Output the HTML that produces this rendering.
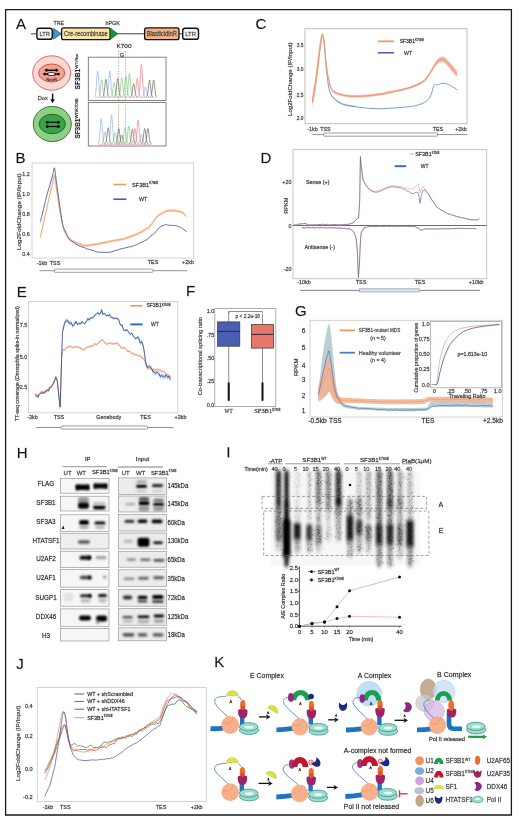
<!DOCTYPE html>
<html><head><meta charset="utf-8"><style>
html,body{margin:0;padding:0;background:#fff;}
svg{display:block;font-family:"Liberation Sans", sans-serif;will-change:transform;}
text{stroke:#2a2a2a;stroke-width:0.28px;stroke-opacity:0.55;}
</style></head><body>
<svg width="520" height="820" viewBox="0 0 520 820">
<defs>
<filter id="b1" filterUnits="userSpaceOnUse" x="0" y="0" width="520" height="820"><feGaussianBlur stdDeviation="0.6"/></filter>
<filter id="b2" x="-50%" y="-50%" width="200%" height="200%"><feGaussianBlur stdDeviation="1.2"/></filter>
<filter id="bg" filterUnits="userSpaceOnUse" x="0" y="0" width="520" height="820"><feGaussianBlur stdDeviation="1.5,2.2"/></filter>
<filter id="bh" filterUnits="userSpaceOnUse" x="0" y="0" width="520" height="820"><feGaussianBlur stdDeviation="0.9"/></filter>
<filter id="b3" x="-50%" y="-50%" width="200%" height="200%"><feGaussianBlur stdDeviation="2"/></filter>
<filter id="gn" x="0" y="0" width="100%" height="100%"><feTurbulence type="fractalNoise" baseFrequency="0.9" numOctaves="2" seed="3"/><feColorMatrix type="matrix" values="0 0 0 0 0  0 0 0 0 0  0 0 0 0 0  0 0 0 -1.2 1.0"/></filter>
</defs>
<rect x="0" y="0" width="520" height="820" fill="#fff"/>
<path d="M5.6,9.6 H511.4 V815 H5.6 Z" fill="none" stroke="#1a1a1a" stroke-width="1.3"/>
<text x="16" y="28.80" font-size="15" text-anchor="start" fill="#111" >A</text>
<text x="15.5" y="162.90" font-size="15" text-anchor="start" fill="#111" >B</text>
<text x="255.5" y="29.10" font-size="15" text-anchor="start" fill="#111" >C</text>
<text x="260.5" y="162.90" font-size="15" text-anchor="start" fill="#111" >D</text>
<text x="16.7" y="297.00" font-size="15" text-anchor="start" fill="#111" >E</text>
<text x="185.9" y="296.30" font-size="15" text-anchor="start" fill="#111" >F</text>
<text x="295" y="316.10" font-size="15" text-anchor="start" fill="#111" >G</text>
<text x="16.8" y="457.80" font-size="15" text-anchor="start" fill="#111" >H</text>
<text x="16.3" y="668.60" font-size="15" text-anchor="start" fill="#111" >J</text>
<text x="214.2" y="667.20" font-size="15" text-anchor="start" fill="#111" >K</text>
<rect x="227.6" y="447.2" width="1.6" height="10.2" rx="0" fill="#111" stroke="none" stroke-width="1" />
<line x1="31" y1="33.8" x2="183" y2="33.8" stroke="#444" stroke-width="1.0" />
<rect x="36.9" y="28.2" width="15.399999999999999" height="11.1" rx="2.4" fill="#f4f4f4" stroke="#111" stroke-width="1.4" />
<text x="44.599999999999994" y="36.20" font-size="6.1" text-anchor="middle" fill="#555" textLength="10.399999999999999" lengthAdjust="spacingAndGlyphs" >LTR</text>
<path d="M53.6,28.4 L61.3,33.8 L53.6,39.2 Z" fill="#3a9ad8" stroke="#1c3c6a" stroke-width="0.6"/>
<rect x="61.6" y="27.9" width="48.5" height="11.8" rx="2" fill="#fbe5a3" stroke="#111" stroke-width="1.3" />
<text x="85.9" y="36.32" font-size="7" text-anchor="middle" fill="#3a3a3a" textLength="43.6" lengthAdjust="spacingAndGlyphs" >Cre-recombinase</text>
<path d="M110.4,28.2 L117.8,33.8 L110.4,39.4 Z" fill="#17924a" stroke="#0c4a24" stroke-width="0.6"/>
<rect x="144.6" y="27.9" width="34.4" height="11.8" rx="2.2" fill="#f3b288" stroke="#111" stroke-width="1.3" />
<text x="161.8" y="36.18" font-size="6.6" text-anchor="middle" fill="#3a3a3a" textLength="30.3" lengthAdjust="spacingAndGlyphs" >BlasticidinR</text>
<rect x="182.7" y="28.2" width="15.800000000000011" height="11.1" rx="2.4" fill="#f4f4f4" stroke="#111" stroke-width="1.4" />
<text x="190.6" y="36.20" font-size="6.1" text-anchor="middle" fill="#555" textLength="10.800000000000011" lengthAdjust="spacingAndGlyphs" >LTR</text>
<text x="58.7" y="25.13" font-size="6.2" text-anchor="middle" fill="#333" textLength="10.4" lengthAdjust="spacingAndGlyphs" >TRE</text>
<text x="112.7" y="25.13" font-size="6.2" text-anchor="middle" fill="#333" textLength="14.6" lengthAdjust="spacingAndGlyphs" >hPGK</text>
<ellipse cx="51.7" cy="73" rx="19" ry="17.2" fill="#fbd9d2" stroke="#d85a5a" stroke-width="0.9"/>
<ellipse cx="51.7" cy="73" rx="13" ry="9" fill="#f3a294" stroke="#c9483f" stroke-width="0.9"/>
<ellipse cx="52.3" cy="124" rx="19" ry="17.6" fill="#8ecf86" stroke="#2a6a30" stroke-width="0.9"/>
<ellipse cx="52.3" cy="124" rx="13.1" ry="9.7" fill="#3ba449" stroke="#1f5b27" stroke-width="0.9"/>
<line x1="46.6" y1="70.3" x2="56.4" y2="70.3" stroke="#111" stroke-width="1.5" />
<circle cx="46.4" cy="70.3" r="1.45" fill="#111"/>
<circle cx="56.6" cy="70.3" r="1.45" fill="#111"/>
<path d="M44.6,74.1 Q51.5,70.2 58.4,74.1 Q51.5,78 44.6,74.1 Z" fill="#111"/>
<ellipse cx="51.5" cy="74.1" rx="3.3" ry="1.05" fill="#fff"/>
<circle cx="44.6" cy="74.1" r="1.45" fill="#111"/>
<circle cx="58.4" cy="74.1" r="1.45" fill="#111"/>
<text x="51.7" y="81.18" font-size="4.4" text-anchor="middle" fill="#7a1f1f" textLength="11" lengthAdjust="spacingAndGlyphs" >NeoR</text>
<line x1="47.4" y1="122.3" x2="58.3" y2="122.3" stroke="#111" stroke-width="1.3" />
<circle cx="47.3" cy="122.3" r="1.55" fill="#111"/>
<circle cx="58.4" cy="122.3" r="1.55" fill="#111"/>
<line x1="47.4" y1="126.5" x2="58.3" y2="126.5" stroke="#111" stroke-width="1.3" />
<circle cx="47.3" cy="126.5" r="1.55" fill="#111"/>
<circle cx="58.4" cy="126.5" r="1.55" fill="#111"/>
<text x="42.7" y="100.16" font-size="6" text-anchor="middle" fill="#333" textLength="10" lengthAdjust="spacingAndGlyphs" >Dox</text>
<line x1="52.6" y1="93.5" x2="52.6" y2="100" stroke="#111" stroke-width="1.4" />
<path d="M50.4,99.3 L52.6,103.2 L54.8,99.3 Z" fill="#111"/>
<text transform="translate(80.1,89.5) rotate(-90)" font-size="7.4" font-weight="bold" fill="#222"><tspan textLength="20.8" lengthAdjust="spacingAndGlyphs">SF3B1</tspan><tspan font-size="4.2" dy="-2.4" font-weight="normal" textLength="15" lengthAdjust="spacingAndGlyphs">WT/flox</tspan></text>
<text transform="translate(80.1,138.6) rotate(-90)" font-size="7.4" font-weight="bold" fill="#222"><tspan textLength="20" lengthAdjust="spacingAndGlyphs">SF3B1</tspan><tspan font-size="4.2" dy="-2.4" font-weight="normal" textLength="20.5" lengthAdjust="spacingAndGlyphs">WT/K700E</tspan></text>
<rect x="88.3" y="57.2" width="77.7" height="43.3" rx="0" fill="#fff" stroke="#666" stroke-width="0.8" />
<rect x="88.3" y="102.4" width="77.7" height="43.6" rx="0" fill="#fff" stroke="#666" stroke-width="0.8" />
<text x="124" y="47.79" font-size="5.8" text-anchor="middle" fill="#222" textLength="15" lengthAdjust="spacingAndGlyphs" >K700</text>
<text x="122.2" y="56.94" font-size="5.4" text-anchor="middle" fill="#222" >G</text>
<path d="M118.6,51 H126" fill="none" stroke="#999" stroke-width="0.5" stroke-dasharray="1,1"/>
<line x1="118.6" y1="51" x2="118.6" y2="145" stroke="#c07a80" stroke-width="0.65" stroke-dasharray="1.6,1.2"/>
<line x1="125.6" y1="51" x2="125.6" y2="145" stroke="#c07a80" stroke-width="0.65" stroke-dasharray="1.6,1.2"/>
<line x1="95" y1="97.30000000000001" x2="156" y2="97.30000000000001" stroke="#e88a90" stroke-width="0.5" />
<path d="M94.10,96.83 L94.40,96.71 L94.70,96.46 L95.00,95.95 L95.30,95.00 L95.60,93.39 L95.90,90.94 L96.20,87.56 L96.50,83.42 L96.80,78.96 L97.10,74.90 L97.40,72.04 L97.70,71.00 L98.00,72.04 L98.30,74.90 L98.60,78.96 L98.90,83.42 L99.20,87.56 L99.50,90.94 L99.80,93.39 L100.10,95.00 L100.40,95.95 L100.70,96.46 L101.00,96.71 L101.30,96.83" fill="none" stroke="#98b0e8" stroke-width="0.7"/>
<path d="M98.10,96.85 L98.40,96.78 L98.70,96.61 L99.00,96.28 L99.30,95.66 L99.60,94.61 L99.90,93.01 L100.20,90.81 L100.50,88.10 L100.80,85.20 L101.10,82.55 L101.40,80.68 L101.70,80.00 L102.00,80.68 L102.30,82.55 L102.60,85.20 L102.90,88.10 L103.20,90.81 L103.50,93.01 L103.80,94.61 L104.10,95.66 L104.40,96.28 L104.70,96.61 L105.00,96.78 L105.30,96.85" fill="none" stroke="#7ccc7c" stroke-width="0.7"/>
<path d="M102.30,96.85 L102.60,96.77 L102.90,96.60 L103.20,96.25 L103.50,95.60 L103.80,94.50 L104.10,92.83 L104.40,90.52 L104.70,87.69 L105.00,84.64 L105.30,81.87 L105.60,79.91 L105.90,79.20 L106.20,79.91 L106.50,81.87 L106.80,84.64 L107.10,87.69 L107.40,90.52 L107.70,92.83 L108.00,94.50 L108.30,95.60 L108.60,96.25 L108.90,96.60 L109.20,96.77 L109.50,96.85" fill="none" stroke="#666" stroke-width="0.7"/>
<path d="M106.20,96.83 L106.50,96.71 L106.80,96.46 L107.10,95.95 L107.40,95.00 L107.70,93.39 L108.00,90.94 L108.30,87.56 L108.60,83.42 L108.90,78.96 L109.20,74.90 L109.50,72.04 L109.80,71.00 L110.10,72.04 L110.40,74.90 L110.70,78.96 L111.00,83.42 L111.30,87.56 L111.60,90.94 L111.90,93.39 L112.20,95.00 L112.50,95.95 L112.80,96.46 L113.10,96.71 L113.40,96.83" fill="none" stroke="#98b0e8" stroke-width="0.7"/>
<path d="M110.50,96.86 L110.80,96.80 L111.10,96.66 L111.40,96.37 L111.70,95.84 L112.00,94.95 L112.30,93.59 L112.60,91.71 L112.90,89.41 L113.20,86.93 L113.50,84.67 L113.80,83.08 L114.10,82.50 L114.40,83.08 L114.70,84.67 L115.00,86.93 L115.30,89.41 L115.60,91.71 L115.90,93.59 L116.20,94.95 L116.50,95.84 L116.80,96.37 L117.10,96.66 L117.40,96.80 L117.70,96.86" fill="none" stroke="#7ccc7c" stroke-width="0.7"/>
<path d="M114.10,96.85 L114.40,96.77 L114.70,96.59 L115.00,96.22 L115.30,95.54 L115.60,94.40 L115.90,92.64 L116.20,90.23 L116.50,87.27 L116.80,84.09 L117.10,81.19 L117.40,79.14 L117.70,78.40 L118.00,79.14 L118.30,81.19 L118.60,84.09 L118.90,87.27 L119.20,90.23 L119.50,92.64 L119.80,94.40 L120.10,95.54 L120.40,96.22 L120.70,96.59 L121.00,96.77 L121.30,96.85" fill="none" stroke="#666" stroke-width="0.7"/>
<path d="M118.20,96.85 L118.50,96.76 L118.80,96.57 L119.10,96.19 L119.40,95.48 L119.70,94.29 L120.00,92.46 L120.30,89.94 L120.60,86.86 L120.90,83.53 L121.20,80.51 L121.50,78.37 L121.80,77.60 L122.10,78.37 L122.40,80.51 L122.70,83.53 L123.00,86.86 L123.30,89.94 L123.60,92.46 L123.90,94.29 L124.20,95.48 L124.50,96.19 L124.80,96.57 L125.10,96.76 L125.40,96.85" fill="none" stroke="#7ccc7c" stroke-width="0.7"/>
<path d="M122.30,96.84 L122.60,96.75 L122.90,96.55 L123.20,96.13 L123.50,95.37 L123.80,94.07 L124.10,92.09 L124.40,89.37 L124.70,86.02 L125.00,82.43 L125.30,79.15 L125.60,76.84 L125.90,76.00 L126.20,76.84 L126.50,79.15 L126.80,82.43 L127.10,86.02 L127.40,89.37 L127.70,92.09 L128.00,94.07 L128.30,95.37 L128.60,96.13 L128.90,96.55 L129.20,96.75 L129.50,96.84" fill="none" stroke="#7ccc7c" stroke-width="0.7"/>
<path d="M125.90,96.83 L126.20,96.73 L126.50,96.51 L126.80,96.04 L127.10,95.18 L127.40,93.73 L127.70,91.52 L128.00,88.47 L128.30,84.72 L128.60,80.69 L128.90,77.02 L129.20,74.44 L129.50,73.50 L129.80,74.44 L130.10,77.02 L130.40,80.69 L130.70,84.72 L131.00,88.47 L131.30,91.52 L131.60,93.73 L131.90,95.18 L132.20,96.04 L132.50,96.51 L132.80,96.73 L133.10,96.83" fill="none" stroke="#7ccc7c" stroke-width="0.7"/>
<path d="M130.10,96.86 L130.40,96.81 L130.70,96.68 L131.00,96.42 L131.30,95.94 L131.60,95.13 L131.90,93.89 L132.20,92.18 L132.50,90.08 L132.80,87.83 L133.10,85.77 L133.40,84.32 L133.70,83.80 L134.00,84.32 L134.30,85.77 L134.60,87.83 L134.90,90.08 L135.20,92.18 L135.50,93.89 L135.80,95.13 L136.10,95.94 L136.40,96.42 L136.70,96.68 L137.00,96.81 L137.30,96.86" fill="none" stroke="#666" stroke-width="0.7"/>
<path d="M133.70,96.85 L134.00,96.77 L134.30,96.59 L134.60,96.22 L134.90,95.54 L135.20,94.40 L135.50,92.64 L135.80,90.23 L136.10,87.27 L136.40,84.09 L136.70,81.19 L137.00,79.14 L137.30,78.40 L137.60,79.14 L137.90,81.19 L138.20,84.09 L138.50,87.27 L138.80,90.23 L139.10,92.64 L139.40,94.40 L139.70,95.54 L140.00,96.22 L140.30,96.59 L140.60,96.77 L140.90,96.85" fill="none" stroke="#ee7f86" stroke-width="0.7"/>
<path d="M137.80,96.81 L138.10,96.67 L138.40,96.35 L138.70,95.71 L139.00,94.52 L139.30,92.52 L139.60,89.45 L139.90,85.22 L140.20,80.04 L140.50,74.46 L140.80,69.38 L141.10,65.80 L141.40,64.50 L141.70,65.80 L142.00,69.38 L142.30,74.46 L142.60,80.04 L142.90,85.22 L143.20,89.45 L143.50,92.52 L143.80,94.52 L144.10,95.71 L144.40,96.35 L144.70,96.67 L145.00,96.81" fill="none" stroke="#ee7f86" stroke-width="0.7"/>
<path d="M141.90,96.87 L142.20,96.83 L142.50,96.73 L142.80,96.54 L143.10,96.17 L143.40,95.56 L143.70,94.62 L144.00,93.33 L144.30,91.75 L144.60,90.04 L144.90,88.49 L145.20,87.40 L145.50,87.00 L145.80,87.40 L146.10,88.49 L146.40,90.04 L146.70,91.75 L147.00,93.33 L147.30,94.62 L147.60,95.56 L147.90,96.17 L148.20,96.54 L148.50,96.73 L148.80,96.83 L149.10,96.87" fill="none" stroke="#98b0e8" stroke-width="0.7"/>
<path d="M146.00,96.85 L146.30,96.78 L146.60,96.61 L146.90,96.28 L147.20,95.66 L147.50,94.61 L147.80,93.01 L148.10,90.81 L148.40,88.10 L148.70,85.20 L149.00,82.55 L149.30,80.68 L149.60,80.00 L149.90,80.68 L150.20,82.55 L150.50,85.20 L150.80,88.10 L151.10,90.81 L151.40,93.01 L151.70,94.61 L152.00,95.66 L152.30,96.28 L152.60,96.61 L152.90,96.78 L153.20,96.85" fill="none" stroke="#666" stroke-width="0.7"/>
<path d="M150.00,96.85 L150.30,96.78 L150.60,96.61 L150.90,96.28 L151.20,95.66 L151.50,94.61 L151.80,93.01 L152.10,90.81 L152.40,88.10 L152.70,85.20 L153.00,82.55 L153.30,80.68 L153.60,80.00 L153.90,80.68 L154.20,82.55 L154.50,85.20 L154.80,88.10 L155.10,90.81 L155.40,93.01 L155.70,94.61 L156.00,95.66 L156.30,96.28 L156.60,96.61 L156.90,96.78 L157.20,96.85" fill="none" stroke="#666" stroke-width="0.7"/>
<line x1="99" y1="144.4" x2="151" y2="144.4" stroke="#e88a90" stroke-width="0.5" />
<path d="M97.70,143.93 L98.00,143.82 L98.30,143.57 L98.60,143.07 L98.90,142.14 L99.20,140.58 L99.50,138.18 L99.80,134.88 L100.10,130.83 L100.40,126.48 L100.70,122.51 L101.00,119.71 L101.30,118.70 L101.60,119.71 L101.90,122.51 L102.20,126.48 L102.50,130.83 L102.80,134.88 L103.10,138.18 L103.40,140.58 L103.70,142.14 L104.00,143.07 L104.30,143.57 L104.60,143.82 L104.90,143.93" fill="none" stroke="#98b0e8" stroke-width="0.7"/>
<path d="M101.40,143.97 L101.70,143.91 L102.00,143.79 L102.30,143.55 L102.60,143.10 L102.90,142.35 L103.20,141.19 L103.50,139.60 L103.80,137.65 L104.10,135.55 L104.40,133.64 L104.70,132.29 L105.00,131.80 L105.30,132.29 L105.60,133.64 L105.90,135.55 L106.20,137.65 L106.50,139.60 L106.80,141.19 L107.10,142.35 L107.40,143.10 L107.70,143.55 L108.00,143.79 L108.30,143.91 L108.60,143.97" fill="none" stroke="#7ccc7c" stroke-width="0.7"/>
<path d="M104.60,143.95 L104.90,143.88 L105.20,143.72 L105.50,143.40 L105.80,142.80 L106.10,141.79 L106.40,140.25 L106.70,138.12 L107.00,135.52 L107.30,132.71 L107.60,130.16 L107.90,128.35 L108.20,127.70 L108.50,128.35 L108.80,130.16 L109.10,132.71 L109.40,135.52 L109.70,138.12 L110.00,140.25 L110.30,141.79 L110.60,142.80 L110.90,143.40 L111.20,143.72 L111.50,143.88 L111.80,143.95" fill="none" stroke="#666" stroke-width="0.7"/>
<path d="M108.00,143.92 L108.30,143.79 L108.60,143.50 L108.90,142.92 L109.20,141.84 L109.50,140.02 L109.80,137.24 L110.10,133.40 L110.40,128.70 L110.70,123.64 L111.00,119.03 L111.30,115.78 L111.60,114.60 L111.90,115.78 L112.20,119.03 L112.50,123.64 L112.80,128.70 L113.10,133.40 L113.40,137.24 L113.70,140.02 L114.00,141.84 L114.30,142.92 L114.60,143.50 L114.90,143.79 L115.20,143.92" fill="none" stroke="#98b0e8" stroke-width="0.7"/>
<path d="M111.60,143.97 L111.90,143.92 L112.20,143.81 L112.50,143.58 L112.80,143.16 L113.10,142.46 L113.40,141.38 L113.70,139.89 L114.00,138.07 L114.30,136.10 L114.60,134.32 L114.90,133.06 L115.20,132.60 L115.50,133.06 L115.80,134.32 L116.10,136.10 L116.40,138.07 L116.70,139.89 L117.00,141.38 L117.30,142.46 L117.60,143.16 L117.90,143.58 L118.20,143.81 L118.50,143.92 L118.80,143.97" fill="none" stroke="#7ccc7c" stroke-width="0.7"/>
<path d="M115.20,143.96 L115.50,143.89 L115.80,143.74 L116.10,143.43 L116.40,142.86 L116.70,141.90 L117.00,140.43 L117.30,138.41 L117.60,135.93 L117.90,133.27 L118.20,130.83 L118.50,129.12 L118.80,128.50 L119.10,129.12 L119.40,130.83 L119.70,133.27 L120.00,135.93 L120.30,138.41 L120.60,140.43 L120.90,141.90 L121.20,142.86 L121.50,143.43 L121.80,143.74 L122.10,143.89 L122.40,143.96" fill="none" stroke="#666" stroke-width="0.7"/>
<path d="M118.20,143.97 L118.50,143.94 L118.80,143.85 L119.10,143.67 L119.40,143.34 L119.70,142.78 L120.00,141.93 L120.30,140.76 L120.60,139.32 L120.90,137.77 L121.20,136.36 L121.50,135.36 L121.80,135.00 L122.10,135.36 L122.40,136.36 L122.70,137.77 L123.00,139.32 L123.30,140.76 L123.60,141.93 L123.90,142.78 L124.20,143.34 L124.50,143.67 L124.80,143.85 L125.10,143.94 L125.40,143.97" fill="none" stroke="#666" stroke-width="0.7"/>
<path d="M121.40,143.95 L121.70,143.88 L122.00,143.72 L122.30,143.40 L122.60,142.80 L122.90,141.79 L123.20,140.25 L123.50,138.12 L123.80,135.52 L124.10,132.71 L124.40,130.16 L124.70,128.35 L125.00,127.70 L125.30,128.35 L125.60,130.16 L125.90,132.71 L126.20,135.52 L126.50,138.12 L126.80,140.25 L127.10,141.79 L127.40,142.80 L127.70,143.40 L128.00,143.72 L128.30,143.88 L128.60,143.95" fill="none" stroke="#7ccc7c" stroke-width="0.7"/>
<path d="M125.20,143.95 L125.50,143.87 L125.80,143.70 L126.10,143.34 L126.40,142.68 L126.70,141.56 L127.00,139.86 L127.30,137.51 L127.60,134.63 L127.90,131.53 L128.20,128.71 L128.50,126.72 L128.80,126.00 L129.10,126.72 L129.40,128.71 L129.70,131.53 L130.00,134.63 L130.30,137.51 L130.60,139.86 L130.90,141.56 L131.20,142.68 L131.50,143.34 L131.80,143.70 L132.10,143.87 L132.40,143.95" fill="none" stroke="#7ccc7c" stroke-width="0.7"/>
<path d="M128.80,143.96 L129.10,143.89 L129.40,143.75 L129.70,143.46 L130.00,142.92 L130.30,142.01 L130.60,140.62 L130.90,138.70 L131.20,136.35 L131.50,133.82 L131.80,131.51 L132.10,129.89 L132.40,129.30 L132.70,129.89 L133.00,131.51 L133.30,133.82 L133.60,136.35 L133.90,138.70 L134.20,140.62 L134.50,142.01 L134.80,142.92 L135.10,143.46 L135.40,143.75 L135.70,143.89 L136.00,143.96" fill="none" stroke="#666" stroke-width="0.7"/>
<path d="M131.30,143.96 L131.60,143.89 L131.90,143.74 L132.20,143.43 L132.50,142.86 L132.80,141.90 L133.10,140.43 L133.40,138.41 L133.70,135.93 L134.00,133.27 L134.30,130.83 L134.60,129.12 L134.90,128.50 L135.20,129.12 L135.50,130.83 L135.80,133.27 L136.10,135.93 L136.40,138.41 L136.70,140.43 L137.00,141.90 L137.30,142.86 L137.60,143.43 L137.90,143.74 L138.20,143.89 L138.50,143.96" fill="none" stroke="#ee7f86" stroke-width="0.7"/>
<path d="M134.50,143.93 L134.80,143.83 L135.10,143.60 L135.40,143.13 L135.70,142.26 L136.00,140.79 L136.30,138.55 L136.60,135.46 L136.90,131.67 L137.20,127.59 L137.50,123.87 L137.80,121.25 L138.10,120.30 L138.40,121.25 L138.70,123.87 L139.00,127.59 L139.30,131.67 L139.60,135.46 L139.90,138.55 L140.20,140.79 L140.50,142.26 L140.80,143.13 L141.10,143.60 L141.40,143.83 L141.70,143.93" fill="none" stroke="#ee7f86" stroke-width="0.7"/>
<path d="M137.80,143.97 L138.10,143.93 L138.40,143.83 L138.70,143.64 L139.00,143.28 L139.30,142.67 L139.60,141.75 L139.90,140.47 L140.20,138.90 L140.50,137.21 L140.80,135.68 L141.10,134.59 L141.40,134.20 L141.70,134.59 L142.00,135.68 L142.30,137.21 L142.60,138.90 L142.90,140.47 L143.20,141.75 L143.50,142.67 L143.80,143.28 L144.10,143.64 L144.40,143.83 L144.70,143.93 L145.00,143.97" fill="none" stroke="#98b0e8" stroke-width="0.7"/>
<path d="M141.10,143.96 L141.40,143.89 L141.70,143.74 L142.00,143.43 L142.30,142.86 L142.60,141.90 L142.90,140.43 L143.20,138.41 L143.50,135.93 L143.80,133.27 L144.10,130.83 L144.40,129.12 L144.70,128.50 L145.00,129.12 L145.30,130.83 L145.60,133.27 L145.90,135.93 L146.20,138.41 L146.50,140.43 L146.80,141.90 L147.10,142.86 L147.40,143.43 L147.70,143.74 L148.00,143.89 L148.30,143.96" fill="none" stroke="#666" stroke-width="0.7"/>
<path d="M144.30,143.96 L144.60,143.89 L144.90,143.74 L145.20,143.43 L145.50,142.86 L145.80,141.90 L146.10,140.43 L146.40,138.41 L146.70,135.93 L147.00,133.27 L147.30,130.83 L147.60,129.12 L147.90,128.50 L148.20,129.12 L148.50,130.83 L148.80,133.27 L149.10,135.93 L149.40,138.41 L149.70,140.43 L150.00,141.90 L150.30,142.86 L150.60,143.43 L150.90,143.74 L151.20,143.89 L151.50,143.96" fill="none" stroke="#666" stroke-width="0.7"/>
<rect x="32" y="163" width="161.7" height="95" rx="0" fill="none" stroke="#c8c8c8" stroke-width="0.8" />
<text x="29.8" y="176.44" font-size="5.4" text-anchor="end" fill="#333" >1.2</text>
<text x="29.8" y="196.44" font-size="5.4" text-anchor="end" fill="#333" >1.0</text>
<text x="29.8" y="216.44" font-size="5.4" text-anchor="end" fill="#333" >0.8</text>
<text x="29.8" y="236.44" font-size="5.4" text-anchor="end" fill="#333" >0.6</text>
<text x="29.8" y="256.44" font-size="5.4" text-anchor="end" fill="#333" >0.4</text>
<text transform="translate(18.9,211.7) rotate(-90)" x="0" y="2.09" font-size="5.8" text-anchor="middle" fill="#333" textLength="76.6" lengthAdjust="spacingAndGlyphs" >Log2FoldChange (IP/Input)</text>
<text x="41.9" y="264.94" font-size="5.4" text-anchor="middle" fill="#333" >-1kb</text>
<text x="55" y="264.94" font-size="5.4" text-anchor="middle" fill="#333" >TSS</text>
<text x="153" y="264.44" font-size="5.4" text-anchor="middle" fill="#333" >TES</text>
<text x="188" y="264.44" font-size="5.4" text-anchor="middle" fill="#333" >+2kb</text>
<line x1="39.5" y1="270.7" x2="187" y2="270.7" stroke="#777" stroke-width="0.8" />
<rect x="54.5" y="269.09999999999997" width="98.5" height="3.2" rx="0.6" fill="#fff" stroke="#777" stroke-width="0.7" />
<path d="M40.50,235.50 C41.58,230.53 44.67,215.88 47.00,205.70 C49.33,195.52 52.43,174.07 54.50,174.40 C56.57,174.73 57.77,198.43 59.40,207.70 C61.03,216.97 62.38,224.82 64.30,230.00 C66.22,235.18 67.63,236.42 70.90,238.80 C74.17,241.18 79.82,243.60 83.90,244.30 C87.98,245.00 91.30,243.65 95.40,243.00 C99.50,242.35 103.60,241.37 108.50,240.40 C113.40,239.43 119.90,238.55 124.80,237.20 C129.70,235.85 133.82,234.22 137.90,232.30 C141.98,230.38 146.03,228.60 149.30,225.70 C152.57,222.80 154.50,217.62 157.50,214.90 C160.50,212.18 164.30,210.32 167.30,209.40 C170.30,208.48 173.05,209.13 175.50,209.40 C177.95,209.67 180.20,210.08 182.00,211.00 C183.80,211.92 185.58,214.25 186.30,214.90 L186.30,217.50 C185.58,216.85 183.80,214.52 182.00,213.60 C180.20,212.68 177.95,212.27 175.50,212.00 C173.05,211.73 170.30,211.08 167.30,212.00 C164.30,212.92 160.50,214.78 157.50,217.50 C154.50,220.22 152.57,225.40 149.30,228.30 C146.03,231.20 141.98,232.98 137.90,234.90 C133.82,236.82 129.70,238.45 124.80,239.80 C119.90,241.15 113.40,242.03 108.50,243.00 C103.60,243.97 99.50,244.95 95.40,245.60 C91.30,246.25 87.98,247.60 83.90,246.90 C79.82,246.20 74.17,243.78 70.90,241.40 C67.63,239.02 66.22,237.78 64.30,232.60 C62.38,227.42 61.03,219.57 59.40,210.30 C57.77,201.03 56.57,177.33 54.50,177.00 C52.43,176.67 49.33,198.12 47.00,208.30 C44.67,218.48 41.58,233.13 40.50,238.10 Z" fill="#f8c9a6" fill-opacity="0.8" stroke="none"/>
<path d="M40.50,236.67 C40.77,235.45 41.58,231.84 42.12,229.37 C42.67,226.90 43.21,224.31 43.75,221.83 C44.29,219.36 44.83,216.96 45.38,214.50 C45.92,212.04 46.48,209.39 47.00,207.06 C47.52,204.73 48.00,202.66 48.50,200.52 C49.00,198.39 49.50,196.26 50.00,194.24 C50.50,192.21 51.00,190.45 51.50,188.39 C52.00,186.32 52.50,183.98 53.00,181.84 C53.50,179.70 53.98,174.70 54.50,175.57 C55.02,176.44 55.59,183.33 56.13,187.05 C56.68,190.77 57.22,194.20 57.77,197.89 C58.31,201.57 58.86,206.08 59.40,209.17 C59.94,212.26 60.49,213.96 61.03,216.42 C61.58,218.88 62.12,221.49 62.67,223.94 C63.21,226.39 63.75,229.52 64.30,231.13 C64.85,232.73 65.40,232.77 65.95,233.57 C66.50,234.36 67.05,235.16 67.60,235.88 C68.15,236.61 68.70,237.19 69.25,237.91 C69.80,238.63 70.35,239.73 70.90,240.22 C71.45,240.71 71.98,240.70 72.53,240.87 C73.07,241.05 73.61,241.02 74.15,241.26 C74.69,241.49 75.23,242.02 75.78,242.29 C76.32,242.56 76.86,242.70 77.40,242.90 C77.94,243.09 78.48,243.26 79.03,243.44 C79.57,243.62 80.11,243.71 80.65,243.99 C81.19,244.27 81.73,244.83 82.28,245.10 C82.82,245.36 83.36,245.51 83.90,245.59 C84.44,245.66 85.00,245.55 85.54,245.52 C86.09,245.50 86.64,245.48 87.19,245.42 C87.73,245.36 88.28,245.21 88.83,245.15 C89.38,245.09 89.92,245.16 90.47,245.07 C91.02,244.98 91.57,244.69 92.11,244.62 C92.66,244.55 93.21,244.69 93.76,244.64 C94.30,244.58 94.85,244.35 95.40,244.27 C95.95,244.20 96.49,244.26 97.04,244.19 C97.58,244.12 98.13,244.02 98.68,243.84 C99.22,243.66 99.77,243.29 100.31,243.12 C100.86,242.95 101.40,242.92 101.95,242.82 C102.50,242.72 103.04,242.57 103.59,242.53 C104.13,242.49 104.68,242.67 105.22,242.58 C105.77,242.49 106.32,242.13 106.86,241.99 C107.41,241.86 107.96,241.88 108.50,241.76 C109.04,241.64 109.59,241.40 110.13,241.28 C110.67,241.16 111.22,241.16 111.76,241.06 C112.30,240.96 112.85,240.80 113.39,240.68 C113.93,240.56 114.48,240.44 115.02,240.35 C115.56,240.26 116.11,240.23 116.65,240.14 C117.19,240.06 117.74,239.90 118.28,239.82 C118.82,239.74 119.37,239.76 119.91,239.66 C120.45,239.56 121.00,239.34 121.54,239.23 C122.08,239.13 122.63,239.13 123.17,239.03 C123.71,238.94 124.26,238.83 124.80,238.68 C125.34,238.53 125.89,238.35 126.44,238.13 C126.98,237.91 127.53,237.63 128.07,237.36 C128.62,237.09 129.17,236.68 129.71,236.49 C130.26,236.31 130.80,236.37 131.35,236.23 C131.90,236.09 132.44,235.87 132.99,235.67 C133.53,235.47 134.08,235.26 134.62,235.03 C135.17,234.79 135.72,234.47 136.26,234.25 C136.81,234.03 137.36,234.00 137.90,233.71 C138.44,233.42 138.99,232.82 139.53,232.51 C140.07,232.21 140.61,232.16 141.16,231.88 C141.70,231.60 142.24,231.17 142.79,230.81 C143.33,230.45 143.87,230.08 144.41,229.72 C144.96,229.36 145.50,228.93 146.04,228.67 C146.59,228.40 147.13,228.36 147.67,228.12 C148.21,227.88 148.76,227.83 149.30,227.24 C149.84,226.66 150.39,225.37 150.94,224.63 C151.49,223.90 152.03,223.52 152.58,222.83 C153.13,222.14 153.67,221.25 154.22,220.48 C154.77,219.70 155.31,218.92 155.86,218.19 C156.41,217.46 156.95,216.56 157.50,216.10 C158.05,215.64 158.59,215.68 159.13,215.42 C159.68,215.16 160.22,214.92 160.77,214.55 C161.31,214.19 161.86,213.55 162.40,213.22 C162.94,212.90 163.49,212.90 164.03,212.59 C164.58,212.29 165.12,211.69 165.67,211.39 C166.21,211.09 166.75,210.94 167.30,210.81 C167.85,210.68 168.39,210.60 168.94,210.62 C169.49,210.63 170.03,210.84 170.58,210.89 C171.13,210.94 171.67,210.97 172.22,210.94 C172.77,210.91 173.31,210.70 173.86,210.70 C174.41,210.70 174.96,210.90 175.50,210.95 C176.04,211.00 176.58,210.95 177.12,211.00 C177.67,211.06 178.21,211.13 178.75,211.29 C179.29,211.45 179.83,211.82 180.38,211.95 C180.92,212.08 181.37,211.71 182.00,212.07 C182.63,212.42 183.43,213.42 184.15,214.10 C184.87,214.78 185.94,215.81 186.30,216.15" fill="none" stroke="#f29a5c" stroke-width="0.9" stroke-linejoin="round" stroke-linecap="round" />
<path d="M40.50,221.37 C40.77,220.25 41.58,216.87 42.12,214.68 C42.67,212.48 43.21,210.40 43.75,208.20 C44.29,205.99 44.83,203.69 45.38,201.45 C45.92,199.22 46.48,196.76 47.00,194.78 C47.52,192.81 48.00,191.31 48.50,189.59 C49.00,187.88 49.50,186.24 50.00,184.49 C50.50,182.74 51.00,180.87 51.50,179.07 C52.00,177.27 52.50,175.53 53.00,173.69 C53.50,171.86 53.89,166.39 54.50,168.06 C55.11,169.73 55.93,178.55 56.65,183.72 C57.37,188.89 58.12,194.35 58.80,199.09 C59.48,203.82 60.10,207.78 60.75,212.14 C61.40,216.49 62.05,222.29 62.70,225.20 C63.35,228.12 64.01,228.10 64.67,229.62 C65.32,231.15 65.98,232.84 66.63,234.35 C67.29,235.85 67.97,237.71 68.60,238.66 C69.23,239.62 69.80,239.62 70.40,240.10 C71.00,240.58 71.60,241.12 72.20,241.55 C72.80,241.98 73.40,242.25 74.00,242.70 C74.60,243.14 75.23,243.82 75.80,244.20 C76.37,244.59 76.89,244.77 77.43,245.02 C77.97,245.27 78.51,245.49 79.06,245.73 C79.60,245.97 80.14,246.22 80.69,246.45 C81.23,246.68 81.77,246.96 82.31,247.12 C82.86,247.27 83.40,247.18 83.94,247.38 C84.49,247.58 85.03,248.03 85.57,248.30 C86.11,248.56 86.66,248.81 87.20,248.99 C87.74,249.17 88.29,249.26 88.83,249.37 C89.37,249.49 89.91,249.53 90.46,249.68 C91.00,249.84 91.54,250.15 92.09,250.30 C92.63,250.45 93.17,250.38 93.71,250.58 C94.26,250.78 94.80,251.25 95.34,251.47 C95.89,251.70 96.43,251.79 96.97,251.91 C97.51,252.04 98.06,252.19 98.60,252.22 C99.14,252.26 99.69,252.07 100.23,252.10 C100.77,252.13 101.31,252.38 101.86,252.40 C102.40,252.43 102.94,252.24 103.49,252.24 C104.03,252.23 104.57,252.37 105.11,252.39 C105.66,252.41 106.20,252.41 106.74,252.37 C107.29,252.34 107.83,252.24 108.37,252.20 C108.91,252.17 109.45,252.23 110.00,252.16 C110.55,252.09 111.10,251.93 111.64,251.78 C112.19,251.62 112.74,251.42 113.29,251.22 C113.83,251.03 114.38,250.78 114.93,250.62 C115.48,250.45 116.02,250.32 116.57,250.22 C117.12,250.11 117.67,250.18 118.21,250.00 C118.76,249.82 119.31,249.36 119.86,249.14 C120.40,248.92 120.95,248.77 121.50,248.67 C122.05,248.57 122.59,248.67 123.14,248.55 C123.68,248.43 124.23,248.11 124.78,247.97 C125.32,247.82 125.87,247.80 126.41,247.68 C126.96,247.56 127.50,247.39 128.05,247.24 C128.60,247.08 129.14,246.85 129.69,246.76 C130.23,246.67 130.78,246.82 131.32,246.67 C131.87,246.52 132.42,246.05 132.96,245.86 C133.51,245.67 134.06,245.76 134.60,245.56 C135.14,245.36 135.69,244.91 136.23,244.67 C136.77,244.42 137.31,244.35 137.86,244.09 C138.40,243.84 138.94,243.42 139.49,243.13 C140.03,242.85 140.57,242.61 141.11,242.39 C141.66,242.16 142.20,242.06 142.74,241.79 C143.29,241.53 143.83,241.07 144.37,240.80 C144.91,240.52 145.46,240.43 146.00,240.13 C146.54,239.83 147.09,239.47 147.64,239.00 C148.19,238.53 148.73,237.80 149.28,237.30 C149.83,236.80 150.37,236.40 150.92,235.98 C151.47,235.56 152.01,235.14 152.56,234.76 C153.11,234.39 153.60,234.28 154.20,233.73 C154.80,233.18 155.51,232.24 156.17,231.46 C156.82,230.68 157.48,229.83 158.13,229.07 C158.79,228.31 159.46,227.41 160.10,226.92 C160.74,226.42 161.34,226.32 161.97,226.07 C162.59,225.83 163.21,225.71 163.83,225.45 C164.46,225.18 165.12,224.56 165.70,224.47 C166.28,224.39 166.78,224.82 167.32,224.94 C167.86,225.06 168.40,225.11 168.94,225.18 C169.48,225.25 170.02,225.31 170.56,225.35 C171.10,225.38 171.64,225.33 172.18,225.38 C172.72,225.42 173.25,225.60 173.80,225.63 C174.35,225.66 174.90,225.48 175.45,225.56 C176.00,225.64 176.55,225.88 177.10,226.09 C177.65,226.31 178.20,226.66 178.75,226.83 C179.30,227.01 179.80,226.88 180.40,227.14 C181.00,227.40 181.71,227.90 182.37,228.39 C183.02,228.88 183.68,229.59 184.33,230.09 C184.99,230.58 185.97,231.15 186.30,231.36" fill="none" stroke="#4b5ca8" stroke-width="0.9" stroke-linejoin="round" stroke-linecap="round" />
<line x1="113.4" y1="184.5" x2="126.4" y2="184.5" stroke="#f29a5c" stroke-width="1.6" />
<line x1="113.4" y1="199.2" x2="126.4" y2="199.2" stroke="#4b5ca8" stroke-width="1.6" />
<text x="132" y="186.52" font-size="5.6" text-anchor="start" fill="#222">SF3B1<tspan font-size="3.1" dy="-2.13">K700E</tspan></text>
<text x="138.9" y="200.94" font-size="5.4" text-anchor="start" fill="#333" >WT</text>
<rect x="305" y="28.75" width="162" height="95.0" rx="0" fill="none" stroke="#b0b0b0" stroke-width="0.8" />
<text x="303.5" y="47.48" font-size="4.8" text-anchor="end" fill="#333" >3.5</text>
<text x="303.5" y="71.23" font-size="4.8" text-anchor="end" fill="#333" >3.0</text>
<text x="303.5" y="96.73" font-size="4.8" text-anchor="end" fill="#333" >2.5</text>
<text x="303.5" y="119.73" font-size="4.8" text-anchor="end" fill="#333" >2.0</text>
<text transform="translate(290,79.25) rotate(-90)" x="0" y="2.20" font-size="6.1" text-anchor="middle" fill="#333" textLength="73.5" lengthAdjust="spacingAndGlyphs" >Log2FoldChange (IP/Input)</text>
<text x="312.5" y="130.66" font-size="5.3" text-anchor="middle" fill="#333" >-1kb</text>
<text x="325.4" y="130.66" font-size="5.3" text-anchor="middle" fill="#333" >TSS</text>
<text x="438" y="130.91" font-size="5.3" text-anchor="middle" fill="#333" >TES</text>
<text x="461" y="130.91" font-size="5.3" text-anchor="middle" fill="#333" >+2kb</text>
<line x1="312.5" y1="134.6" x2="467.5" y2="134.6" stroke="#777" stroke-width="0.8" />
<rect x="323.75" y="133.0" width="113.75" height="3.2" rx="0.6" fill="#fff" stroke="#777" stroke-width="0.7" />
<path d="M324.30,44.00 C324.67,48.17 325.65,61.43 326.50,69.00 C327.35,76.57 328.10,84.63 329.40,89.40 C330.70,94.17 332.12,95.32 334.30,97.60 C336.48,99.88 338.95,101.75 342.50,103.10 C346.05,104.45 353.42,105.27 355.60,105.70 L355.60,107.70 C353.42,107.27 346.05,106.45 342.50,105.10 C338.95,103.75 336.48,101.88 334.30,99.60 C332.12,97.32 330.70,96.17 329.40,91.40 C328.10,86.63 327.35,78.57 326.50,71.00 C325.65,63.43 324.67,50.17 324.30,46.00 Z" fill="#b8d0ec" fill-opacity="0.8" stroke="none"/>
<path d="M312.40,101.80 C313.00,98.17 314.82,88.30 316.00,80.00 C317.18,71.70 318.47,59.50 319.50,52.00 C320.53,44.50 321.40,36.17 322.20,35.00 C323.00,33.83 323.58,39.17 324.30,45.00 C325.02,50.83 325.65,62.43 326.50,70.00 C327.35,77.57 328.10,85.63 329.40,90.40 C330.70,95.17 332.12,96.32 334.30,98.60 C336.48,100.88 338.95,102.75 342.50,104.10 C346.05,105.45 350.15,105.93 355.60,106.70 C361.05,107.47 368.12,108.53 375.20,108.70 C382.28,108.87 391.02,108.30 398.10,107.70 C405.18,107.10 412.53,106.62 417.70,105.10 C422.87,103.58 426.38,101.87 429.10,98.60 C431.82,95.33 432.63,87.80 434.00,85.50 C435.37,83.20 435.67,85.18 437.30,84.80 C438.93,84.42 441.62,83.08 443.80,83.20 C445.98,83.32 448.22,84.42 450.40,85.50 C452.58,86.58 455.82,89.00 456.90,89.70" fill="none" stroke="#5a84c0" stroke-width="0.8" stroke-linejoin="round" stroke-linecap="round" />
<path d="M312.40,95.80 C313.00,91.83 314.82,80.63 316.00,72.00 C317.18,63.37 318.47,50.50 319.50,44.00 C320.53,37.50 321.40,33.83 322.20,33.00 C323.00,32.17 323.63,34.63 324.30,39.00 C324.97,43.37 325.23,51.78 326.20,59.20 C327.17,66.62 328.47,78.08 330.10,83.50 C331.73,88.92 332.30,89.77 336.00,91.70 C339.70,93.63 346.32,94.70 352.30,95.10 C358.28,95.50 365.37,94.82 371.90,94.10 C378.43,93.38 384.97,92.17 391.50,90.80 C398.03,89.43 405.65,87.82 411.10,85.90 C416.55,83.98 420.65,82.42 424.20,79.30 C427.75,76.18 430.22,70.53 432.40,67.20 C434.58,63.87 435.55,61.08 437.30,59.30 C439.05,57.53 441.00,56.23 442.90,56.55 C444.80,56.87 446.92,59.48 448.70,61.20 C450.48,62.92 452.23,65.26 453.60,66.85 C454.97,68.44 456.35,70.10 456.90,70.75 L456.90,77.25 C456.35,76.60 454.97,75.02 453.60,73.35 C452.23,71.67 450.48,69.08 448.70,67.20 C446.92,65.32 444.80,62.60 442.90,62.05 C441.00,61.50 439.05,62.41 437.30,63.90 C435.55,65.39 434.58,68.00 432.40,71.00 C430.22,74.00 427.75,79.02 424.20,81.90 C420.65,84.78 416.55,86.42 411.10,88.30 C405.65,90.18 398.03,91.83 391.50,93.20 C384.97,94.57 378.43,95.78 371.90,96.50 C365.37,97.22 358.28,97.87 352.30,97.50 C346.32,97.13 339.70,95.97 336.00,94.30 C332.30,92.63 331.73,91.68 330.10,87.50 C328.47,83.32 327.17,76.28 326.20,69.20 C325.23,62.12 324.97,50.20 324.30,45.00 C323.63,39.80 323.00,35.50 322.20,38.00 C321.40,40.50 320.53,51.67 319.50,60.00 C318.47,68.33 317.18,80.03 316.00,88.00 C314.82,95.97 313.00,104.50 312.40,107.80 Z" fill="#f5b49a" fill-opacity="0.95" stroke="none"/>
<path d="M312.40,101.80 C313.00,98.17 314.82,88.30 316.00,80.00 C317.18,71.70 318.47,59.42 319.50,52.00 C320.53,44.58 321.40,37.17 322.20,35.50 C323.00,33.83 323.63,37.22 324.30,42.00 C324.97,46.78 325.23,56.95 326.20,64.20 C327.17,71.45 328.47,80.70 330.10,85.50 C331.73,90.30 332.30,91.20 336.00,93.00 C339.70,94.80 346.32,95.92 352.30,96.30 C358.28,96.68 365.37,96.02 371.90,95.30 C378.43,94.58 384.97,93.37 391.50,92.00 C398.03,90.63 405.65,89.00 411.10,87.10 C416.55,85.20 420.65,83.60 424.20,80.60 C427.75,77.60 430.22,72.27 432.40,69.10 C434.58,65.93 435.55,63.23 437.30,61.60 C439.05,59.97 441.00,58.87 442.90,59.30 C444.80,59.73 446.92,62.40 448.70,64.20 C450.48,66.00 452.23,68.47 453.60,70.10 C454.97,71.73 456.35,73.35 456.90,74.00" fill="none" stroke="#ee8a64" stroke-width="0.7" stroke-linejoin="round" stroke-linecap="round" />
<line x1="377.8" y1="41.3" x2="394.1" y2="41.3" stroke="#f09a70" stroke-width="1.8" />
<line x1="377.8" y1="52.8" x2="394.1" y2="52.8" stroke="#3b4f9a" stroke-width="1.4" />
<text x="399.7" y="43.00" font-size="5.0" text-anchor="start" fill="#222">SF3B1<tspan font-size="3.0" dy="-1.90">K700E</tspan></text>
<text x="404" y="54.57" font-size="5.2" text-anchor="start" fill="#333" >WT</text>
<rect x="293" y="149.5" width="193.75" height="129.25" rx="0" fill="none" stroke="#b8b8b8" stroke-width="0.8" />
<line x1="293" y1="225.5" x2="486.75" y2="225.5" stroke="#444" stroke-width="0.8" />
<text x="291.5" y="183.94" font-size="5.4" text-anchor="end" fill="#333" >+20</text>
<text x="291.5" y="227.69" font-size="5.4" text-anchor="end" fill="#333" >0</text>
<text x="291.5" y="271.44" font-size="5.4" text-anchor="end" fill="#333" >-20</text>
<text transform="translate(286.2,205.6) rotate(-90)" x="0" y="2.02" font-size="5.6" text-anchor="middle" fill="#333" textLength="16.2" lengthAdjust="spacingAndGlyphs" >RPKM</text>
<text x="306" y="183.94" font-size="5.4" text-anchor="start" fill="#222" textLength="23.5" lengthAdjust="spacingAndGlyphs" >Sense (+)</text>
<text x="304.5" y="248.69" font-size="5.4" text-anchor="start" fill="#222" textLength="30.5" lengthAdjust="spacingAndGlyphs" >Antisense (-)</text>
<text x="304" y="284.44" font-size="5.4" text-anchor="middle" fill="#333" >-10kb</text>
<text x="361" y="284.44" font-size="5.4" text-anchor="middle" fill="#333" >TSS</text>
<text x="420" y="284.44" font-size="5.4" text-anchor="middle" fill="#333" >TES</text>
<text x="476.2" y="284.44" font-size="5.4" text-anchor="middle" fill="#333" >+10kb</text>
<line x1="300" y1="290.4" x2="480" y2="290.4" stroke="#666" stroke-width="0.8" />
<rect x="359.5" y="288.8" width="60" height="3.2" rx="0" fill="#d6e2ec" stroke="#8899aa" stroke-width="0.6" />
<path d="M294.00,224.97 L295.20,224.88 L296.40,224.98 L297.60,224.50 L298.80,224.37 L300.00,224.26 L301.25,223.75 L302.50,223.76 L303.75,223.62 L305.00,223.51 L306.50,223.87 L308.00,224.86 L309.20,224.67 L310.40,225.14 L311.60,225.02 L312.80,224.52 L314.00,225.14 L315.20,225.09 L316.40,224.83 L317.60,224.76 L318.80,224.40 L320.00,224.26 L321.25,224.63 L322.50,224.32 L323.75,224.42 L325.00,224.47 L326.25,224.33 L327.50,224.65 L328.75,224.65 L330.00,224.94 L331.25,224.73 L332.50,224.82 L333.75,224.74 L335.00,224.86 L336.25,224.73 L337.50,224.62 L338.75,225.14 L340.00,225.15 L341.25,224.96 L342.50,224.80 L343.75,224.45 L345.00,224.31 L346.25,224.28 L347.50,224.05 L348.75,224.46 L350.00,224.13 L351.50,223.59 L353.00,222.42 L354.50,221.32 L356.00,219.74 L357.30,218.30 L358.60,217.60 L359.70,200.29 L360.40,156.48 L361.40,168.34 L363.00,179.93 L365.00,183.20 L366.50,185.59 L368.00,187.69 L369.50,188.84 L371.00,190.21 L372.25,190.63 L373.50,191.32 L374.75,191.43 L376.00,191.23 L377.25,190.95 L378.50,190.47 L379.75,190.07 L381.00,190.21 L382.25,189.15 L383.50,188.79 L384.75,188.09 L386.00,187.28 L387.25,187.29 L388.50,186.49 L389.75,186.48 L391.00,185.73 L392.25,185.94 L393.50,185.80 L394.75,185.84 L396.00,186.33 L397.33,186.38 L398.67,186.20 L400.00,186.77 L401.25,186.67 L402.50,187.18 L403.75,187.87 L405.00,188.10 L406.25,187.97 L407.50,188.84 L408.75,188.55 L410.00,188.83 L411.50,189.19 L413.00,188.88 L414.50,187.61 L416.00,186.20 L417.25,184.71 L418.50,183.56 L420.00,192.82 L421.50,189.07 L423.00,186.91 L425.00,188.97 L426.75,191.82 L428.50,193.99 L430.25,197.05 L432.00,200.26 L433.40,201.94 L434.80,204.09 L436.20,206.79 L437.40,207.60 L438.60,208.07 L439.80,208.91 L441.00,210.17 L442.34,211.01 L443.68,211.19 L445.02,212.42 L446.36,213.07 L447.70,213.57 L448.92,213.86 L450.13,214.06 L451.35,214.43 L452.57,215.49 L453.78,215.40 L455.00,216.14 L456.33,216.16 L457.67,216.89 L459.00,217.07 L460.33,217.19 L461.67,217.44 L463.00,218.15 L464.40,218.00 L465.80,218.41 L467.20,218.94 L468.60,219.45 L470.00,219.58 L471.30,219.45 L472.60,219.99 L473.90,219.59 L475.20,219.56 L476.50,219.84 L477.75,219.46 L479.00,218.69" fill="none" stroke="#ec9a8c" stroke-width="0.65" stroke-linejoin="round" stroke-linecap="round" />
<path d="M294.00,224.98 L295.20,224.95 L296.40,224.80 L297.60,224.27 L298.80,224.02 L300.00,224.11 L301.25,223.82 L302.50,223.97 L303.75,223.66 L305.00,223.37 L306.50,224.19 L308.00,225.11 L309.20,224.71 L310.40,224.88 L311.60,224.64 L312.80,225.12 L314.00,224.49 L315.20,224.98 L316.40,224.42 L317.60,224.81 L318.80,224.53 L320.00,224.53 L321.25,224.85 L322.50,224.29 L323.75,224.33 L325.00,224.94 L326.25,224.67 L327.50,224.39 L328.75,225.03 L330.00,225.01 L331.25,224.44 L332.50,224.67 L333.75,224.48 L335.00,224.62 L336.25,224.85 L337.50,224.54 L338.75,224.93 L340.00,224.49 L341.25,224.49 L342.50,224.87 L343.75,224.51 L345.00,224.44 L346.25,224.49 L347.50,224.33 L348.75,224.19 L350.00,223.87 L351.50,223.51 L353.00,222.83 L354.50,221.33 L356.00,219.61 L357.30,218.55 L358.60,217.70 L359.70,200.13 L360.40,156.62 L361.40,167.73 L363.00,179.81 L365.00,183.90 L366.50,186.01 L368.00,188.22 L369.50,189.50 L371.00,190.67 L372.25,191.60 L373.50,191.70 L374.75,192.14 L376.00,192.31 L377.25,192.07 L378.50,191.67 L379.75,191.57 L381.00,190.72 L382.25,190.41 L383.50,189.52 L384.75,189.26 L386.00,188.18 L387.25,187.97 L388.50,187.64 L389.75,187.47 L391.00,186.69 L392.25,186.97 L393.50,186.80 L394.75,186.85 L396.00,186.98 L397.33,187.49 L398.67,187.32 L400.00,187.82 L401.25,187.77 L402.50,188.80 L403.75,188.90 L405.00,189.28 L406.25,190.42 L407.50,191.29 L408.75,191.40 L410.00,192.34 L411.50,193.44 L413.00,193.89 L414.50,193.07 L416.00,192.16 L417.25,192.43 L418.50,193.08 L420.00,203.34 L421.20,196.35 L422.70,190.50 L425.00,190.17 L426.75,192.13 L428.50,194.20 L430.25,197.23 L432.00,200.10 L433.40,201.98 L434.80,204.35 L436.20,206.48 L437.40,207.46 L438.60,208.08 L439.80,209.44 L441.00,210.28 L442.34,210.46 L443.68,211.25 L445.02,212.36 L446.36,212.64 L447.70,213.81 L448.92,213.93 L450.13,214.47 L451.35,214.89 L452.57,214.97 L453.78,215.43 L455.00,215.83 L456.33,216.46 L457.67,216.80 L459.00,216.74 L460.33,217.60 L461.67,217.61 L463.00,217.82 L464.40,218.25 L465.80,218.94 L467.20,218.94 L468.60,219.29 L470.00,219.79 L471.30,219.92 L472.60,219.88 L473.90,219.74 L475.20,219.96 L476.50,220.28 L477.75,219.70 L479.00,219.06" fill="none" stroke="#5c6298" stroke-width="0.65" stroke-linejoin="round" stroke-linecap="round" />
<path d="M302.00,227.53 L303.20,227.84 L304.40,227.84 L305.60,227.96 L306.80,227.51 L308.00,227.54 L309.20,227.49 L310.40,227.55 L311.60,227.92 L312.80,227.50 L314.00,227.79 L315.20,227.57 L316.40,227.64 L317.60,227.74 L318.80,228.03 L320.00,227.88 L321.25,227.47 L322.50,227.67 L323.75,227.59 L325.00,228.11 L326.25,228.08 L327.50,228.09 L328.75,228.12 L330.00,228.07 L331.25,228.23 L332.50,228.13 L333.75,227.77 L335.00,228.19 L336.25,227.95 L337.50,228.15 L338.75,228.03 L340.00,227.95 L341.25,228.03 L342.50,228.20 L343.75,228.24 L345.00,228.23 L346.25,228.85 L347.50,228.96 L348.75,229.21 L350.00,229.13 L351.75,230.29 L353.50,231.67 L354.75,234.49 L356.00,238.12 L357.30,249.96 L358.40,277.27 L359.40,263.79 L360.50,240.02 L361.20,232.53 L362.60,230.32 L364.00,228.07 L365.20,227.63 L366.40,227.14 L367.60,227.09 L368.80,226.61 L370.00,226.31 L371.20,226.28 L372.40,226.39 L373.60,226.18 L374.80,226.57 L376.00,226.78 L377.20,226.37 L378.40,226.60 L379.60,226.74 L380.80,226.11 L382.00,226.17 L383.20,226.63 L384.40,226.64 L385.60,226.49 L386.80,226.15 L388.00,226.32 L389.20,226.63 L390.40,226.63 L391.60,226.57 L392.80,226.14 L394.00,226.59 L395.20,226.24 L396.40,226.48 L397.60,226.06 L398.80,226.64 L400.00,226.37 L401.25,226.47 L402.50,226.13 L403.75,226.43 L405.00,226.42 L406.25,226.45 L407.50,226.30 L408.75,226.58 L410.00,226.32 L411.25,226.31 L412.50,226.23 L413.75,226.61 L415.00,226.23 L416.45,227.28 L417.90,228.15 L419.35,229.53 L420.80,230.44 L422.20,229.96 L423.60,229.14 L425.00,228.96 L426.25,228.87 L427.50,228.68 L428.75,228.60 L430.00,229.28 L431.25,228.65 L432.50,228.76 L433.75,228.72 L435.00,228.93 L436.25,228.55 L437.50,228.81 L438.75,228.72 L440.00,229.03 L441.25,228.44 L442.50,228.65 L443.75,228.74 L445.00,229.05 L446.25,228.72 L447.50,228.67 L448.75,228.79 L450.00,228.51 L451.25,228.30 L452.50,228.61 L453.75,228.88 L455.00,228.74 L456.25,228.39 L457.50,228.67 L458.75,228.76 L460.00,228.33 L461.23,228.58 L462.46,228.45 L463.69,228.39 L464.92,228.44 L466.15,228.41 L467.38,228.53 L468.62,228.34 L469.85,228.61 L471.08,228.42 L472.31,228.91 L473.54,228.82 L474.77,228.43 L476.00,228.99" fill="none" stroke="#ec9a8c" stroke-width="0.65" stroke-linejoin="round" stroke-linecap="round" />
<path d="M302.00,227.42 L303.20,227.85 L304.40,227.82 L305.60,228.03 L306.80,227.57 L308.00,227.56 L309.20,227.90 L310.40,227.86 L311.60,227.62 L312.80,227.89 L314.00,227.69 L315.20,227.97 L316.40,227.51 L317.60,227.59 L318.80,228.07 L320.00,227.70 L321.25,227.64 L322.50,228.04 L323.75,227.93 L325.00,227.60 L326.25,227.90 L327.50,227.99 L328.75,227.65 L330.00,228.01 L331.25,227.65 L332.50,227.81 L333.75,227.65 L335.00,227.74 L336.25,228.30 L337.50,227.91 L338.75,228.33 L340.00,227.96 L341.25,228.20 L342.50,228.51 L343.75,228.51 L345.00,228.23 L346.25,228.69 L347.50,228.84 L348.75,228.65 L350.00,228.72 L351.75,230.51 L353.50,231.51 L354.75,234.54 L356.00,237.97 L357.30,249.80 L358.40,277.71 L359.40,264.00 L360.50,239.72 L361.20,232.92 L362.60,230.06 L364.00,227.85 L365.20,227.37 L366.40,227.57 L367.60,226.83 L368.80,226.82 L370.00,226.22 L371.20,226.48 L372.40,226.61 L373.60,226.50 L374.80,226.44 L376.00,226.45 L377.20,226.41 L378.40,226.51 L379.60,226.15 L380.80,226.41 L382.00,226.24 L383.20,226.67 L384.40,226.71 L385.60,226.09 L386.80,226.14 L388.00,226.52 L389.20,226.42 L390.40,226.03 L391.60,226.50 L392.80,226.66 L394.00,226.29 L395.20,226.23 L396.40,226.37 L397.60,226.62 L398.80,226.14 L400.00,226.16 L401.25,226.10 L402.50,226.42 L403.75,226.33 L405.00,226.20 L406.25,226.30 L407.50,226.07 L408.75,226.29 L410.00,226.77 L411.25,226.51 L412.50,226.31 L413.75,226.79 L415.00,226.40 L416.45,227.30 L417.90,228.12 L419.35,229.18 L420.80,230.19 L422.20,229.74 L423.60,229.73 L425.00,228.84 L426.25,228.81 L427.50,229.04 L428.75,229.24 L430.00,228.79 L431.25,229.10 L432.50,228.81 L433.75,228.93 L435.00,228.93 L436.25,229.16 L437.50,229.01 L438.75,228.82 L440.00,229.04 L441.25,228.69 L442.50,228.68 L443.75,229.07 L445.00,228.76 L446.25,228.90 L447.50,228.56 L448.75,228.96 L450.00,228.73 L451.25,228.45 L452.50,228.92 L453.75,228.57 L455.00,228.46 L456.25,228.39 L457.50,228.26 L458.75,228.31 L460.00,228.63 L461.23,228.27 L462.46,228.38 L463.69,228.53 L464.92,228.62 L466.15,228.53 L467.38,228.84 L468.62,228.49 L469.85,228.59 L471.08,228.66 L472.31,228.47 L473.54,228.56 L474.77,228.53 L476.00,228.96" fill="none" stroke="#5c6298" stroke-width="0.65" stroke-linejoin="round" stroke-linecap="round" />
<line x1="409.6" y1="154" x2="414" y2="154" stroke="#e98b7c" stroke-width="0.9" />
<text x="415.2" y="155.94" font-size="5.4" text-anchor="start" fill="#222">SF3B1<tspan font-size="2.6" dy="-2.05">K700E</tspan></text>
<line x1="394.6" y1="166.2" x2="406.2" y2="166.2" stroke="#3d6fb0" stroke-width="2.0" />
<text x="420.8" y="168.00" font-size="5.0" text-anchor="start" fill="#333" >WT</text>
<rect x="28.5" y="301.5" width="149.3" height="111.30000000000001" rx="0" fill="none" stroke="#c8c8c8" stroke-width="0.8" />
<text x="27.3" y="327.34" font-size="5.4" text-anchor="end" fill="#333" >7.5</text>
<text x="27.3" y="358.94" font-size="5.4" text-anchor="end" fill="#333" >5.0</text>
<text x="27.3" y="389.34" font-size="5.4" text-anchor="end" fill="#333" >2.5</text>
<text transform="translate(16.7,363.8) rotate(-90)" x="0" y="1.87" font-size="5.2" text-anchor="middle" fill="#333" textLength="115" lengthAdjust="spacingAndGlyphs" >TT-seq coverage (<tspan font-style="italic">Drosophila</tspan> spike-in normalized)</text>
<text x="32.5" y="418.94" font-size="5.4" text-anchor="middle" fill="#333" >-3kb</text>
<text x="58.9" y="418.94" font-size="5.4" text-anchor="middle" fill="#333" >TSS</text>
<text x="108.8" y="418.94" font-size="5.4" text-anchor="middle" fill="#333" >Genebody</text>
<text x="145.5" y="418.94" font-size="5.4" text-anchor="middle" fill="#333" >TES</text>
<text x="180.5" y="418.94" font-size="5.4" text-anchor="middle" fill="#333" >+3kb</text>
<line x1="36" y1="427.5" x2="173.6" y2="427.5" stroke="#777" stroke-width="0.8" />
<rect x="61" y="425.9" width="86.5" height="3.2" rx="0.6" fill="#fff" stroke="#777" stroke-width="0.7" />
<path d="M35.30,393.68 C35.45,393.86 35.90,394.54 36.20,394.76 C36.50,394.97 36.80,394.76 37.10,394.99 C37.40,395.21 37.72,396.32 38.00,396.10 C38.28,395.88 38.53,394.18 38.80,393.68 C39.07,393.18 39.33,393.33 39.60,393.13 C39.87,392.92 40.13,392.75 40.40,392.47 C40.67,392.18 40.91,391.52 41.20,391.42 C41.49,391.32 41.82,391.82 42.13,391.89 C42.44,391.96 42.76,391.83 43.07,391.84 C43.38,391.85 43.68,392.22 44.00,391.96 C44.32,391.70 44.67,390.64 45.00,390.28 C45.33,389.91 45.67,389.97 46.00,389.75 C46.33,389.53 46.69,389.09 47.00,388.96 C47.31,388.82 47.59,388.84 47.88,388.96 C48.17,389.08 48.47,390.09 48.76,389.70 C49.05,389.32 49.35,387.23 49.64,386.64 C49.93,386.05 50.23,386.37 50.52,386.19 C50.81,386.00 51.11,385.97 51.40,385.54 C51.69,385.11 51.99,384.13 52.28,383.63 C52.57,383.12 52.87,383.10 53.16,382.52 C53.45,381.94 53.75,380.82 54.04,380.15 C54.33,379.49 54.63,379.30 54.92,378.55 C55.21,377.80 55.42,375.55 55.80,375.66 C56.18,375.76 56.80,377.08 57.20,379.19 C57.60,381.29 57.87,385.07 58.20,388.31 C58.53,391.55 58.87,395.73 59.20,398.63 C59.53,401.53 59.80,412.66 60.20,405.73 C60.60,398.79 61.22,369.67 61.60,357.01 C61.98,344.36 62.18,335.01 62.50,329.80 C62.82,324.59 63.17,327.20 63.50,325.76 C63.83,324.33 64.17,322.33 64.50,321.20 C64.83,320.07 65.17,319.41 65.50,319.00 C65.83,318.59 66.17,318.87 66.50,318.74 C66.83,318.62 67.19,318.03 67.50,318.25 C67.81,318.48 68.07,319.77 68.36,320.10 C68.65,320.44 68.93,320.05 69.22,320.26 C69.51,320.47 69.79,321.34 70.08,321.37 C70.37,321.40 70.65,320.34 70.94,320.43 C71.23,320.51 71.52,321.35 71.80,321.86 C72.08,322.38 72.36,323.31 72.64,323.52 C72.92,323.74 73.20,323.36 73.49,323.16 C73.77,322.96 74.05,322.51 74.33,322.32 C74.61,322.13 74.89,322.36 75.17,322.01 C75.45,321.66 75.73,320.13 76.01,320.23 C76.30,320.33 76.58,322.08 76.86,322.60 C77.14,323.13 77.42,323.44 77.70,323.37 C77.98,323.29 78.25,322.33 78.53,322.16 C78.80,321.99 79.08,322.34 79.36,322.35 C79.63,322.37 79.91,322.25 80.19,322.25 C80.46,322.25 80.74,322.62 81.01,322.35 C81.29,322.08 81.57,320.84 81.84,320.63 C82.12,320.42 82.40,320.90 82.67,321.08 C82.95,321.26 83.22,321.50 83.50,321.72 C83.78,321.93 84.06,322.35 84.34,322.40 C84.62,322.45 84.90,322.29 85.19,322.01 C85.47,321.72 85.75,321.10 86.03,320.70 C86.31,320.29 86.59,320.12 86.87,319.57 C87.15,319.01 87.43,317.71 87.71,317.38 C88.00,317.05 88.28,317.32 88.56,317.59 C88.84,317.86 89.12,319.08 89.40,319.00 C89.68,318.92 89.95,317.54 90.23,317.12 C90.50,316.69 90.78,316.46 91.06,316.43 C91.33,316.41 91.61,316.95 91.89,316.96 C92.16,316.97 92.44,316.66 92.71,316.48 C92.99,316.30 93.27,316.12 93.54,315.87 C93.82,315.62 94.10,315.37 94.37,314.98 C94.65,314.60 94.90,313.87 95.20,313.56 C95.50,313.25 95.83,313.35 96.15,313.11 C96.47,312.88 96.78,312.41 97.10,312.13 C97.42,311.85 97.73,311.28 98.05,311.44 C98.37,311.60 98.70,312.93 99.00,313.10 C99.30,313.27 99.57,312.69 99.85,312.48 C100.13,312.26 100.39,312.49 100.70,311.84 C101.01,311.19 101.35,308.36 101.70,308.57 C102.05,308.79 102.47,312.46 102.80,313.11 C103.13,313.75 103.40,312.54 103.70,312.45 C104.00,312.35 104.30,312.35 104.60,312.54 C104.90,312.73 105.21,313.25 105.50,313.56 C105.79,313.87 106.04,314.32 106.31,314.42 C106.58,314.52 106.85,314.16 107.12,314.16 C107.39,314.16 107.66,314.38 107.93,314.41 C108.20,314.43 108.47,314.50 108.74,314.31 C109.01,314.12 109.29,313.11 109.56,313.27 C109.83,313.43 110.10,314.78 110.37,315.28 C110.64,315.79 110.91,316.19 111.18,316.30 C111.45,316.40 111.72,315.77 111.99,315.91 C112.26,316.05 112.53,316.97 112.80,317.15 C113.07,317.33 113.35,316.96 113.63,317.00 C113.90,317.04 114.18,317.41 114.46,317.40 C114.73,317.39 115.01,317.00 115.29,316.95 C115.56,316.90 115.84,317.03 116.11,317.10 C116.39,317.17 116.67,317.24 116.94,317.37 C117.22,317.49 117.50,317.73 117.77,317.85 C118.05,317.96 118.32,317.52 118.60,318.05 C118.88,318.57 119.19,320.06 119.48,321.01 C119.77,321.96 120.07,323.18 120.36,323.74 C120.65,324.31 120.95,324.42 121.24,324.38 C121.53,324.35 121.83,323.06 122.12,323.53 C122.41,324.01 122.72,326.34 123.00,327.25 C123.28,328.17 123.55,328.71 123.83,329.04 C124.10,329.37 124.38,329.21 124.66,329.22 C124.93,329.22 125.21,329.10 125.49,329.08 C125.76,329.07 126.04,329.17 126.31,329.12 C126.59,329.07 126.87,328.71 127.14,328.79 C127.42,328.87 127.70,329.15 127.97,329.60 C128.25,330.05 128.52,331.02 128.80,331.50 C129.08,331.97 129.36,332.16 129.64,332.45 C129.92,332.73 130.20,333.27 130.49,333.19 C130.77,333.11 131.05,332.10 131.33,331.97 C131.61,331.83 131.89,331.97 132.17,332.37 C132.45,332.77 132.73,333.83 133.01,334.36 C133.30,334.88 133.58,335.17 133.86,335.52 C134.14,335.87 134.42,336.09 134.70,336.47 C134.98,336.85 135.25,337.75 135.53,337.81 C135.80,337.87 136.08,337.06 136.36,336.84 C136.63,336.63 136.91,336.85 137.19,336.53 C137.46,336.21 137.74,335.00 138.01,334.95 C138.29,334.90 138.57,335.48 138.84,336.23 C139.12,336.97 139.40,338.66 139.67,339.43 C139.95,340.20 140.20,340.85 140.50,340.84 C140.80,340.83 141.17,339.23 141.50,339.38 C141.83,339.52 142.17,340.84 142.50,341.70 C142.83,342.56 143.17,342.90 143.50,344.54 C143.83,346.18 144.17,349.08 144.50,351.54 C144.83,353.99 145.18,357.45 145.50,359.26 C145.82,361.06 146.10,361.30 146.40,362.38 C146.70,363.45 146.98,365.32 147.30,365.72 C147.62,366.13 147.97,365.09 148.30,364.81 C148.63,364.52 148.98,363.94 149.30,364.03 C149.62,364.11 149.90,365.07 150.20,365.32 C150.50,365.58 150.80,365.32 151.10,365.56 C151.40,365.81 151.70,366.15 152.00,366.81 C152.30,367.46 152.61,369.06 152.92,369.50 C153.23,369.93 153.53,369.24 153.84,369.40 C154.15,369.56 154.45,370.20 154.76,370.48 C155.07,370.75 155.37,371.06 155.68,371.04 C155.99,371.01 156.31,370.47 156.60,370.32 C156.89,370.17 157.16,370.05 157.44,370.13 C157.72,370.22 158.00,370.60 158.29,370.84 C158.57,371.09 158.85,371.08 159.13,371.63 C159.41,372.17 159.69,373.72 159.97,374.13 C160.25,374.55 160.53,374.28 160.81,374.11 C161.10,373.94 161.38,373.08 161.66,373.12 C161.94,373.16 162.21,374.22 162.50,374.35 C162.79,374.49 163.08,373.87 163.38,373.93 C163.67,374.00 163.96,374.63 164.25,374.73 C164.54,374.83 164.83,374.87 165.12,374.52 C165.42,374.18 165.70,372.74 166.00,372.66 C166.30,372.58 166.61,373.58 166.92,374.03 C167.23,374.47 167.53,375.37 167.84,375.35 C168.15,375.32 168.45,373.81 168.76,373.86 C169.07,373.92 169.37,375.15 169.68,375.68 C169.99,376.21 170.45,376.82 170.60,377.05 L170.60,381.45 C170.45,381.22 169.99,380.61 169.68,380.08 C169.37,379.55 169.07,378.32 168.76,378.26 C168.45,378.21 168.15,379.72 167.84,379.75 C167.53,379.77 167.23,378.87 166.92,378.43 C166.61,377.98 166.30,376.98 166.00,377.06 C165.70,377.14 165.42,378.58 165.12,378.92 C164.83,379.27 164.54,379.23 164.25,379.13 C163.96,379.03 163.67,378.40 163.38,378.33 C163.08,378.27 162.79,378.89 162.50,378.75 C162.21,378.62 161.94,377.56 161.66,377.52 C161.38,377.48 161.10,378.34 160.81,378.51 C160.53,378.68 160.25,378.95 159.97,378.53 C159.69,378.12 159.41,376.57 159.13,376.03 C158.85,375.48 158.57,375.49 158.29,375.24 C158.00,375.00 157.72,374.62 157.44,374.53 C157.16,374.45 156.89,374.57 156.60,374.72 C156.31,374.87 155.99,375.41 155.68,375.44 C155.37,375.46 155.07,375.15 154.76,374.88 C154.45,374.60 154.15,373.96 153.84,373.80 C153.53,373.64 153.23,374.33 152.92,373.90 C152.61,373.46 152.30,371.86 152.00,371.21 C151.70,370.55 151.40,370.21 151.10,369.96 C150.80,369.72 150.50,369.98 150.20,369.72 C149.90,369.47 149.62,368.51 149.30,368.43 C148.98,368.34 148.63,368.92 148.30,369.21 C147.97,369.49 147.62,370.53 147.30,370.12 C146.98,369.72 146.70,367.85 146.40,366.78 C146.10,365.70 145.82,365.46 145.50,363.66 C145.18,361.85 144.83,358.39 144.50,355.94 C144.17,353.48 143.83,350.58 143.50,348.94 C143.17,347.30 142.83,346.96 142.50,346.10 C142.17,345.24 141.83,343.92 141.50,343.78 C141.17,343.63 140.80,345.23 140.50,345.24 C140.20,345.25 139.95,344.60 139.67,343.83 C139.40,343.06 139.12,341.37 138.84,340.63 C138.57,339.88 138.29,339.63 138.01,339.35 C137.74,339.07 137.46,338.95 137.19,338.93 C136.91,338.91 136.63,339.03 136.36,339.24 C136.08,339.46 135.80,340.27 135.53,340.21 C135.25,340.15 134.98,339.25 134.70,338.87 C134.42,338.49 134.14,338.27 133.86,337.92 C133.58,337.57 133.30,337.28 133.01,336.76 C132.73,336.23 132.45,335.17 132.17,334.77 C131.89,334.37 131.61,334.23 131.33,334.37 C131.05,334.50 130.77,335.51 130.49,335.59 C130.20,335.67 129.92,335.13 129.64,334.85 C129.36,334.56 129.08,334.37 128.80,333.90 C128.52,333.42 128.25,332.45 127.97,332.00 C127.70,331.55 127.42,331.27 127.14,331.19 C126.87,331.11 126.59,331.47 126.31,331.52 C126.04,331.57 125.76,331.47 125.49,331.48 C125.21,331.50 124.93,331.62 124.66,331.62 C124.38,331.61 124.10,331.77 123.83,331.44 C123.55,331.11 123.28,330.57 123.00,329.65 C122.72,328.74 122.41,326.41 122.12,325.93 C121.83,325.46 121.53,326.75 121.24,326.78 C120.95,326.82 120.65,326.71 120.36,326.14 C120.07,325.58 119.77,324.36 119.48,323.41 C119.19,322.46 118.88,320.97 118.60,320.45 C118.32,319.92 118.05,320.36 117.77,320.25 C117.50,320.13 117.22,319.89 116.94,319.77 C116.67,319.64 116.39,319.57 116.11,319.50 C115.84,319.43 115.56,319.30 115.29,319.35 C115.01,319.40 114.73,319.79 114.46,319.80 C114.18,319.81 113.90,319.44 113.63,319.40 C113.35,319.36 113.07,319.73 112.80,319.55 C112.53,319.37 112.26,318.45 111.99,318.31 C111.72,318.17 111.45,318.80 111.18,318.70 C110.91,318.59 110.64,318.19 110.37,317.68 C110.10,317.18 109.83,315.83 109.56,315.67 C109.29,315.51 109.01,316.52 108.74,316.71 C108.47,316.90 108.20,316.83 107.93,316.81 C107.66,316.78 107.39,316.56 107.12,316.56 C106.85,316.56 106.58,316.92 106.31,316.82 C106.04,316.72 105.79,316.27 105.50,315.96 C105.21,315.65 104.90,315.13 104.60,314.94 C104.30,314.75 104.00,314.75 103.70,314.85 C103.40,314.94 103.13,316.15 102.80,315.51 C102.47,314.86 102.05,311.19 101.70,310.97 C101.35,310.76 101.01,313.59 100.70,314.24 C100.39,314.89 100.13,314.66 99.85,314.88 C99.57,315.09 99.30,315.67 99.00,315.50 C98.70,315.33 98.37,314.00 98.05,313.84 C97.73,313.68 97.42,314.25 97.10,314.53 C96.78,314.81 96.47,315.28 96.15,315.51 C95.83,315.75 95.50,315.65 95.20,315.96 C94.90,316.27 94.65,317.00 94.37,317.38 C94.10,317.77 93.82,318.02 93.54,318.27 C93.27,318.52 92.99,318.70 92.71,318.88 C92.44,319.06 92.16,319.37 91.89,319.36 C91.61,319.35 91.33,318.81 91.06,318.83 C90.78,318.86 90.50,319.09 90.23,319.52 C89.95,319.94 89.68,321.32 89.40,321.40 C89.12,321.48 88.84,320.26 88.56,319.99 C88.28,319.72 88.00,319.45 87.71,319.78 C87.43,320.11 87.15,321.41 86.87,321.97 C86.59,322.52 86.31,322.69 86.03,323.10 C85.75,323.50 85.47,324.12 85.19,324.41 C84.90,324.69 84.62,324.85 84.34,324.80 C84.06,324.75 83.78,324.33 83.50,324.12 C83.22,323.90 82.95,323.66 82.67,323.48 C82.40,323.30 82.12,322.82 81.84,323.03 C81.57,323.24 81.29,324.48 81.01,324.75 C80.74,325.02 80.46,324.65 80.19,324.65 C79.91,324.65 79.63,324.77 79.36,324.75 C79.08,324.74 78.80,324.39 78.53,324.56 C78.25,324.73 77.98,325.69 77.70,325.77 C77.42,325.84 77.14,325.53 76.86,325.00 C76.58,324.48 76.30,322.73 76.01,322.63 C75.73,322.53 75.45,323.73 75.17,324.41 C74.89,325.09 74.61,326.20 74.33,326.72 C74.05,327.25 73.77,327.36 73.49,327.56 C73.20,327.76 72.92,328.14 72.64,327.92 C72.36,327.71 72.08,326.78 71.80,326.26 C71.52,325.75 71.23,324.91 70.94,324.83 C70.65,324.74 70.37,325.80 70.08,325.77 C69.79,325.74 69.51,324.87 69.22,324.66 C68.93,324.45 68.65,324.84 68.36,324.50 C68.07,324.17 67.81,322.88 67.50,322.65 C67.19,322.43 66.83,323.02 66.50,323.14 C66.17,323.27 65.83,322.99 65.50,323.40 C65.17,323.81 64.83,324.47 64.50,325.60 C64.17,326.73 63.83,328.73 63.50,330.16 C63.17,331.60 62.82,329.33 62.50,334.20 C62.18,339.08 61.98,347.09 61.60,359.41 C61.22,371.73 60.60,401.19 60.20,408.13 C59.80,415.06 59.53,403.93 59.20,401.03 C58.87,398.13 58.53,393.95 58.20,390.71 C57.87,387.47 57.60,383.69 57.20,381.59 C56.80,379.48 56.18,378.16 55.80,378.06 C55.42,377.95 55.21,380.20 54.92,380.95 C54.63,381.70 54.33,381.89 54.04,382.55 C53.75,383.22 53.45,384.34 53.16,384.92 C52.87,385.50 52.57,385.52 52.28,386.03 C51.99,386.53 51.69,387.51 51.40,387.94 C51.11,388.37 50.81,388.40 50.52,388.59 C50.23,388.77 49.93,388.45 49.64,389.04 C49.35,389.63 49.05,391.72 48.76,392.10 C48.47,392.49 48.17,391.48 47.88,391.36 C47.59,391.24 47.31,391.22 47.00,391.36 C46.69,391.49 46.33,391.93 46.00,392.15 C45.67,392.37 45.33,392.31 45.00,392.68 C44.67,393.04 44.32,394.10 44.00,394.36 C43.68,394.62 43.38,394.25 43.07,394.24 C42.76,394.23 42.44,394.36 42.13,394.29 C41.82,394.22 41.49,393.72 41.20,393.82 C40.91,393.92 40.67,394.58 40.40,394.87 C40.13,395.15 39.87,395.32 39.60,395.53 C39.33,395.73 39.07,395.58 38.80,396.08 C38.53,396.58 38.28,398.28 38.00,398.50 C37.72,398.72 37.40,397.61 37.10,397.39 C36.80,397.16 36.50,397.37 36.20,397.16 C35.90,396.94 35.45,396.26 35.30,396.08 Z" fill="#b3d0ec" fill-opacity="0.9" stroke="none"/>
<path d="M35.30,392.94 C35.45,393.05 35.90,393.47 36.20,393.61 C36.50,393.75 36.80,393.70 37.10,393.78 C37.40,393.86 37.72,394.04 38.00,394.11 C38.28,394.17 38.53,394.38 38.80,394.16 C39.07,393.93 39.33,393.23 39.60,392.76 C39.87,392.28 40.13,391.67 40.40,391.30 C40.67,390.93 40.91,390.61 41.20,390.54 C41.49,390.47 41.82,390.87 42.13,390.90 C42.44,390.94 42.76,390.76 43.07,390.76 C43.38,390.76 43.68,390.91 44.00,390.90 C44.32,390.90 44.67,390.66 45.00,390.72 C45.33,390.79 45.67,391.48 46.00,391.30 C46.33,391.11 46.69,390.14 47.00,389.63 C47.31,389.12 47.59,388.65 47.88,388.22 C48.17,387.78 48.47,387.37 48.76,387.02 C49.05,386.66 49.35,386.19 49.64,386.08 C49.93,385.98 50.23,386.39 50.52,386.39 C50.81,386.39 51.11,386.35 51.40,386.07 C51.69,385.79 51.99,385.20 52.28,384.71 C52.57,384.23 52.87,383.67 53.16,383.17 C53.45,382.67 53.75,382.47 54.04,381.71 C54.33,380.95 54.63,379.36 54.92,378.60 C55.21,377.84 55.42,376.99 55.80,377.15 C56.18,377.31 56.80,377.75 57.20,379.55 C57.60,381.36 57.87,385.18 58.20,388.01 C58.53,390.84 58.87,393.50 59.20,396.51 C59.53,399.53 59.80,412.68 60.20,406.10 C60.60,399.53 61.22,366.47 61.60,357.09 C61.98,347.71 62.21,351.26 62.50,349.85 C62.79,348.44 63.06,348.75 63.33,348.62 C63.61,348.48 63.89,349.02 64.17,349.03 C64.44,349.04 64.72,348.97 65.00,348.67 C65.28,348.37 65.56,347.52 65.83,347.24 C66.11,346.96 66.39,347.24 66.67,346.99 C66.94,346.74 67.23,346.00 67.50,345.74 C67.77,345.48 68.04,345.38 68.31,345.42 C68.58,345.47 68.85,346.04 69.12,346.01 C69.39,345.98 69.66,345.38 69.93,345.23 C70.20,345.08 70.47,345.08 70.74,345.13 C71.01,345.18 71.29,345.43 71.56,345.56 C71.83,345.68 72.10,345.69 72.37,345.89 C72.64,346.10 72.91,346.73 73.18,346.77 C73.45,346.82 73.72,346.35 73.99,346.19 C74.26,346.02 74.52,345.84 74.80,345.80 C75.08,345.76 75.38,346.05 75.67,345.97 C75.96,345.88 76.25,345.28 76.54,345.27 C76.83,345.26 77.12,345.67 77.41,345.90 C77.70,346.12 77.99,346.64 78.28,346.63 C78.57,346.63 78.86,345.81 79.15,345.86 C79.44,345.91 79.73,346.78 80.02,346.96 C80.31,347.14 80.60,346.86 80.89,346.95 C81.18,347.04 81.47,347.30 81.76,347.50 C82.05,347.69 82.34,347.80 82.63,348.11 C82.92,348.42 83.22,349.30 83.50,349.34 C83.78,349.39 84.04,348.64 84.31,348.41 C84.58,348.17 84.85,348.13 85.12,347.93 C85.39,347.73 85.66,347.43 85.93,347.20 C86.20,346.96 86.47,346.73 86.74,346.54 C87.01,346.35 87.29,346.27 87.56,346.08 C87.83,345.88 88.10,345.39 88.37,345.36 C88.64,345.33 88.91,345.80 89.18,345.88 C89.45,345.96 89.72,346.04 89.99,345.86 C90.26,345.67 90.53,344.97 90.80,344.78 C91.07,344.59 91.35,344.65 91.62,344.72 C91.90,344.79 92.17,345.29 92.44,345.20 C92.72,345.10 92.99,344.51 93.27,344.16 C93.54,343.81 93.81,343.24 94.09,343.10 C94.36,342.96 94.64,343.31 94.91,343.32 C95.19,343.33 95.46,343.13 95.73,343.17 C96.01,343.22 96.28,343.65 96.56,343.60 C96.83,343.54 97.10,343.01 97.38,342.84 C97.65,342.66 97.92,342.84 98.20,342.57 C98.48,342.30 98.78,341.53 99.08,341.20 C99.37,340.87 99.66,340.83 99.95,340.59 C100.24,340.34 100.53,340.04 100.83,339.73 C101.12,339.41 101.40,338.82 101.70,338.69 C102.00,338.57 102.33,338.79 102.65,338.97 C102.97,339.15 103.28,339.32 103.60,339.76 C103.92,340.19 104.23,341.25 104.55,341.58 C104.87,341.92 105.20,341.56 105.50,341.78 C105.80,342.01 106.07,342.70 106.35,342.93 C106.63,343.16 106.92,343.20 107.20,343.16 C107.48,343.11 107.77,342.86 108.05,342.66 C108.33,342.46 108.62,342.06 108.90,341.95 C109.18,341.85 109.47,341.89 109.75,342.04 C110.03,342.20 110.32,342.86 110.60,342.90 C110.88,342.94 111.17,342.33 111.45,342.30 C111.73,342.26 112.02,342.58 112.30,342.68 C112.58,342.78 112.87,342.87 113.15,342.90 C113.43,342.93 113.72,343.00 114.00,342.85 C114.28,342.70 114.57,342.06 114.85,341.99 C115.13,341.93 115.42,342.30 115.70,342.48 C115.98,342.67 116.25,343.20 116.53,343.09 C116.80,342.99 117.08,341.86 117.36,341.84 C117.63,341.83 117.91,342.55 118.19,342.98 C118.46,343.40 118.74,344.16 119.01,344.39 C119.29,344.63 119.57,344.04 119.84,344.40 C120.12,344.75 120.40,346.14 120.67,346.55 C120.95,346.95 121.22,346.78 121.50,346.83 C121.78,346.87 122.06,346.77 122.34,346.80 C122.62,346.83 122.90,347.04 123.19,346.99 C123.47,346.95 123.75,346.49 124.03,346.56 C124.31,346.62 124.59,347.22 124.87,347.39 C125.15,347.57 125.43,347.43 125.71,347.59 C126.00,347.76 126.28,347.92 126.56,348.40 C126.84,348.89 127.11,350.17 127.40,350.50 C127.69,350.82 127.99,350.41 128.28,350.35 C128.57,350.29 128.87,350.17 129.16,350.14 C129.45,350.11 129.75,349.84 130.04,350.17 C130.33,350.49 130.63,351.74 130.92,352.11 C131.21,352.47 131.51,352.33 131.80,352.38 C132.09,352.43 132.39,352.35 132.68,352.40 C132.97,352.45 133.27,352.57 133.56,352.69 C133.85,352.81 134.15,352.95 134.44,353.12 C134.73,353.30 135.03,353.60 135.32,353.74 C135.61,353.88 135.92,353.93 136.20,353.94 C136.48,353.95 136.74,353.74 137.01,353.82 C137.28,353.89 137.55,354.18 137.82,354.38 C138.09,354.58 138.36,355.01 138.63,355.03 C138.90,355.06 139.17,354.50 139.44,354.52 C139.71,354.54 139.99,355.00 140.26,355.16 C140.53,355.33 140.80,355.20 141.07,355.50 C141.34,355.80 141.61,356.69 141.88,356.98 C142.15,357.26 142.42,357.13 142.69,357.22 C142.96,357.32 143.20,357.16 143.50,357.54 C143.80,357.92 144.14,358.76 144.47,359.52 C144.79,360.28 145.11,361.13 145.43,362.10 C145.76,363.07 146.09,364.81 146.40,365.36 C146.71,365.91 146.99,365.12 147.28,365.39 C147.57,365.66 147.87,366.66 148.16,367.00 C148.45,367.34 148.75,367.44 149.04,367.44 C149.33,367.43 149.63,366.90 149.92,366.98 C150.21,367.06 150.52,367.63 150.80,367.93 C151.08,368.23 151.34,368.59 151.61,368.76 C151.88,368.93 152.15,369.04 152.42,368.94 C152.69,368.84 152.96,368.27 153.23,368.16 C153.50,368.05 153.77,368.07 154.04,368.28 C154.31,368.49 154.59,369.29 154.86,369.40 C155.13,369.50 155.40,369.04 155.67,368.91 C155.94,368.78 156.21,368.83 156.48,368.64 C156.75,368.45 157.02,367.84 157.29,367.78 C157.56,367.72 157.82,368.04 158.10,368.30 C158.38,368.56 158.66,369.30 158.94,369.34 C159.22,369.39 159.50,368.55 159.79,368.58 C160.07,368.61 160.35,369.24 160.63,369.53 C160.91,369.81 161.19,370.12 161.47,370.29 C161.75,370.47 162.03,370.59 162.31,370.58 C162.60,370.57 162.88,370.19 163.16,370.24 C163.44,370.29 163.72,370.77 164.00,370.90 C164.28,371.03 164.55,370.63 164.82,371.02 C165.10,371.41 165.38,372.93 165.65,373.25 C165.93,373.57 166.20,372.96 166.47,372.95 C166.75,372.93 167.03,372.97 167.30,373.15 C167.58,373.33 167.85,373.86 168.12,374.04 C168.40,374.22 168.67,374.06 168.95,374.23 C169.22,374.41 169.50,374.92 169.78,375.10 C170.05,375.28 170.46,375.28 170.60,375.32 L170.60,377.32 C170.46,377.28 170.05,377.28 169.78,377.10 C169.50,376.92 169.22,376.41 168.95,376.23 C168.67,376.06 168.40,376.22 168.12,376.04 C167.85,375.86 167.58,375.33 167.30,375.15 C167.03,374.97 166.75,374.93 166.47,374.95 C166.20,374.96 165.93,375.57 165.65,375.25 C165.38,374.93 165.10,373.41 164.82,373.02 C164.55,372.63 164.28,373.03 164.00,372.90 C163.72,372.77 163.44,372.29 163.16,372.24 C162.88,372.19 162.60,372.57 162.31,372.58 C162.03,372.59 161.75,372.47 161.47,372.29 C161.19,372.12 160.91,371.81 160.63,371.53 C160.35,371.24 160.07,370.61 159.79,370.58 C159.50,370.55 159.22,371.39 158.94,371.34 C158.66,371.30 158.38,370.56 158.10,370.30 C157.82,370.04 157.56,369.72 157.29,369.78 C157.02,369.84 156.75,370.45 156.48,370.64 C156.21,370.83 155.94,370.78 155.67,370.91 C155.40,371.04 155.13,371.50 154.86,371.40 C154.59,371.29 154.31,370.49 154.04,370.28 C153.77,370.07 153.50,370.05 153.23,370.16 C152.96,370.27 152.69,370.84 152.42,370.94 C152.15,371.04 151.88,370.93 151.61,370.76 C151.34,370.59 151.08,370.23 150.80,369.93 C150.52,369.63 150.21,369.06 149.92,368.98 C149.63,368.90 149.33,369.43 149.04,369.44 C148.75,369.44 148.45,369.34 148.16,369.00 C147.87,368.66 147.57,367.66 147.28,367.39 C146.99,367.12 146.71,367.91 146.40,367.36 C146.09,366.81 145.76,365.07 145.43,364.10 C145.11,363.13 144.79,362.28 144.47,361.52 C144.14,360.76 143.80,359.92 143.50,359.54 C143.20,359.16 142.96,359.32 142.69,359.22 C142.42,359.13 142.15,359.26 141.88,358.98 C141.61,358.69 141.34,357.80 141.07,357.50 C140.80,357.20 140.53,357.33 140.26,357.16 C139.99,357.00 139.71,356.54 139.44,356.52 C139.17,356.50 138.90,357.06 138.63,357.03 C138.36,357.01 138.09,356.58 137.82,356.38 C137.55,356.18 137.28,355.89 137.01,355.82 C136.74,355.74 136.48,355.95 136.20,355.94 C135.92,355.93 135.61,355.88 135.32,355.74 C135.03,355.60 134.73,355.30 134.44,355.12 C134.15,354.95 133.85,354.81 133.56,354.69 C133.27,354.57 132.97,354.45 132.68,354.40 C132.39,354.35 132.09,354.43 131.80,354.38 C131.51,354.33 131.21,354.47 130.92,354.11 C130.63,353.74 130.33,352.49 130.04,352.17 C129.75,351.84 129.45,352.11 129.16,352.14 C128.87,352.17 128.57,352.29 128.28,352.35 C127.99,352.41 127.69,352.82 127.40,352.50 C127.11,352.17 126.84,350.89 126.56,350.40 C126.28,349.92 126.00,349.76 125.71,349.59 C125.43,349.43 125.15,349.57 124.87,349.39 C124.59,349.22 124.31,348.62 124.03,348.56 C123.75,348.49 123.47,348.95 123.19,348.99 C122.90,349.04 122.62,348.83 122.34,348.80 C122.06,348.77 121.78,348.87 121.50,348.83 C121.22,348.78 120.95,348.95 120.67,348.55 C120.40,348.14 120.12,346.75 119.84,346.40 C119.57,346.04 119.29,346.63 119.01,346.39 C118.74,346.16 118.46,345.40 118.19,344.98 C117.91,344.55 117.63,343.83 117.36,343.84 C117.08,343.86 116.80,344.99 116.53,345.09 C116.25,345.20 115.98,344.67 115.70,344.48 C115.42,344.30 115.13,343.93 114.85,343.99 C114.57,344.06 114.28,344.70 114.00,344.85 C113.72,345.00 113.43,344.93 113.15,344.90 C112.87,344.87 112.58,344.78 112.30,344.68 C112.02,344.58 111.73,344.26 111.45,344.30 C111.17,344.33 110.88,344.94 110.60,344.90 C110.32,344.86 110.03,344.20 109.75,344.04 C109.47,343.89 109.18,343.85 108.90,343.95 C108.62,344.06 108.33,344.46 108.05,344.66 C107.77,344.86 107.48,345.11 107.20,345.16 C106.92,345.20 106.63,345.16 106.35,344.93 C106.07,344.70 105.80,344.01 105.50,343.78 C105.20,343.56 104.87,343.92 104.55,343.58 C104.23,343.25 103.92,342.19 103.60,341.76 C103.28,341.32 102.97,341.15 102.65,340.97 C102.33,340.79 102.00,340.57 101.70,340.69 C101.40,340.82 101.12,341.41 100.83,341.73 C100.53,342.04 100.24,342.34 99.95,342.59 C99.66,342.83 99.37,342.87 99.08,343.20 C98.78,343.53 98.48,344.30 98.20,344.57 C97.92,344.84 97.65,344.66 97.38,344.84 C97.10,345.01 96.83,345.54 96.56,345.60 C96.28,345.65 96.01,345.22 95.73,345.17 C95.46,345.13 95.19,345.33 94.91,345.32 C94.64,345.31 94.36,344.96 94.09,345.10 C93.81,345.24 93.54,345.81 93.27,346.16 C92.99,346.51 92.72,347.10 92.44,347.20 C92.17,347.29 91.90,346.79 91.62,346.72 C91.35,346.65 91.07,346.59 90.80,346.78 C90.53,346.97 90.26,347.67 89.99,347.86 C89.72,348.04 89.45,347.96 89.18,347.88 C88.91,347.80 88.64,347.33 88.37,347.36 C88.10,347.39 87.83,347.88 87.56,348.08 C87.29,348.27 87.01,348.35 86.74,348.54 C86.47,348.73 86.20,348.96 85.93,349.20 C85.66,349.43 85.39,349.73 85.12,349.93 C84.85,350.13 84.58,350.17 84.31,350.41 C84.04,350.64 83.78,351.39 83.50,351.34 C83.22,351.30 82.92,350.42 82.63,350.11 C82.34,349.80 82.05,349.69 81.76,349.50 C81.47,349.30 81.18,349.04 80.89,348.95 C80.60,348.86 80.31,349.14 80.02,348.96 C79.73,348.78 79.44,347.91 79.15,347.86 C78.86,347.81 78.57,348.63 78.28,348.63 C77.99,348.64 77.70,348.12 77.41,347.90 C77.12,347.67 76.83,347.26 76.54,347.27 C76.25,347.28 75.96,347.88 75.67,347.97 C75.38,348.05 75.08,347.76 74.80,347.80 C74.52,347.84 74.26,348.02 73.99,348.19 C73.72,348.35 73.45,348.82 73.18,348.77 C72.91,348.73 72.64,348.10 72.37,347.89 C72.10,347.69 71.83,347.68 71.56,347.56 C71.29,347.43 71.01,347.18 70.74,347.13 C70.47,347.08 70.20,347.08 69.93,347.23 C69.66,347.38 69.39,347.98 69.12,348.01 C68.85,348.04 68.58,347.47 68.31,347.42 C68.04,347.38 67.77,347.48 67.50,347.74 C67.23,348.00 66.94,348.74 66.67,348.99 C66.39,349.24 66.11,348.96 65.83,349.24 C65.56,349.52 65.28,350.37 65.00,350.67 C64.72,350.97 64.44,351.04 64.17,351.03 C63.89,351.02 63.61,350.48 63.33,350.62 C63.06,350.75 62.79,350.37 62.50,351.85 C62.21,353.33 61.98,350.05 61.60,359.49 C61.22,368.93 60.60,401.93 60.20,408.50 C59.80,415.08 59.53,401.93 59.20,398.91 C58.87,395.90 58.53,393.24 58.20,390.41 C57.87,387.58 57.60,383.76 57.20,381.95 C56.80,380.15 56.18,379.71 55.80,379.55 C55.42,379.39 55.21,380.24 54.92,381.00 C54.63,381.76 54.33,383.35 54.04,384.11 C53.75,384.87 53.45,385.07 53.16,385.57 C52.87,386.07 52.57,386.63 52.28,387.11 C51.99,387.60 51.69,388.19 51.40,388.47 C51.11,388.75 50.81,388.79 50.52,388.79 C50.23,388.79 49.93,388.38 49.64,388.48 C49.35,388.59 49.05,389.06 48.76,389.42 C48.47,389.77 48.17,390.18 47.88,390.62 C47.59,391.05 47.31,391.52 47.00,392.03 C46.69,392.54 46.33,393.51 46.00,393.70 C45.67,393.88 45.33,393.19 45.00,393.12 C44.67,393.06 44.32,393.30 44.00,393.30 C43.68,393.31 43.38,393.16 43.07,393.16 C42.76,393.16 42.44,393.34 42.13,393.30 C41.82,393.27 41.49,392.87 41.20,392.94 C40.91,393.01 40.67,393.33 40.40,393.70 C40.13,394.07 39.87,394.68 39.60,395.16 C39.33,395.63 39.07,396.33 38.80,396.56 C38.53,396.78 38.28,396.57 38.00,396.51 C37.72,396.44 37.40,396.26 37.10,396.18 C36.80,396.10 36.50,396.15 36.20,396.01 C35.90,395.87 35.45,395.45 35.30,395.34 Z" fill="#f9cbb4" fill-opacity="0.9" stroke="none"/>
<path d="M35.30,394.14 L36.20,394.81 L37.10,394.98 L38.00,395.31 L38.80,395.36 L39.60,393.96 L40.40,392.50 L41.20,391.74 L42.13,392.10 L43.07,391.96 L44.00,392.10 L45.00,391.92 L46.00,392.50 L47.00,390.83 L47.88,389.42 L48.76,388.22 L49.64,387.28 L50.52,387.59 L51.40,387.27 L52.28,385.91 L53.16,384.37 L54.04,382.91 L54.92,379.80 L55.80,378.35 L57.20,380.75 L58.20,389.21 L59.20,397.71 L60.20,407.30 L61.60,358.29 L62.50,350.85 L63.33,349.62 L64.17,350.03 L65.00,349.67 L65.83,348.24 L66.67,347.99 L67.50,346.74 L68.31,346.42 L69.12,347.01 L69.93,346.23 L70.74,346.13 L71.56,346.56 L72.37,346.89 L73.18,347.77 L73.99,347.19 L74.80,346.80 L75.67,346.97 L76.54,346.27 L77.41,346.90 L78.28,347.63 L79.15,346.86 L80.02,347.96 L80.89,347.95 L81.76,348.50 L82.63,349.11 L83.50,350.34 L84.31,349.41 L85.12,348.93 L85.93,348.20 L86.74,347.54 L87.56,347.08 L88.37,346.36 L89.18,346.88 L89.99,346.86 L90.80,345.78 L91.62,345.72 L92.44,346.20 L93.27,345.16 L94.09,344.10 L94.91,344.32 L95.73,344.17 L96.56,344.60 L97.38,343.84 L98.20,343.57 L99.08,342.20 L99.95,341.59 L100.83,340.73 L101.70,339.69 L102.65,339.97 L103.60,340.76 L104.55,342.58 L105.50,342.78 L106.35,343.93 L107.20,344.16 L108.05,343.66 L108.90,342.95 L109.75,343.04 L110.60,343.90 L111.45,343.30 L112.30,343.68 L113.15,343.90 L114.00,343.85 L114.85,342.99 L115.70,343.48 L116.53,344.09 L117.36,342.84 L118.19,343.98 L119.01,345.39 L119.84,345.40 L120.67,347.55 L121.50,347.83 L122.34,347.80 L123.19,347.99 L124.03,347.56 L124.87,348.39 L125.71,348.59 L126.56,349.40 L127.40,351.50 L128.28,351.35 L129.16,351.14 L130.04,351.17 L130.92,353.11 L131.80,353.38 L132.68,353.40 L133.56,353.69 L134.44,354.12 L135.32,354.74 L136.20,354.94 L137.01,354.82 L137.82,355.38 L138.63,356.03 L139.44,355.52 L140.26,356.16 L141.07,356.50 L141.88,357.98 L142.69,358.22 L143.50,358.54 L144.47,360.52 L145.43,363.10 L146.40,366.36 L147.28,366.39 L148.16,368.00 L149.04,368.44 L149.92,367.98 L150.80,368.93 L151.61,369.76 L152.42,369.94 L153.23,369.16 L154.04,369.28 L154.86,370.40 L155.67,369.91 L156.48,369.64 L157.29,368.78 L158.10,369.30 L158.94,370.34 L159.79,369.58 L160.63,370.53 L161.47,371.29 L162.31,371.58 L163.16,371.24 L164.00,371.90 L164.82,372.02 L165.65,374.25 L166.47,373.95 L167.30,374.15 L168.12,375.04 L168.95,375.23 L169.78,376.10 L170.60,376.32" fill="none" stroke="#ec9068" stroke-width="0.8" stroke-linejoin="round" stroke-linecap="round" />
<path d="M35.30,394.88 L36.20,395.96 L37.10,396.19 L38.00,397.30 L38.80,394.88 L39.60,394.33 L40.40,393.67 L41.20,392.62 L42.13,393.09 L43.07,393.04 L44.00,393.16 L45.00,391.48 L46.00,390.95 L47.00,390.16 L47.88,390.16 L48.76,390.90 L49.64,387.84 L50.52,387.39 L51.40,386.74 L52.28,384.83 L53.16,383.72 L54.04,381.35 L54.92,379.75 L55.80,376.86 L57.20,380.39 L58.20,389.51 L59.20,399.83 L60.20,406.93 L61.60,358.21 L62.50,332.00 L63.50,327.96 L64.50,323.40 L65.50,321.20 L66.50,320.94 L67.50,320.45 L68.36,322.30 L69.22,322.46 L70.08,323.57 L70.94,322.63 L71.80,324.06 L72.64,325.72 L73.49,325.36 L74.33,324.52 L75.17,323.21 L76.01,321.43 L76.86,323.80 L77.70,324.57 L78.53,323.36 L79.36,323.55 L80.19,323.45 L81.01,323.55 L81.84,321.83 L82.67,322.28 L83.50,322.92 L84.34,323.60 L85.19,323.21 L86.03,321.90 L86.87,320.77 L87.71,318.58 L88.56,318.79 L89.40,320.20 L90.23,318.32 L91.06,317.63 L91.89,318.16 L92.71,317.68 L93.54,317.07 L94.37,316.18 L95.20,314.76 L96.15,314.31 L97.10,313.33 L98.05,312.64 L99.00,314.30 L99.85,313.68 L100.70,313.04 L101.70,309.77 L102.80,314.31 L103.70,313.65 L104.60,313.74 L105.50,314.76 L106.31,315.62 L107.12,315.36 L107.93,315.61 L108.74,315.51 L109.56,314.47 L110.37,316.48 L111.18,317.50 L111.99,317.11 L112.80,318.35 L113.63,318.20 L114.46,318.60 L115.29,318.15 L116.11,318.30 L116.94,318.57 L117.77,319.05 L118.60,319.25 L119.48,322.21 L120.36,324.94 L121.24,325.58 L122.12,324.73 L123.00,328.45 L123.83,330.24 L124.66,330.42 L125.49,330.28 L126.31,330.32 L127.14,329.99 L127.97,330.80 L128.80,332.70 L129.64,333.65 L130.49,334.39 L131.33,333.17 L132.17,333.57 L133.01,335.56 L133.86,336.72 L134.70,337.67 L135.53,339.01 L136.36,338.04 L137.19,337.73 L138.01,337.15 L138.84,338.43 L139.67,341.63 L140.50,343.04 L141.50,341.58 L142.50,343.90 L143.50,346.74 L144.50,353.74 L145.50,361.46 L146.40,364.58 L147.30,367.92 L148.30,367.01 L149.30,366.23 L150.20,367.52 L151.10,367.76 L152.00,369.01 L152.92,371.70 L153.84,371.60 L154.76,372.68 L155.68,373.24 L156.60,372.52 L157.44,372.33 L158.29,373.04 L159.13,373.83 L159.97,376.33 L160.81,376.31 L161.66,375.32 L162.50,376.55 L163.38,376.13 L164.25,376.93 L165.12,376.72 L166.00,374.86 L166.92,376.23 L167.84,377.55 L168.76,376.06 L169.68,377.88 L170.60,379.25" fill="none" stroke="#30498a" stroke-width="0.85" stroke-linejoin="round" stroke-linecap="round" />
<line x1="130.3" y1="305.8" x2="142.6" y2="305.8" stroke="#e8845a" stroke-width="1.4" />
<text x="146.4" y="307.40" font-size="5.0" text-anchor="start" fill="#222">SF3B1<tspan font-size="3.0" dy="-1.90">K700E</tspan></text>
<line x1="130.3" y1="324.4" x2="142.6" y2="324.4" stroke="#3470c0" stroke-width="2.0" />
<text x="151" y="326.10" font-size="5.0" text-anchor="start" fill="#333" >WT</text>
<rect x="214.8" y="308.6" width="61.0" height="97.89999999999998" rx="0" fill="none" stroke="#999" stroke-width="0.8" />
<text x="214.2" y="313.24" font-size="5.4" text-anchor="end" fill="#333" >1.0</text>
<text x="214.2" y="336.54" font-size="5.4" text-anchor="end" fill="#333" >.75</text>
<text x="214.2" y="360.24" font-size="5.4" text-anchor="end" fill="#333" >.50</text>
<text x="214.2" y="383.44" font-size="5.4" text-anchor="end" fill="#333" >.25</text>
<text x="214.2" y="406.74" font-size="5.4" text-anchor="end" fill="#333" >0.0</text>
<text transform="translate(200,356.2) rotate(-90)" x="0" y="2.23" font-size="6.2" text-anchor="middle" fill="#333" textLength="78.3" lengthAdjust="spacingAndGlyphs" >Co-transcriptional splicing ratio</text>
<line x1="228.7" y1="311.7" x2="228.7" y2="321.9" stroke="#444" stroke-width="0.6" />
<line x1="228.7" y1="346.2" x2="228.7" y2="400.8" stroke="#444" stroke-width="0.6" />
<rect x="227.7" y="382.5" width="2" height="18.3" rx="0" fill="#111" stroke="none" stroke-width="1" />
<rect x="217.6" y="321.9" width="22.2" height="24.30000000000001" rx="0" fill="#4b5fb2" stroke="#333" stroke-width="0.7" />
<line x1="217.6" y1="331.4" x2="239.79999999999998" y2="331.4" stroke="#2a2a3a" stroke-width="1.0" />
<line x1="262.5" y1="314.2" x2="262.5" y2="324.4" stroke="#444" stroke-width="0.6" />
<line x1="262.5" y1="348.1" x2="262.5" y2="400.8" stroke="#444" stroke-width="0.6" />
<rect x="261.5" y="382.5" width="2" height="18.3" rx="0" fill="#111" stroke="none" stroke-width="1" />
<rect x="251.4" y="324.4" width="22.2" height="23.700000000000045" rx="0" fill="#e8776b" stroke="#333" stroke-width="0.7" />
<line x1="251.4" y1="334.4" x2="273.6" y2="334.4" stroke="#2a2a3a" stroke-width="1.0" />
<line x1="228.8" y1="311.5" x2="262.4" y2="311.5" stroke="#444" stroke-width="0.6" />
<line x1="228.8" y1="311.5" x2="228.8" y2="313.5" stroke="#444" stroke-width="0.6" />
<line x1="262.4" y1="311.5" x2="262.4" y2="313.5" stroke="#444" stroke-width="0.6" />
<text x="247.8" y="317.73" font-size="4.8" text-anchor="middle" fill="#333" textLength="24.4" lengthAdjust="spacingAndGlyphs" >p &lt; 2.2e-16</text>
<text x="228.6" y="413.2" font-size="6" text-anchor="middle" fill="#333" font-family="Liberation Serif, serif" textLength="8" lengthAdjust="spacingAndGlyphs">WT</text>
<text x="254.2" y="413.2" font-size="6" fill="#333" font-family="Liberation Serif, serif"><tspan textLength="18" lengthAdjust="spacingAndGlyphs">SF3B1</tspan><tspan font-size="3" dy="-2.3">K700E</tspan></text>
<rect x="310" y="320.3" width="192.60000000000002" height="96.69999999999999" rx="0" fill="none" stroke="#c8c8c8" stroke-width="0.8" />
<text x="305.5" y="332.88" font-size="6.6" text-anchor="end" fill="#333" >6</text>
<text x="305.5" y="350.38" font-size="6.6" text-anchor="end" fill="#333" >5</text>
<text x="305.5" y="368.18" font-size="6.6" text-anchor="end" fill="#333" >4</text>
<text x="305.5" y="381.98" font-size="6.6" text-anchor="end" fill="#333" >3</text>
<text x="305.5" y="398.18" font-size="6.6" text-anchor="end" fill="#333" >2</text>
<text x="305.5" y="413.18" font-size="6.6" text-anchor="end" fill="#333" >1</text>
<text transform="translate(295.7,367.3) rotate(-90)" x="0" y="2.16" font-size="6" text-anchor="middle" fill="#333" textLength="17.4" lengthAdjust="spacingAndGlyphs" >RPKM</text>
<text x="317.5" y="423.38" font-size="6.6" text-anchor="middle" fill="#222" >-0.5kb</text>
<text x="335.3" y="423.38" font-size="6.6" text-anchor="middle" fill="#222" >TSS</text>
<text x="428" y="423.38" font-size="6.6" text-anchor="middle" fill="#222" >TES</text>
<text x="493" y="423.38" font-size="6.6" text-anchor="middle" fill="#222" >+2.5kb</text>
<path d="M318.30,392.00 C318.92,386.67 320.72,369.50 322.00,360.00 C323.28,350.50 324.83,341.00 326.00,335.00 C327.17,329.00 328.08,323.50 329.00,324.00 C329.92,324.50 330.67,331.17 331.50,338.00 C332.33,344.83 333.08,356.33 334.00,365.00 C334.92,373.67 335.83,384.17 337.00,390.00 C338.17,395.83 339.50,397.58 341.00,400.00 C342.50,402.42 342.83,403.37 346.00,404.50 C349.17,405.63 352.67,406.22 360.00,406.80 C367.33,407.38 379.33,407.83 390.00,408.00 C400.67,408.17 417.67,408.22 424.00,407.80 C430.33,407.38 426.67,406.55 428.00,405.50 C429.33,404.45 429.17,402.25 432.00,401.50 C434.83,400.75 434.88,401.00 445.00,401.00 C455.12,401.00 484.75,401.42 492.70,401.50 L492.70,407.50 C484.75,407.42 455.12,407.08 445.00,407.00 C434.88,406.92 434.83,406.50 432.00,407.00 C429.17,407.50 429.33,409.33 428.00,410.00 C426.67,410.67 430.33,410.83 424.00,411.00 C417.67,411.17 400.67,411.23 390.00,411.00 C379.33,410.77 367.33,410.10 360.00,409.60 C352.67,409.10 349.17,408.77 346.00,408.00 C342.83,407.23 342.50,406.17 341.00,405.00 C339.50,403.83 338.17,402.00 337.00,401.00 C335.83,400.00 334.92,400.00 334.00,399.00 C333.08,398.00 332.33,396.17 331.50,395.00 C330.67,393.83 329.92,391.83 329.00,392.00 C328.08,392.17 327.17,395.00 326.00,396.00 C324.83,397.00 323.28,397.67 322.00,398.00 C320.72,398.33 318.92,398.00 318.30,398.00 Z" fill="#b2c9d0" fill-opacity="0.9"/>
<path d="M318.30,386.00 C319.08,383.50 321.55,375.33 323.00,371.00 C324.45,366.67 325.97,362.33 327.00,360.00 C328.03,357.67 328.37,355.83 329.20,357.00 C330.03,358.17 330.87,361.83 332.00,367.00 C333.13,372.17 334.67,383.08 336.00,388.00 C337.33,392.92 337.50,394.83 340.00,396.50 C342.50,398.17 344.00,397.53 351.00,398.00 C358.00,398.47 371.67,399.08 382.00,399.30 C392.33,399.52 406.00,399.38 413.00,399.30 C420.00,399.22 421.50,399.18 424.00,398.80 C426.50,398.42 425.33,397.33 428.00,397.00 C430.67,396.67 434.67,396.80 440.00,396.80 C445.33,396.80 451.22,396.88 460.00,397.00 C468.78,397.12 487.25,397.42 492.70,397.50 L492.70,402.50 C487.25,402.45 468.78,402.28 460.00,402.20 C451.22,402.12 445.33,402.03 440.00,402.00 C434.67,401.97 430.67,401.70 428.00,402.00 C425.33,402.30 426.50,403.43 424.00,403.80 C421.50,404.17 420.00,404.13 413.00,404.20 C406.00,404.27 392.33,404.40 382.00,404.20 C371.67,404.00 358.00,403.03 351.00,403.00 C344.00,402.97 342.50,404.00 340.00,404.00 C337.50,404.00 337.33,404.00 336.00,403.00 C334.67,402.00 333.13,400.00 332.00,398.00 C330.87,396.00 330.03,391.67 329.20,391.00 C328.37,390.33 328.03,392.67 327.00,394.00 C325.97,395.33 324.45,397.67 323.00,399.00 C321.55,400.33 319.08,401.50 318.30,402.00 Z" fill="#f5b08f" fill-opacity="0.85"/>
<path d="M318.50,392.71 C318.75,392.22 319.50,390.73 320.00,389.77 C320.50,388.81 321.00,387.88 321.50,386.94 C322.00,385.99 322.42,385.47 323.00,384.11 C323.58,382.75 324.33,380.51 325.00,378.78 C325.67,377.06 326.30,375.59 327.00,373.77 C327.70,371.94 328.37,366.61 329.20,367.84 C330.03,369.07 331.20,377.75 332.00,381.15 C332.80,384.56 333.33,385.79 334.00,388.29 C334.67,390.79 335.33,394.51 336.00,396.14 C336.67,397.78 337.33,397.49 338.00,398.10 C338.67,398.70 339.40,399.45 340.00,399.78 C340.60,400.12 341.05,400.05 341.57,400.11 C342.10,400.17 342.62,400.12 343.14,400.14 C343.67,400.16 344.19,400.12 344.71,400.20 C345.24,400.29 345.76,400.64 346.29,400.64 C346.81,400.64 347.33,400.25 347.86,400.18 C348.38,400.12 348.90,400.11 349.43,400.23 C349.95,400.34 350.48,400.80 351.00,400.86 C351.52,400.93 352.03,400.66 352.55,400.60 C353.07,400.55 353.58,400.53 354.10,400.54 C354.62,400.55 355.13,400.64 355.65,400.68 C356.17,400.71 356.68,400.68 357.20,400.76 C357.72,400.84 358.23,401.17 358.75,401.17 C359.27,401.18 359.78,400.84 360.30,400.79 C360.82,400.73 361.33,400.79 361.85,400.85 C362.37,400.91 362.88,401.08 363.40,401.13 C363.92,401.18 364.43,401.11 364.95,401.17 C365.47,401.23 365.98,401.42 366.50,401.47 C367.02,401.52 367.53,401.50 368.05,401.46 C368.57,401.42 369.08,401.28 369.60,401.23 C370.12,401.19 370.63,401.13 371.15,401.20 C371.67,401.27 372.18,401.54 372.70,401.64 C373.22,401.74 373.73,401.85 374.25,401.79 C374.77,401.73 375.28,401.28 375.80,401.28 C376.32,401.27 376.83,401.66 377.35,401.76 C377.87,401.86 378.38,401.89 378.90,401.90 C379.42,401.91 379.93,401.88 380.45,401.83 C380.97,401.79 381.48,401.61 382.00,401.63 C382.52,401.66 383.03,401.93 383.55,401.98 C384.07,402.03 384.58,402.00 385.10,401.94 C385.62,401.88 386.13,401.63 386.65,401.62 C387.17,401.61 387.68,401.88 388.20,401.88 C388.72,401.89 389.23,401.69 389.75,401.63 C390.27,401.57 390.78,401.51 391.30,401.52 C391.82,401.54 392.33,401.67 392.85,401.70 C393.37,401.73 393.88,401.69 394.40,401.70 C394.92,401.71 395.43,401.71 395.95,401.74 C396.47,401.77 396.98,401.84 397.50,401.89 C398.02,401.93 398.53,401.97 399.05,402.00 C399.57,402.03 400.08,402.06 400.60,402.08 C401.12,402.09 401.63,402.08 402.15,402.09 C402.67,402.09 403.18,402.11 403.70,402.10 C404.22,402.08 404.73,402.04 405.25,401.97 C405.77,401.91 406.28,401.75 406.80,401.68 C407.32,401.62 407.83,401.57 408.35,401.61 C408.87,401.64 409.38,401.84 409.90,401.87 C410.42,401.91 410.93,401.82 411.45,401.83 C411.97,401.83 412.48,401.96 413.00,401.90 C413.52,401.85 414.05,401.56 414.57,401.48 C415.10,401.41 415.62,401.41 416.14,401.47 C416.67,401.53 417.19,401.82 417.71,401.84 C418.24,401.86 418.76,401.62 419.29,401.58 C419.81,401.53 420.33,401.63 420.86,401.56 C421.38,401.49 421.90,401.18 422.43,401.13 C422.95,401.08 423.40,401.32 424.00,401.24 C424.60,401.16 425.33,400.92 426.00,400.65 C426.67,400.37 427.42,399.73 428.00,399.59 C428.58,399.45 429.00,399.83 429.50,399.78 C430.00,399.73 430.50,399.35 431.00,399.29 C431.50,399.24 432.00,399.38 432.50,399.44 C433.00,399.49 433.50,399.64 434.00,399.63 C434.50,399.63 435.00,399.41 435.50,399.40 C436.00,399.40 436.50,399.59 437.00,399.60 C437.50,399.61 438.00,399.52 438.50,399.45 C439.00,399.38 439.49,399.22 440.00,399.17 C440.51,399.13 441.03,399.08 441.54,399.17 C442.05,399.27 442.56,399.71 443.08,399.72 C443.59,399.73 444.10,399.29 444.62,399.22 C445.13,399.14 445.64,399.25 446.15,399.28 C446.67,399.30 447.18,399.32 447.69,399.38 C448.21,399.44 448.72,399.56 449.23,399.62 C449.74,399.68 450.26,399.74 450.77,399.72 C451.28,399.70 451.79,399.54 452.31,399.51 C452.82,399.48 453.33,399.50 453.85,399.54 C454.36,399.57 454.87,399.74 455.38,399.73 C455.90,399.71 456.41,399.47 456.92,399.44 C457.44,399.40 457.95,399.47 458.46,399.51 C458.97,399.55 459.48,399.64 460.00,399.67 C460.52,399.70 461.04,399.75 461.56,399.70 C462.08,399.65 462.60,399.41 463.11,399.36 C463.63,399.31 464.15,399.41 464.67,399.42 C465.19,399.44 465.71,399.39 466.23,399.46 C466.75,399.53 467.27,399.77 467.79,399.83 C468.30,399.89 468.82,399.80 469.34,399.83 C469.86,399.86 470.38,400.00 470.90,400.02 C471.42,400.03 471.94,399.98 472.46,399.91 C472.98,399.85 473.50,399.62 474.01,399.62 C474.53,399.63 475.05,399.87 475.57,399.95 C476.09,400.03 476.61,400.14 477.13,400.10 C477.65,400.07 478.17,399.83 478.69,399.74 C479.20,399.65 479.72,399.55 480.24,399.55 C480.76,399.56 481.28,399.76 481.80,399.79 C482.32,399.83 482.84,399.77 483.36,399.76 C483.88,399.74 484.40,399.73 484.91,399.71 C485.43,399.69 485.95,399.65 486.47,399.65 C486.99,399.65 487.51,399.63 488.03,399.72 C488.55,399.81 489.07,400.18 489.59,400.18 C490.10,400.18 490.62,399.73 491.14,399.71 C491.66,399.69 492.44,400.01 492.70,400.07" fill="none" stroke="#ee9572" stroke-width="0.7" stroke-linejoin="round" stroke-linecap="round" />
<path d="M318.50,394.08 C318.79,392.78 319.67,389.01 320.25,386.27 C320.83,383.53 321.49,380.02 322.00,377.62 C322.51,375.22 322.89,373.76 323.33,371.86 C323.78,369.95 324.22,368.18 324.67,366.19 C325.11,364.20 325.53,361.72 326.00,359.93 C326.47,358.14 327.00,356.98 327.50,355.46 C328.00,353.94 328.54,350.33 329.00,350.82 C329.46,351.32 329.83,356.00 330.25,358.42 C330.67,360.83 331.08,362.52 331.50,365.31 C331.92,368.10 332.33,371.86 332.75,375.14 C333.17,378.42 333.54,382.35 334.00,385.00 C334.46,387.66 335.00,389.08 335.50,391.07 C336.00,393.07 336.53,395.61 337.00,396.95 C337.47,398.28 337.89,398.40 338.33,399.07 C338.78,399.74 339.22,400.37 339.67,400.99 C340.11,401.60 340.57,402.20 341.00,402.77 C341.43,403.33 341.83,403.99 342.25,404.36 C342.67,404.73 343.08,404.79 343.50,404.99 C343.92,405.18 344.33,405.34 344.75,405.55 C345.17,405.76 345.58,406.08 346.00,406.22 C346.42,406.36 346.85,406.40 347.28,406.40 C347.71,406.40 348.13,406.13 348.56,406.22 C348.99,406.31 349.41,406.85 349.84,406.96 C350.27,407.06 350.69,406.81 351.12,406.88 C351.55,406.95 351.97,407.24 352.40,407.37 C352.83,407.51 353.25,407.64 353.68,407.70 C354.11,407.77 354.53,407.74 354.96,407.78 C355.39,407.82 355.81,407.86 356.24,407.95 C356.67,408.04 357.09,408.12 357.52,408.33 C357.95,408.54 358.38,409.07 358.80,409.20 C359.22,409.33 359.61,409.25 360.02,409.12 C360.42,409.00 360.83,408.55 361.23,408.47 C361.64,408.38 362.04,408.63 362.45,408.62 C362.85,408.61 363.26,408.39 363.66,408.38 C364.07,408.38 364.47,408.52 364.88,408.61 C365.28,408.69 365.69,408.87 366.09,408.90 C366.50,408.94 366.91,408.84 367.31,408.81 C367.72,408.77 368.12,408.74 368.53,408.70 C368.93,408.66 369.34,408.55 369.74,408.57 C370.15,408.59 370.55,408.70 370.96,408.83 C371.36,408.95 371.77,409.30 372.17,409.32 C372.58,409.34 372.98,409.03 373.39,408.94 C373.79,408.85 374.20,408.67 374.61,408.80 C375.01,408.92 375.42,409.56 375.82,409.67 C376.23,409.79 376.63,409.51 377.04,409.51 C377.44,409.50 377.85,409.59 378.25,409.64 C378.66,409.68 379.06,409.77 379.47,409.79 C379.87,409.80 380.28,409.79 380.68,409.73 C381.09,409.68 381.49,409.46 381.90,409.43 C382.31,409.39 382.72,409.50 383.13,409.51 C383.54,409.52 383.95,409.41 384.36,409.47 C384.77,409.53 385.19,409.83 385.60,409.87 C386.01,409.90 386.42,409.60 386.83,409.69 C387.24,409.78 387.65,410.30 388.06,410.39 C388.47,410.49 388.88,410.32 389.29,410.26 C389.70,410.20 390.11,410.10 390.52,410.03 C390.93,409.96 391.35,409.75 391.76,409.82 C392.17,409.89 392.58,410.39 392.99,410.44 C393.40,410.49 393.81,410.28 394.22,410.12 C394.63,409.96 395.04,409.49 395.45,409.48 C395.86,409.46 396.27,409.96 396.68,410.02 C397.09,410.08 397.51,409.82 397.92,409.84 C398.33,409.85 398.74,410.01 399.15,410.12 C399.56,410.23 399.97,410.48 400.38,410.48 C400.79,410.49 401.20,410.21 401.61,410.14 C402.02,410.07 402.43,410.06 402.84,410.05 C403.25,410.03 403.67,410.12 404.08,410.07 C404.49,410.03 404.90,409.78 405.31,409.78 C405.72,409.78 406.13,410.02 406.54,410.07 C406.95,410.12 407.36,410.06 407.77,410.06 C408.18,410.07 408.59,410.12 409.00,410.11 C409.41,410.11 409.83,410.06 410.24,410.03 C410.65,410.01 411.06,409.98 411.47,409.96 C411.88,409.94 412.29,409.92 412.70,409.93 C413.11,409.94 413.54,410.00 413.96,410.01 C414.37,410.02 414.79,409.98 415.21,409.99 C415.63,410.00 416.05,410.11 416.47,410.06 C416.89,410.02 417.30,409.74 417.72,409.70 C418.14,409.67 418.56,409.82 418.98,409.83 C419.40,409.84 419.81,409.78 420.23,409.76 C420.65,409.75 421.07,409.75 421.49,409.76 C421.91,409.76 422.33,409.77 422.74,409.80 C423.16,409.83 423.57,410.02 424.00,409.92 C424.43,409.82 424.89,409.31 425.33,409.20 C425.78,409.09 426.22,409.28 426.67,409.24 C427.11,409.19 427.56,409.11 428.00,408.94 C428.44,408.76 428.87,408.44 429.30,408.18 C429.73,407.93 430.17,407.69 430.60,407.41 C431.03,407.12 431.46,406.68 431.90,406.47 C432.34,406.26 432.80,406.10 433.25,406.13 C433.70,406.16 434.15,406.65 434.60,406.64 C435.05,406.64 435.50,406.27 435.95,406.13 C436.40,405.98 436.85,405.86 437.30,405.78 C437.75,405.70 438.20,405.69 438.65,405.64 C439.10,405.60 439.57,405.54 440.00,405.52 C440.43,405.51 440.82,405.62 441.23,405.56 C441.63,405.49 442.04,405.12 442.45,405.12 C442.86,405.12 443.27,405.50 443.68,405.56 C444.09,405.63 444.49,405.53 444.90,405.54 C445.31,405.55 445.72,405.63 446.13,405.63 C446.54,405.63 446.94,405.60 447.35,405.55 C447.76,405.50 448.17,405.31 448.58,405.33 C448.99,405.36 449.40,405.66 449.80,405.72 C450.21,405.78 450.62,405.71 451.03,405.69 C451.44,405.67 451.85,405.63 452.26,405.58 C452.66,405.53 453.07,405.45 453.48,405.39 C453.89,405.34 454.30,405.30 454.71,405.27 C455.12,405.23 455.52,405.20 455.93,405.16 C456.34,405.12 456.75,405.03 457.16,405.02 C457.57,405.00 457.98,405.02 458.38,405.08 C458.79,405.14 459.20,405.29 459.61,405.39 C460.02,405.48 460.43,405.62 460.83,405.65 C461.24,405.67 461.65,405.56 462.06,405.53 C462.47,405.50 462.88,405.55 463.29,405.47 C463.69,405.38 464.10,405.06 464.51,405.01 C464.92,404.97 465.33,405.15 465.74,405.21 C466.15,405.27 466.55,405.27 466.96,405.37 C467.37,405.46 467.78,405.70 468.19,405.78 C468.60,405.86 469.01,405.80 469.41,405.85 C469.82,405.90 470.23,406.10 470.64,406.09 C471.05,406.08 471.46,405.81 471.87,405.80 C472.27,405.79 472.68,406.00 473.09,406.03 C473.50,406.06 473.91,405.98 474.32,405.96 C474.72,405.95 475.13,405.93 475.54,405.94 C475.95,405.95 476.36,406.00 476.77,406.03 C477.18,406.07 477.58,406.15 477.99,406.15 C478.40,406.14 478.81,406.12 479.22,405.99 C479.63,405.86 480.04,405.43 480.44,405.36 C480.85,405.29 481.26,405.54 481.67,405.57 C482.08,405.59 482.49,405.50 482.90,405.52 C483.30,405.53 483.71,405.62 484.12,405.65 C484.53,405.69 484.94,405.72 485.35,405.74 C485.76,405.76 486.16,405.75 486.57,405.75 C486.98,405.74 487.39,405.74 487.80,405.70 C488.21,405.66 488.61,405.49 489.02,405.53 C489.43,405.57 489.84,405.89 490.25,405.96 C490.66,406.03 491.07,405.93 491.47,405.94 C491.88,405.95 492.50,406.02 492.70,406.03" fill="none" stroke="#4f7cbf" stroke-width="0.8" stroke-linejoin="round" stroke-linecap="round" />
<line x1="339.6" y1="330.4" x2="355" y2="330.4" stroke="#e8956a" stroke-width="1.8" />
<line x1="339.6" y1="352.7" x2="355" y2="352.7" stroke="#4a7fc8" stroke-width="1.8" />
<text x="358.8" y="332.43" font-size="6.2" text-anchor="start" fill="#333" textLength="41.5" lengthAdjust="spacingAndGlyphs" >SF3B1-mutant MDS</text>
<text x="378" y="339.76" font-size="6.0" text-anchor="middle" fill="#333" textLength="15.4" lengthAdjust="spacingAndGlyphs" >(n = 5)</text>
<text x="358.8" y="354.83" font-size="6.2" text-anchor="start" fill="#333" textLength="42" lengthAdjust="spacingAndGlyphs" >Healthy volunteer</text>
<text x="378" y="362.36" font-size="6.0" text-anchor="middle" fill="#333" textLength="15.4" lengthAdjust="spacingAndGlyphs" >(n = 4)</text>
<rect x="430.7" y="321.6" width="70.8" height="66.2" rx="0" fill="#fff" stroke="#999" stroke-width="0.7" />
<text x="429.6" y="326.42" font-size="5.6" text-anchor="end" fill="#333" >1.0</text>
<text x="429.6" y="341.22" font-size="5.6" text-anchor="end" fill="#333" >0.75</text>
<text x="429.6" y="356.42" font-size="5.6" text-anchor="end" fill="#333" >0.50</text>
<text x="429.6" y="371.22" font-size="5.6" text-anchor="end" fill="#333" >0.25</text>
<text x="429.6" y="386.52" font-size="5.6" text-anchor="end" fill="#333" >0.0</text>
<text x="434.3" y="393.42" font-size="5.6" text-anchor="middle" fill="#333" >0</text>
<text x="450.8" y="393.42" font-size="5.6" text-anchor="middle" fill="#333" >.25</text>
<text x="467.3" y="393.42" font-size="5.6" text-anchor="middle" fill="#333" >.50</text>
<text x="483.6" y="393.42" font-size="5.6" text-anchor="middle" fill="#333" >.75</text>
<text x="497.7" y="393.42" font-size="5.6" text-anchor="middle" fill="#333" >1.0</text>
<text x="467.3" y="398.38" font-size="5.5" text-anchor="middle" fill="#333" textLength="36.7" lengthAdjust="spacingAndGlyphs" >Traveling Ratio</text>
<text transform="translate(415.9,357.6) rotate(-90)" x="0" y="1.80" font-size="5.0" text-anchor="middle" fill="#333" textLength="69.8" lengthAdjust="spacingAndGlyphs" >Cumulative proportion of genes</text>
<text x="457.5" y="356.31" font-size="5.3" text-anchor="start" fill="#222" textLength="29.7" lengthAdjust="spacingAndGlyphs" >p=1.813e-10</text>
<line x1="431.5" y1="384.5" x2="435" y2="384.5" stroke="#8fb8e8" stroke-width="1.0" />
<path d="M434.50,384.50 C434.83,384.33 435.87,385.92 436.50,383.50 C437.13,381.08 437.55,374.75 438.30,370.00 C439.05,365.25 439.88,359.50 441.00,355.00 C442.12,350.50 443.50,346.33 445.00,343.00 C446.50,339.67 448.17,337.08 450.00,335.00 C451.83,332.92 453.50,331.75 456.00,330.50 C458.50,329.25 461.00,328.33 465.00,327.50 C469.00,326.67 474.33,326.02 480.00,325.50 C485.67,324.98 495.83,324.58 499.00,324.40" fill="none" stroke="#f0a0a0" stroke-width="0.8" stroke-linejoin="round" stroke-linecap="round" />
<path d="M435.00,384.50 C435.42,384.33 436.67,385.58 437.50,383.50 C438.33,381.42 438.92,376.25 440.00,372.00 C441.08,367.75 442.50,362.25 444.00,358.00 C445.50,353.75 447.17,349.75 449.00,346.50 C450.83,343.25 452.83,340.83 455.00,338.50 C457.17,336.17 459.50,334.08 462.00,332.50 C464.50,330.92 466.67,330.00 470.00,329.00 C473.33,328.00 477.17,327.23 482.00,326.50 C486.83,325.77 496.17,324.92 499.00,324.60" fill="none" stroke="#3c5a9c" stroke-width="0.8" stroke-linejoin="round" stroke-linecap="round" />
<text x="87.7" y="460.89" font-size="5.8" text-anchor="middle" fill="#222" >IP</text>
<text x="142.5" y="460.89" font-size="5.8" text-anchor="middle" fill="#222" textLength="13.3" lengthAdjust="spacingAndGlyphs" >Input</text>
<line x1="62.5" y1="466.6" x2="106.9" y2="466.6" stroke="#aaa" stroke-width="1.4" />
<line x1="118" y1="467" x2="163" y2="467" stroke="#aaa" stroke-width="1.4" />
<text x="67.6" y="474.66" font-size="6" text-anchor="middle" fill="#333" >UT</text>
<text x="81.3" y="474.66" font-size="6" text-anchor="middle" fill="#333" >WT</text>
<text x="92" y="474.49" font-size="5.8" text-anchor="start" fill="#222">SF3B1<tspan font-size="2.7" dy="-2.20">K700E</tspan></text>
<text x="125.7" y="474.86" font-size="6" text-anchor="middle" fill="#333" >UT</text>
<text x="140.7" y="474.86" font-size="6" text-anchor="middle" fill="#333" >WT</text>
<text x="151" y="474.69" font-size="5.8" text-anchor="start" fill="#222">SF3B1<tspan font-size="2.6" dy="-2.20">K700E</tspan></text>
<text x="46" y="485.77" font-size="6.3" text-anchor="middle" fill="#222" >FLAG</text>
<clipPath id="c1"><rect x="60.3" y="478.4" width="48.7" height="14.800000000000011"/></clipPath>
<rect x="60.3" y="478.4" width="48.7" height="14.800000000000011" rx="0" fill="#f6f6f6" stroke="none" stroke-width="1" />
<g clip-path="url(#c1)">
<rect x="76.0" y="484.6" width="12.9" height="5.5" rx="2.2" fill="rgb(0,0,0)" filter="url(#bh)"/>
<rect x="94.0" y="483.6" width="12.9" height="5.0" rx="2.2" fill="rgb(0,0,0)" filter="url(#bh)"/>
<rect x="75.8" y="484.2" width="2.4" height="6.3" rx="2.2" fill="rgb(0,0,0)" filter="url(#bh)"/>
<rect x="86.8" y="484.2" width="2.4" height="6.3" rx="2.2" fill="rgb(0,0,0)" filter="url(#bh)"/>
<rect x="93.8" y="483.2" width="2.4" height="5.8" rx="2.2" fill="rgb(0,0,0)" filter="url(#bh)"/>
<rect x="104.8" y="483.2" width="2.4" height="5.8" rx="2.2" fill="rgb(0,0,0)" filter="url(#bh)"/>
</g>
<rect x="60.3" y="478.4" width="48.7" height="14.800000000000011" rx="0" fill="none" stroke="#8a8a8a" stroke-width="0.6" />
<clipPath id="c2"><rect x="118.5" y="477.9" width="48.099999999999994" height="16.400000000000034"/></clipPath>
<rect x="118.5" y="477.9" width="48.099999999999994" height="16.400000000000034" rx="0" fill="#ececec" stroke="none" stroke-width="1" />
<g clip-path="url(#c2)">
<rect x="136.1" y="484.6" width="10.9" height="3.5" rx="1.8" fill="rgb(0,0,0)" filter="url(#bh)"/>
<rect x="152.1" y="484.3" width="10.8" height="2.7" rx="1.3" fill="rgb(10,10,10)" filter="url(#bh)"/>
<rect x="136.3" y="480.1" width="10.4" height="3.8" rx="1.9" fill="rgb(177,177,177)" filter="url(#bh)"/>
<rect x="136.3" y="489.6" width="10.4" height="2.8" rx="1.4" fill="rgb(202,202,202)" filter="url(#bh)"/>
<rect x="152.3" y="489.6" width="10.4" height="2.8" rx="1.4" fill="rgb(210,210,210)" filter="url(#bh)"/>
</g>
<rect x="118.5" y="477.9" width="48.099999999999994" height="16.400000000000034" rx="0" fill="none" stroke="#8a8a8a" stroke-width="0.6" />
<text x="167.6" y="488.40" font-size="6.4" text-anchor="start" fill="#222" textLength="20.700000000000003" lengthAdjust="spacingAndGlyphs" >145kDa</text>
<text x="46" y="504.77" font-size="6.3" text-anchor="middle" fill="#222" >SF3B1</text>
<clipPath id="c3"><rect x="60.3" y="496.2" width="48.7" height="14.800000000000011"/></clipPath>
<rect x="60.3" y="496.2" width="48.7" height="14.800000000000011" rx="0" fill="#f6f6f6" stroke="none" stroke-width="1" />
<g clip-path="url(#c3)">
<rect x="78.0" y="496.9" width="10.9" height="6.3" rx="2.2" fill="rgb(152,152,152)" filter="url(#bh)"/>
<rect x="78.0" y="502.5" width="10.9" height="6.3" rx="2.2" fill="rgb(0,0,0)" filter="url(#bh)"/>
<rect x="93.1" y="505.3" width="12.4" height="4.1" rx="2.0" fill="rgb(0,0,0)" filter="url(#bh)"/>
<rect x="93.1" y="501.9" width="12.4" height="3.3" rx="1.6" fill="rgb(190,190,190)" filter="url(#bh)"/>
</g>
<rect x="60.3" y="496.2" width="48.7" height="14.800000000000011" rx="0" fill="none" stroke="#8a8a8a" stroke-width="0.6" />
<clipPath id="c4"><rect x="118.5" y="496" width="48.099999999999994" height="16"/></clipPath>
<rect x="118.5" y="496" width="48.099999999999994" height="16" rx="0" fill="#ececec" stroke="none" stroke-width="1" />
<g clip-path="url(#c4)">
<rect x="125.6" y="502.9" width="9.8" height="2.3" rx="1.1" fill="rgb(165,165,165)" filter="url(#bh)"/>
<rect x="138.8" y="500.8" width="10.5" height="5.0" rx="2.2" fill="rgb(0,0,0)" filter="url(#bh)"/>
<rect x="138.8" y="496.9" width="10.4" height="4.3" rx="2.1" fill="rgb(90,90,90)" filter="url(#bh)"/>
<rect x="138.8" y="505.6" width="10.4" height="5.8" rx="2.2" fill="rgb(152,152,152)" filter="url(#bh)"/>
<rect x="153.2" y="502.4" width="10.8" height="3.9" rx="1.9" fill="rgb(2,2,2)" filter="url(#bh)"/>
<rect x="153.4" y="498.4" width="10.4" height="4.3" rx="2.1" fill="rgb(127,127,127)" filter="url(#bh)"/>
<rect x="153.4" y="505.9" width="10.4" height="5.3" rx="2.2" fill="rgb(152,152,152)" filter="url(#bh)"/>
</g>
<rect x="118.5" y="496" width="48.099999999999994" height="16" rx="0" fill="none" stroke="#8a8a8a" stroke-width="0.6" />
<text x="167.6" y="506.30" font-size="6.4" text-anchor="start" fill="#222" textLength="20.700000000000003" lengthAdjust="spacingAndGlyphs" >145kDa</text>
<text x="46" y="524.47" font-size="6.3" text-anchor="middle" fill="#222" >SF3A3</text>
<clipPath id="c5"><rect x="60.3" y="514.8" width="48.7" height="16.5"/></clipPath>
<rect x="60.3" y="514.8" width="48.7" height="16.5" rx="0" fill="#f6f6f6" stroke="none" stroke-width="1" />
<g clip-path="url(#c5)">
<rect x="79.1" y="520.0" width="9.8" height="5.0" rx="2.2" fill="rgb(0,0,0)" filter="url(#bh)"/>
<rect x="94.5" y="521.5" width="10.9" height="3.1" rx="1.5" fill="rgb(2,2,2)" filter="url(#bh)"/>
<rect x="79.3" y="525.4" width="9.4" height="3.3" rx="1.6" fill="rgb(165,165,165)" filter="url(#bh)"/>
<rect x="95.3" y="525.4" width="9.4" height="3.3" rx="1.6" fill="rgb(177,177,177)" filter="url(#bh)"/>
</g>
<rect x="60.3" y="514.8" width="48.7" height="16.5" rx="0" fill="none" stroke="#8a8a8a" stroke-width="0.6" />
<clipPath id="c6"><rect x="118.5" y="514.5" width="48.099999999999994" height="16.5"/></clipPath>
<rect x="118.5" y="514.5" width="48.099999999999994" height="16.5" rx="0" fill="#ececec" stroke="none" stroke-width="1" />
<g clip-path="url(#c6)">
<rect x="124.6" y="519.9" width="9.8" height="2.9" rx="1.4" fill="rgb(27,27,27)" filter="url(#bh)"/>
<rect x="137.6" y="519.5" width="9.8" height="3.4" rx="1.7" fill="rgb(0,0,0)" filter="url(#bh)"/>
<rect x="151.6" y="519.4" width="10.8" height="3.9" rx="1.9" fill="rgb(0,0,0)" filter="url(#bh)"/>
</g>
<rect x="118.5" y="514.5" width="48.099999999999994" height="16.5" rx="0" fill="none" stroke="#8a8a8a" stroke-width="0.6" />
<text x="167.6" y="525.05" font-size="6.4" text-anchor="start" fill="#222" textLength="17.25" lengthAdjust="spacingAndGlyphs" >60kDa</text>
<text x="46" y="542.87" font-size="6.3" text-anchor="middle" fill="#222" >HTATSF1</text>
<clipPath id="c7"><rect x="60.3" y="533.2" width="48.7" height="15.799999999999955"/></clipPath>
<rect x="60.3" y="533.2" width="48.7" height="15.799999999999955" rx="0" fill="#eeeeee" stroke="none" stroke-width="1" />
<g clip-path="url(#c7)">
<rect x="78.0" y="540.3" width="11.9" height="3.4" rx="1.7" fill="rgb(85,85,85)" filter="url(#bh)"/>
</g>
<rect x="60.3" y="533.2" width="48.7" height="15.799999999999955" rx="0" fill="none" stroke="#8a8a8a" stroke-width="0.6" />
<clipPath id="c8"><rect x="118.5" y="533" width="48.099999999999994" height="16"/></clipPath>
<rect x="118.5" y="533" width="48.099999999999994" height="16" rx="0" fill="#ececec" stroke="none" stroke-width="1" />
<g clip-path="url(#c8)">
<rect x="123.6" y="539.9" width="9.2" height="2.8" rx="1.4" fill="rgb(177,177,177)" filter="url(#bh)"/>
<rect x="137.6" y="537.7" width="11.8" height="9.1" rx="2.2" fill="rgb(0,0,0)" filter="url(#bh)"/>
<rect x="153.2" y="541.4" width="9.7" height="2.7" rx="1.3" fill="rgb(2,2,2)" filter="url(#bh)"/>
</g>
<rect x="118.5" y="533" width="48.099999999999994" height="16" rx="0" fill="none" stroke="#8a8a8a" stroke-width="0.6" />
<text x="167.6" y="543.30" font-size="6.4" text-anchor="start" fill="#222" textLength="20.700000000000003" lengthAdjust="spacingAndGlyphs" >130kDa</text>
<text x="46" y="560.87" font-size="6.3" text-anchor="middle" fill="#222" >U2AF2</text>
<clipPath id="c9"><rect x="60.3" y="551.2" width="48.7" height="16.5"/></clipPath>
<rect x="60.3" y="551.2" width="48.7" height="16.5" rx="0" fill="#f6f6f6" stroke="none" stroke-width="1" />
<g clip-path="url(#c9)">
<rect x="79.5" y="555.8" width="11.3" height="3.9" rx="1.9" fill="rgb(15,15,15)" filter="url(#bh)"/>
<rect x="87.8" y="555.6" width="3.4" height="4.3" rx="2.1" fill="rgb(0,0,0)" filter="url(#bh)"/>
<rect x="95.6" y="556.0" width="10.8" height="3.3" rx="1.6" fill="rgb(160,160,160)" filter="url(#bh)"/>
</g>
<rect x="60.3" y="551.2" width="48.7" height="16.5" rx="0" fill="none" stroke="#8a8a8a" stroke-width="0.6" />
<clipPath id="c10"><rect x="118.5" y="551.6" width="48.099999999999994" height="15.600000000000023"/></clipPath>
<rect x="118.5" y="551.6" width="48.099999999999994" height="15.600000000000023" rx="0" fill="#ececec" stroke="none" stroke-width="1" />
<g clip-path="url(#c10)">
<rect x="126.7" y="558.5" width="9.2" height="2.3" rx="1.1" fill="rgb(127,127,127)" filter="url(#bh)"/>
<rect x="140.2" y="558.5" width="10.3" height="2.5" rx="1.2" fill="rgb(102,102,102)" filter="url(#bh)"/>
<rect x="153.6" y="558.9" width="10.8" height="2.8" rx="1.4" fill="rgb(77,77,77)" filter="url(#bh)"/>
</g>
<rect x="118.5" y="551.6" width="48.099999999999994" height="15.600000000000023" rx="0" fill="none" stroke="#8a8a8a" stroke-width="0.6" />
<text x="167.6" y="561.70" font-size="6.4" text-anchor="start" fill="#222" textLength="17.25" lengthAdjust="spacingAndGlyphs" >65kDa</text>
<text x="46" y="580.47" font-size="6.3" text-anchor="middle" fill="#222" >U2AF1</text>
<clipPath id="c11"><rect x="60.3" y="569.6" width="48.7" height="17.5"/></clipPath>
<rect x="60.3" y="569.6" width="48.7" height="17.5" rx="0" fill="#f6f6f6" stroke="none" stroke-width="1" />
<g clip-path="url(#c11)">
<rect x="79.8" y="575.8" width="8.4" height="3.5" rx="1.8" fill="rgb(65,65,65)" filter="url(#bh)"/>
<rect x="87.3" y="575.2" width="4.4" height="4.5" rx="2.2" fill="rgb(0,0,0)" filter="url(#bh)"/>
<rect x="103.2" y="575.4" width="2.9" height="3.3" rx="1.6" fill="rgb(127,127,127)" filter="url(#bh)"/>
</g>
<rect x="60.3" y="569.6" width="48.7" height="17.5" rx="0" fill="none" stroke="#8a8a8a" stroke-width="0.6" />
<clipPath id="c12"><rect x="118.5" y="569.8" width="48.099999999999994" height="17.0"/></clipPath>
<rect x="118.5" y="569.8" width="48.099999999999994" height="17.0" rx="0" fill="#ececec" stroke="none" stroke-width="1" />
<g clip-path="url(#c12)">
<rect x="123.6" y="577.4" width="10.8" height="2.7" rx="1.3" fill="rgb(140,140,140)" filter="url(#bh)"/>
<rect x="138.1" y="576.8" width="10.8" height="2.9" rx="1.4" fill="rgb(102,102,102)" filter="url(#bh)"/>
<rect x="153.2" y="576.3" width="10.8" height="2.9" rx="1.4" fill="rgb(90,90,90)" filter="url(#bh)"/>
</g>
<rect x="118.5" y="569.8" width="48.099999999999994" height="17.0" rx="0" fill="none" stroke="#8a8a8a" stroke-width="0.6" />
<text x="167.6" y="580.60" font-size="6.4" text-anchor="start" fill="#222" textLength="17.25" lengthAdjust="spacingAndGlyphs" >35kDa</text>
<text x="46" y="599.97" font-size="6.3" text-anchor="middle" fill="#222" >SUGP1</text>
<clipPath id="c13"><rect x="60.3" y="589.7" width="48.7" height="16.5"/></clipPath>
<rect x="60.3" y="589.7" width="48.7" height="16.5" rx="0" fill="#f6f6f6" stroke="none" stroke-width="1" />
<g clip-path="url(#c13)">
<rect x="80.1" y="594.4" width="11.3" height="2.9" rx="1.4" fill="rgb(10,10,10)" filter="url(#bh)"/>
<rect x="88.5" y="594.0" width="2.9" height="3.8" rx="1.9" fill="rgb(0,0,0)" filter="url(#bh)"/>
<rect x="98.2" y="594.1" width="8.7" height="3.1" rx="1.5" fill="rgb(15,15,15)" filter="url(#bh)"/>
<rect x="80.6" y="598.4" width="10.4" height="4.3" rx="2.1" fill="rgb(190,190,190)" filter="url(#bh)"/>
<rect x="98.4" y="598.4" width="8.4" height="4.3" rx="2.1" fill="rgb(190,190,190)" filter="url(#bh)"/>
<rect x="63.8" y="592.9" width="9.4" height="8.3" rx="2.2" fill="rgb(225,225,225)" filter="url(#bh)"/>
</g>
<rect x="60.3" y="589.7" width="48.7" height="16.5" rx="0" fill="none" stroke="#8a8a8a" stroke-width="0.6" />
<clipPath id="c14"><rect x="118.5" y="589.7" width="48.099999999999994" height="16.5"/></clipPath>
<rect x="118.5" y="589.7" width="48.099999999999994" height="16.5" rx="0" fill="#ececec" stroke="none" stroke-width="1" />
<g clip-path="url(#c14)">
<rect x="122.9" y="595.6" width="9.3" height="3.8" rx="1.9" fill="rgb(52,52,52)" filter="url(#bh)"/>
<rect x="137.6" y="595.8" width="9.8" height="3.4" rx="1.7" fill="rgb(0,0,0)" filter="url(#bh)"/>
<rect x="137.6" y="600.1" width="9.8" height="2.3" rx="1.1" fill="rgb(65,65,65)" filter="url(#bh)"/>
<rect x="152.1" y="595.1" width="11.4" height="3.8" rx="1.9" fill="rgb(0,0,0)" filter="url(#bh)"/>
<rect x="152.1" y="600.2" width="11.4" height="2.5" rx="1.2" fill="rgb(40,40,40)" filter="url(#bh)"/>
</g>
<rect x="118.5" y="589.7" width="48.099999999999994" height="16.5" rx="0" fill="none" stroke="#8a8a8a" stroke-width="0.6" />
<text x="167.6" y="600.25" font-size="6.4" text-anchor="start" fill="#222" textLength="17.25" lengthAdjust="spacingAndGlyphs" >72kDa</text>
<text x="46" y="618.97" font-size="6.3" text-anchor="middle" fill="#222" >DDX46</text>
<clipPath id="c15"><rect x="60.3" y="608.9" width="48.7" height="17.399999999999977"/></clipPath>
<rect x="60.3" y="608.9" width="48.7" height="17.399999999999977" rx="0" fill="#f6f6f6" stroke="none" stroke-width="1" />
<g clip-path="url(#c15)">
<rect x="79.1" y="615.5" width="11.8" height="5.0" rx="2.2" fill="rgb(0,0,0)" filter="url(#bh)"/>
<rect x="96.2" y="615.5" width="10.8" height="6.0" rx="2.2" fill="rgb(0,0,0)" filter="url(#bh)"/>
<rect x="96.3" y="619.9" width="2.4" height="4.3" rx="2.1" fill="rgb(115,115,115)" filter="url(#bh)"/>
</g>
<rect x="60.3" y="608.9" width="48.7" height="17.399999999999977" rx="0" fill="none" stroke="#8a8a8a" stroke-width="0.6" />
<clipPath id="c16"><rect x="118.5" y="608.7" width="48.099999999999994" height="16.5"/></clipPath>
<rect x="118.5" y="608.7" width="48.099999999999994" height="16.5" rx="0" fill="#ececec" stroke="none" stroke-width="1" />
<g clip-path="url(#c16)">
<rect x="122.5" y="616.1" width="10.3" height="2.3" rx="1.1" fill="rgb(77,77,77)" filter="url(#bh)"/>
<rect x="137.6" y="615.6" width="11.8" height="2.7" rx="1.3" fill="rgb(0,0,0)" filter="url(#bh)"/>
<rect x="153.7" y="614.6" width="10.3" height="2.9" rx="1.4" fill="rgb(2,2,2)" filter="url(#bh)"/>
<rect x="137.8" y="619.6" width="11.4" height="3.8" rx="1.9" fill="rgb(177,177,177)" filter="url(#bh)"/>
<rect x="153.6" y="619.1" width="10.4" height="3.8" rx="1.9" fill="rgb(165,165,165)" filter="url(#bh)"/>
<rect x="123.0" y="619.4" width="9.4" height="3.3" rx="1.6" fill="rgb(190,190,190)" filter="url(#bh)"/>
</g>
<rect x="118.5" y="608.7" width="48.099999999999994" height="16.5" rx="0" fill="none" stroke="#8a8a8a" stroke-width="0.6" />
<text x="167.6" y="619.25" font-size="6.4" text-anchor="start" fill="#222" textLength="20.700000000000003" lengthAdjust="spacingAndGlyphs" >125kDa</text>
<text x="46" y="638.07" font-size="6.3" text-anchor="middle" fill="#222" >H3</text>
<clipPath id="c17"><rect x="60.3" y="628.4" width="48.7" height="12.600000000000023"/></clipPath>
<rect x="60.3" y="628.4" width="48.7" height="12.600000000000023" rx="0" fill="#f6f6f6" stroke="none" stroke-width="1" />
<g clip-path="url(#c17)">
</g>
<rect x="60.3" y="628.4" width="48.7" height="12.600000000000023" rx="0" fill="none" stroke="#8a8a8a" stroke-width="0.6" />
<clipPath id="c18"><rect x="118.5" y="627.8" width="48.099999999999994" height="13.0"/></clipPath>
<rect x="118.5" y="627.8" width="48.099999999999994" height="13.0" rx="0" fill="#ececec" stroke="none" stroke-width="1" />
<g clip-path="url(#c18)">
<rect x="122.5" y="632.9" width="11.9" height="3.8" rx="1.9" fill="rgb(90,90,90)" filter="url(#bh)"/>
<rect x="137.6" y="632.9" width="9.8" height="3.8" rx="1.9" fill="rgb(102,102,102)" filter="url(#bh)"/>
<rect x="152.6" y="632.9" width="10.9" height="3.8" rx="1.9" fill="rgb(102,102,102)" filter="url(#bh)"/>
</g>
<rect x="118.5" y="627.8" width="48.099999999999994" height="13.0" rx="0" fill="none" stroke="#8a8a8a" stroke-width="0.6" />
<text x="167.6" y="636.60" font-size="6.4" text-anchor="start" fill="#222" textLength="17.25" lengthAdjust="spacingAndGlyphs" >18kDa</text>
<path d="M61.5,529 L63.5,525.5 L64.5,529 Z" fill="#222"/>
<text x="275.5" y="462.53" font-size="6.2" text-anchor="middle" fill="#222" textLength="13.4" lengthAdjust="spacingAndGlyphs" >-ATP</text>
<line x1="268" y1="463.8" x2="282.5" y2="463.8" stroke="#555" stroke-width="0.6" />
<text x="302.3" y="462.43" font-size="6.2" text-anchor="start" fill="#222">SF3B1<tspan font-size="3.4" dy="-2.36">WT</tspan></text>
<line x1="285.5" y1="463.8" x2="340" y2="463.8" stroke="#555" stroke-width="0.6" />
<text x="359.9" y="462.43" font-size="6.2" text-anchor="start" fill="#222">SF3B1<tspan font-size="3.4" dy="-2.36">K700E</tspan></text>
<line x1="344.2" y1="463.8" x2="400" y2="463.8" stroke="#555" stroke-width="0.6" />
<text x="401.9" y="462.53" font-size="6.2" text-anchor="start" fill="#222" textLength="29.6" lengthAdjust="spacingAndGlyphs" >PlaB(1&#956;M)</text>
<line x1="402" y1="463.8" x2="412" y2="463.8" stroke="#555" stroke-width="0.6" />
<text x="244.6" y="470.67" font-size="5.2" text-anchor="start" fill="#222" textLength="23.1" lengthAdjust="spacingAndGlyphs" >Time(min)</text>
<text x="274.5" y="470.82" font-size="5.6" text-anchor="middle" fill="#222" >40</text>
<text x="284" y="470.82" font-size="5.6" text-anchor="middle" fill="#222" >0</text>
<text x="295.5" y="470.82" font-size="5.6" text-anchor="middle" fill="#222" >5</text>
<text x="305.5" y="470.82" font-size="5.6" text-anchor="middle" fill="#222" >10</text>
<text x="315.6" y="470.82" font-size="5.6" text-anchor="middle" fill="#222" >15</text>
<text x="325.8" y="470.82" font-size="5.6" text-anchor="middle" fill="#222" >20</text>
<text x="337" y="470.82" font-size="5.6" text-anchor="middle" fill="#222" >40</text>
<text x="347" y="470.82" font-size="5.6" text-anchor="middle" fill="#222" >0</text>
<text x="356.4" y="470.82" font-size="5.6" text-anchor="middle" fill="#222" >5</text>
<text x="366.3" y="470.82" font-size="5.6" text-anchor="middle" fill="#222" >10</text>
<text x="378" y="470.82" font-size="5.6" text-anchor="middle" fill="#222" >15</text>
<text x="388.5" y="470.82" font-size="5.6" text-anchor="middle" fill="#222" >20</text>
<text x="397.3" y="470.82" font-size="5.6" text-anchor="middle" fill="#222" >40</text>
<text x="409" y="470.82" font-size="5.6" text-anchor="middle" fill="#222" >40</text>
<rect x="271" y="471.5" width="149" height="94" rx="0" fill="#f7f7f7" stroke="none" stroke-width="1" />
<g filter="url(#bg)">
<rect x="275.9" y="470" width="5.2" height="39" rx="2.2" fill="rgb(41,41,41)"/>
<rect x="275.6" y="507" width="5.7" height="36" rx="2.2" fill="rgb(113,113,113)"/>
<rect x="275.9" y="541" width="5.2" height="10" rx="2.2" fill="rgb(198,198,198)"/>
<rect x="284.4" y="470" width="4.2" height="31" rx="2.1" fill="rgb(17,17,17)"/>
<rect x="283.9" y="499" width="5.2" height="22" rx="2.2" fill="rgb(12,12,12)"/>
<rect x="282.4" y="519" width="8.2" height="38" rx="2.2" fill="rgb(5,5,5)"/>
<rect x="284.4" y="555" width="4.2" height="12" rx="2.1" fill="rgb(29,29,29)"/>
<rect x="294.7" y="470" width="5.2" height="36" rx="2.2" fill="rgb(232,232,232)"/>
<rect x="294.7" y="504" width="5.2" height="17" rx="2.2" fill="rgb(222,222,222)"/>
<rect x="293.9" y="522" width="6.7" height="20" rx="2.2" fill="rgb(24,24,24)"/>
<rect x="294.7" y="540" width="5.2" height="13" rx="2.2" fill="rgb(174,174,174)"/>
<rect x="307.9" y="470" width="2.7" height="51" rx="1.35" fill="rgb(193,193,193)"/>
<rect x="306.4" y="524" width="5.7" height="19" rx="2.2" fill="rgb(48,48,48)"/>
<rect x="306.7" y="541" width="5.2" height="12" rx="2.2" fill="rgb(186,186,186)"/>
<rect x="315.9" y="470" width="5.2" height="37" rx="2.2" fill="rgb(126,126,126)"/>
<rect x="315.9" y="505" width="5.2" height="18" rx="2.2" fill="rgb(186,186,186)"/>
<rect x="315.4" y="524" width="6.2" height="22" rx="2.2" fill="rgb(126,126,126)"/>
<rect x="315.9" y="544" width="5.2" height="9" rx="2.2" fill="rgb(210,210,210)"/>
<rect x="325.7" y="470" width="5.2" height="41" rx="2.2" fill="rgb(138,138,138)"/>
<rect x="325.7" y="509" width="5.2" height="14" rx="2.2" fill="rgb(210,210,210)"/>
<rect x="325.7" y="524" width="5.2" height="17" rx="2.2" fill="rgb(210,210,210)"/>
<rect x="335.6" y="470" width="5.7" height="29" rx="2.2" fill="rgb(53,53,53)"/>
<rect x="335.4" y="497" width="6.2" height="12" rx="2.2" fill="rgb(12,12,12)"/>
<rect x="335.6" y="507" width="5.7" height="14" rx="2.2" fill="rgb(150,150,150)"/>
<rect x="335.9" y="519" width="5.2" height="22" rx="2.2" fill="rgb(174,174,174)"/>
<rect x="347.1" y="498" width="5.7" height="18" rx="2.2" fill="rgb(162,162,162)"/>
<rect x="346.6" y="514" width="6.7" height="29" rx="2.2" fill="rgb(24,24,24)"/>
<rect x="347.4" y="541" width="5.2" height="16" rx="2.2" fill="rgb(174,174,174)"/>
<rect x="356.6" y="470" width="5.2" height="29" rx="2.2" fill="rgb(210,210,210)"/>
<rect x="356.3" y="497" width="5.7" height="20" rx="2.2" fill="rgb(138,138,138)"/>
<rect x="356.1" y="519" width="6.2" height="18" rx="2.2" fill="rgb(48,48,48)"/>
<rect x="356.6" y="535" width="5.2" height="18" rx="2.2" fill="rgb(174,174,174)"/>
<rect x="365.9" y="470" width="5.2" height="51" rx="2.2" fill="rgb(186,186,186)"/>
<rect x="365.6" y="524" width="5.7" height="19" rx="2.2" fill="rgb(101,101,101)"/>
<rect x="365.9" y="541" width="5.2" height="12" rx="2.2" fill="rgb(198,198,198)"/>
<rect x="376.3" y="470" width="5.7" height="53" rx="2.2" fill="rgb(113,113,113)"/>
<rect x="375.8" y="523" width="6.7" height="24" rx="2.2" fill="rgb(34,34,34)"/>
<rect x="376.6" y="545" width="5.2" height="22" rx="2.2" fill="rgb(150,150,150)"/>
<rect x="387.1" y="470" width="5.7" height="30" rx="2.2" fill="rgb(96,96,96)"/>
<rect x="386.9" y="498" width="6.2" height="12" rx="2.2" fill="rgb(53,53,53)"/>
<rect x="387.1" y="508" width="5.7" height="15" rx="2.2" fill="rgb(138,138,138)"/>
<rect x="386.6" y="523" width="6.7" height="24" rx="2.2" fill="rgb(34,34,34)"/>
<rect x="387.4" y="545" width="5.2" height="22" rx="2.2" fill="rgb(162,162,162)"/>
<rect x="397.4" y="470" width="5.2" height="29" rx="2.2" fill="rgb(174,174,174)"/>
<rect x="397.1" y="497" width="5.7" height="13" rx="2.2" fill="rgb(126,126,126)"/>
<rect x="397.4" y="508" width="5.2" height="15" rx="2.2" fill="rgb(174,174,174)"/>
<rect x="396.9" y="523" width="6.2" height="24" rx="2.2" fill="rgb(106,106,106)"/>
<rect x="397.4" y="545" width="5.2" height="14" rx="2.2" fill="rgb(198,198,198)"/>
<rect x="407.4" y="470" width="5.2" height="49" rx="2.2" fill="rgb(198,198,198)"/>
<rect x="406.4" y="519" width="7.2" height="30" rx="2.2" fill="rgb(24,24,24)"/>
<rect x="407.4" y="547" width="5.2" height="20" rx="2.2" fill="rgb(150,150,150)"/>
</g>
<path d="M276.3,499.8h.9v.9h-.9zM277.6,480.6h.9v.9h-.9zM279.8,481.8h.9v.9h-.9zM277.8,479.5h.9v.9h-.9zM283.1,504.9h.9v.9h-.9zM274.9,483.9h.9v.9h-.9zM279.0,497.6h.9v.9h-.9zM277.8,481.5h.9v.9h-.9zM276.4,499.1h.9v.9h-.9zM280.6,505.1h.9v.9h-.9zM278.7,500.6h.9v.9h-.9zM280.7,501.5h.9v.9h-.9zM279.6,485.3h.9v.9h-.9zM278.9,483.9h.9v.9h-.9zM276.7,477.0h.9v.9h-.9zM280.3,505.6h.9v.9h-.9zM278.2,481.1h.9v.9h-.9zM277.5,474.3h.9v.9h-.9zM279.4,488.7h.9v.9h-.9zM278.8,480.1h.9v.9h-.9zM277.6,479.7h.9v.9h-.9zM278.1,474.0h.9v.9h-.9zM281.2,477.3h.9v.9h-.9zM279.5,503.9h.9v.9h-.9zM278.3,480.9h.9v.9h-.9zM279.6,539.5h.9v.9h-.9zM278.7,521.3h.9v.9h-.9zM279.8,522.8h.9v.9h-.9zM279.5,521.9h.9v.9h-.9zM276.5,532.2h.9v.9h-.9zM280.5,523.4h.9v.9h-.9zM278.5,522.7h.9v.9h-.9zM279.4,511.0h.9v.9h-.9zM278.8,512.0h.9v.9h-.9zM277.9,539.0h.9v.9h-.9zM279.4,540.0h.9v.9h-.9zM279.3,510.7h.9v.9h-.9zM279.4,520.4h.9v.9h-.9zM276.4,532.0h.9v.9h-.9zM279.5,518.8h.9v.9h-.9zM279.1,521.0h.9v.9h-.9zM278.0,528.9h.9v.9h-.9zM280.0,529.2h.9v.9h-.9zM280.7,535.7h.9v.9h-.9zM283.0,529.0h.9v.9h-.9zM280.0,545.4h.9v.9h-.9zM280.4,545.2h.9v.9h-.9zM277.4,546.0h.9v.9h-.9zM280.3,548.9h.9v.9h-.9zM277.9,544.3h.9v.9h-.9zM280.4,545.3h.9v.9h-.9zM288.2,558.8h.9v.9h-.9zM296.2,511.1h.9v.9h-.9zM298.4,547.1h.9v.9h-.9zM293.8,545.3h.9v.9h-.9zM301.3,548.1h.9v.9h-.9zM298.3,547.3h.9v.9h-.9zM297.0,543.4h.9v.9h-.9zM297.3,542.4h.9v.9h-.9zM296.1,542.4h.9v.9h-.9zM310.0,498.7h.9v.9h-.9zM310.0,510.6h.9v.9h-.9zM310.7,513.0h.9v.9h-.9zM308.6,508.9h.9v.9h-.9zM310.5,503.6h.9v.9h-.9zM310.3,479.0h.9v.9h-.9zM308.2,491.0h.9v.9h-.9zM309.9,476.7h.9v.9h-.9zM308.8,476.1h.9v.9h-.9zM310.2,489.9h.9v.9h-.9zM311.4,484.0h.9v.9h-.9zM310.8,479.8h.9v.9h-.9zM309.7,510.9h.9v.9h-.9zM311.4,506.4h.9v.9h-.9zM308.9,493.2h.9v.9h-.9zM309.7,477.6h.9v.9h-.9zM308.9,502.1h.9v.9h-.9zM307.9,499.8h.9v.9h-.9zM310.4,472.3h.9v.9h-.9zM309.2,484.1h.9v.9h-.9zM309.6,473.8h.9v.9h-.9zM309.6,518.4h.9v.9h-.9zM312.0,478.6h.9v.9h-.9zM309.9,485.0h.9v.9h-.9zM309.8,484.0h.9v.9h-.9zM311.4,539.1h.9v.9h-.9zM312.2,529.1h.9v.9h-.9zM307.1,532.6h.9v.9h-.9zM309.2,537.9h.9v.9h-.9zM309.6,531.5h.9v.9h-.9zM308.4,535.4h.9v.9h-.9zM309.5,527.6h.9v.9h-.9zM306.7,530.2h.9v.9h-.9zM312.6,534.1h.9v.9h-.9zM306.5,533.7h.9v.9h-.9zM307.0,532.6h.9v.9h-.9zM307.8,550.7h.9v.9h-.9zM311.8,551.0h.9v.9h-.9zM307.2,550.1h.9v.9h-.9zM310.0,544.4h.9v.9h-.9zM309.9,549.9h.9v.9h-.9zM311.5,544.1h.9v.9h-.9zM311.6,543.3h.9v.9h-.9zM307.6,548.6h.9v.9h-.9zM312.2,546.4h.9v.9h-.9zM307.2,544.5h.9v.9h-.9zM318.2,490.9h.9v.9h-.9zM317.7,484.3h.9v.9h-.9zM318.3,483.4h.9v.9h-.9zM317.8,492.4h.9v.9h-.9zM321.3,488.6h.9v.9h-.9zM318.8,491.9h.9v.9h-.9zM318.8,473.9h.9v.9h-.9zM321.0,476.6h.9v.9h-.9zM318.4,472.5h.9v.9h-.9zM318.6,473.8h.9v.9h-.9zM319.0,485.2h.9v.9h-.9zM319.7,482.2h.9v.9h-.9zM317.9,491.0h.9v.9h-.9zM318.3,478.6h.9v.9h-.9zM317.7,500.7h.9v.9h-.9zM314.7,488.4h.9v.9h-.9zM319.2,503.6h.9v.9h-.9zM314.5,486.0h.9v.9h-.9zM320.4,519.3h.9v.9h-.9zM316.8,519.3h.9v.9h-.9zM316.0,507.5h.9v.9h-.9zM321.9,515.7h.9v.9h-.9zM317.9,518.2h.9v.9h-.9zM317.8,509.9h.9v.9h-.9zM318.6,508.4h.9v.9h-.9zM318.2,512.8h.9v.9h-.9zM318.9,519.1h.9v.9h-.9zM317.1,507.2h.9v.9h-.9zM320.5,509.3h.9v.9h-.9zM317.6,514.8h.9v.9h-.9zM318.8,539.1h.9v.9h-.9zM319.8,538.2h.9v.9h-.9zM316.0,535.1h.9v.9h-.9zM323.4,537.4h.9v.9h-.9zM315.4,535.8h.9v.9h-.9zM323.5,537.0h.9v.9h-.9zM318.7,529.4h.9v.9h-.9zM317.7,532.1h.9v.9h-.9zM319.1,529.8h.9v.9h-.9zM317.9,537.5h.9v.9h-.9zM317.2,539.3h.9v.9h-.9zM320.9,539.7h.9v.9h-.9zM313.5,532.7h.9v.9h-.9zM323.3,548.0h.9v.9h-.9zM316.7,547.0h.9v.9h-.9zM317.1,546.6h.9v.9h-.9zM318.2,549.0h.9v.9h-.9zM326.4,494.0h.9v.9h-.9zM329.8,492.0h.9v.9h-.9zM329.9,488.7h.9v.9h-.9zM333.7,484.3h.9v.9h-.9zM330.0,497.8h.9v.9h-.9zM326.6,483.2h.9v.9h-.9zM327.4,487.5h.9v.9h-.9zM330.0,488.8h.9v.9h-.9zM327.5,480.6h.9v.9h-.9zM329.8,505.2h.9v.9h-.9zM328.5,490.9h.9v.9h-.9zM329.5,496.7h.9v.9h-.9zM329.3,500.0h.9v.9h-.9zM326.9,489.1h.9v.9h-.9zM330.1,488.8h.9v.9h-.9zM326.6,497.3h.9v.9h-.9zM330.1,482.7h.9v.9h-.9zM329.8,479.2h.9v.9h-.9zM330.5,489.1h.9v.9h-.9zM328.3,512.4h.9v.9h-.9zM327.8,517.0h.9v.9h-.9zM325.0,518.4h.9v.9h-.9zM329.0,512.7h.9v.9h-.9zM327.6,511.4h.9v.9h-.9zM326.0,512.3h.9v.9h-.9zM326.4,519.1h.9v.9h-.9zM329.2,515.7h.9v.9h-.9zM329.2,526.5h.9v.9h-.9zM326.2,532.2h.9v.9h-.9zM326.6,533.7h.9v.9h-.9zM327.6,533.8h.9v.9h-.9zM332.2,534.2h.9v.9h-.9zM326.2,538.1h.9v.9h-.9zM330.3,534.3h.9v.9h-.9zM327.5,533.6h.9v.9h-.9zM327.6,535.5h.9v.9h-.9zM330.8,536.4h.9v.9h-.9zM324.9,538.1h.9v.9h-.9zM327.0,536.1h.9v.9h-.9zM339.0,482.0h.9v.9h-.9zM337.1,495.3h.9v.9h-.9zM342.8,496.8h.9v.9h-.9zM343.8,490.7h.9v.9h-.9zM336.9,476.4h.9v.9h-.9zM337.6,494.4h.9v.9h-.9zM335.7,491.6h.9v.9h-.9zM336.6,474.2h.9v.9h-.9zM340.4,492.8h.9v.9h-.9zM340.1,487.9h.9v.9h-.9zM340.6,476.2h.9v.9h-.9zM342.0,476.4h.9v.9h-.9zM339.5,485.4h.9v.9h-.9zM333.4,476.6h.9v.9h-.9zM339.7,475.8h.9v.9h-.9zM341.1,512.9h.9v.9h-.9zM339.6,518.6h.9v.9h-.9zM338.1,517.3h.9v.9h-.9zM342.1,512.0h.9v.9h-.9zM338.4,537.0h.9v.9h-.9zM341.6,532.5h.9v.9h-.9zM339.0,523.8h.9v.9h-.9zM339.6,524.9h.9v.9h-.9zM334.4,521.2h.9v.9h-.9zM338.4,536.1h.9v.9h-.9zM337.7,522.3h.9v.9h-.9zM335.8,525.5h.9v.9h-.9zM340.2,521.6h.9v.9h-.9zM339.2,538.8h.9v.9h-.9zM340.1,538.7h.9v.9h-.9zM334.8,525.4h.9v.9h-.9zM350.4,503.5h.9v.9h-.9zM348.1,505.0h.9v.9h-.9zM351.3,507.2h.9v.9h-.9zM354.3,500.4h.9v.9h-.9zM348.5,501.6h.9v.9h-.9zM350.2,502.1h.9v.9h-.9zM355.4,504.5h.9v.9h-.9zM352.3,500.7h.9v.9h-.9zM350.9,509.2h.9v.9h-.9zM350.1,506.3h.9v.9h-.9zM348.4,502.2h.9v.9h-.9zM352.4,546.3h.9v.9h-.9zM352.4,543.6h.9v.9h-.9zM351.9,553.0h.9v.9h-.9zM353.9,548.7h.9v.9h-.9zM349.6,552.6h.9v.9h-.9zM351.0,550.1h.9v.9h-.9zM350.2,554.2h.9v.9h-.9zM347.7,553.1h.9v.9h-.9zM352.4,546.2h.9v.9h-.9zM356.6,488.0h.9v.9h-.9zM355.9,490.8h.9v.9h-.9zM359.3,492.2h.9v.9h-.9zM359.5,495.7h.9v.9h-.9zM359.8,482.4h.9v.9h-.9zM361.1,480.3h.9v.9h-.9zM357.2,485.2h.9v.9h-.9zM356.5,486.1h.9v.9h-.9zM358.8,485.1h.9v.9h-.9zM359.3,473.9h.9v.9h-.9zM356.9,473.5h.9v.9h-.9zM356.8,491.2h.9v.9h-.9zM360.1,474.7h.9v.9h-.9zM357.7,472.7h.9v.9h-.9zM360.4,480.5h.9v.9h-.9zM358.9,500.1h.9v.9h-.9zM358.9,507.9h.9v.9h-.9zM357.9,508.5h.9v.9h-.9zM358.6,499.4h.9v.9h-.9zM358.2,513.5h.9v.9h-.9zM360.8,508.9h.9v.9h-.9zM356.3,502.7h.9v.9h-.9zM358.4,500.9h.9v.9h-.9zM359.1,508.6h.9v.9h-.9zM358.8,505.6h.9v.9h-.9zM360.6,504.0h.9v.9h-.9zM357.8,534.7h.9v.9h-.9zM360.6,523.4h.9v.9h-.9zM360.7,528.2h.9v.9h-.9zM356.7,528.8h.9v.9h-.9zM356.0,527.4h.9v.9h-.9zM363.7,521.6h.9v.9h-.9zM358.7,534.1h.9v.9h-.9zM360.1,526.0h.9v.9h-.9zM360.3,534.0h.9v.9h-.9zM358.4,530.0h.9v.9h-.9zM360.2,544.3h.9v.9h-.9zM361.3,540.7h.9v.9h-.9zM359.5,544.3h.9v.9h-.9zM360.0,544.4h.9v.9h-.9zM359.2,545.2h.9v.9h-.9zM359.0,545.9h.9v.9h-.9zM369.5,493.2h.9v.9h-.9zM369.9,474.7h.9v.9h-.9zM368.2,514.0h.9v.9h-.9zM371.9,517.7h.9v.9h-.9zM365.8,478.2h.9v.9h-.9zM369.1,505.0h.9v.9h-.9zM369.9,498.4h.9v.9h-.9zM365.5,481.3h.9v.9h-.9zM367.1,491.8h.9v.9h-.9zM369.0,489.3h.9v.9h-.9zM368.4,500.1h.9v.9h-.9zM366.9,495.9h.9v.9h-.9zM369.0,495.0h.9v.9h-.9zM367.9,512.5h.9v.9h-.9zM371.7,510.7h.9v.9h-.9zM367.3,513.8h.9v.9h-.9zM365.4,501.0h.9v.9h-.9zM366.7,488.6h.9v.9h-.9zM369.3,497.0h.9v.9h-.9zM366.2,492.8h.9v.9h-.9zM367.9,511.4h.9v.9h-.9zM367.1,482.9h.9v.9h-.9zM368.8,482.1h.9v.9h-.9zM369.2,507.2h.9v.9h-.9zM369.0,485.7h.9v.9h-.9zM368.7,502.9h.9v.9h-.9zM373.2,534.7h.9v.9h-.9zM370.4,540.0h.9v.9h-.9zM365.2,526.1h.9v.9h-.9zM369.2,530.3h.9v.9h-.9zM368.7,540.4h.9v.9h-.9zM368.5,533.2h.9v.9h-.9zM367.5,530.9h.9v.9h-.9zM372.0,536.6h.9v.9h-.9zM370.9,545.0h.9v.9h-.9zM366.8,549.5h.9v.9h-.9zM365.8,543.3h.9v.9h-.9zM369.6,547.5h.9v.9h-.9zM369.2,543.1h.9v.9h-.9zM379.9,482.6h.9v.9h-.9zM378.5,477.1h.9v.9h-.9zM378.1,472.8h.9v.9h-.9zM380.6,511.5h.9v.9h-.9zM379.1,474.1h.9v.9h-.9zM378.1,488.0h.9v.9h-.9zM374.1,479.0h.9v.9h-.9zM378.5,498.8h.9v.9h-.9zM380.9,477.1h.9v.9h-.9zM377.5,478.9h.9v.9h-.9zM377.3,508.6h.9v.9h-.9zM378.5,507.7h.9v.9h-.9zM379.1,487.7h.9v.9h-.9zM381.2,493.4h.9v.9h-.9zM376.1,486.8h.9v.9h-.9zM380.2,487.9h.9v.9h-.9zM381.5,490.0h.9v.9h-.9zM377.6,496.4h.9v.9h-.9zM379.5,495.9h.9v.9h-.9zM377.0,505.2h.9v.9h-.9zM381.1,484.1h.9v.9h-.9zM377.8,514.4h.9v.9h-.9zM378.2,483.5h.9v.9h-.9zM378.8,482.9h.9v.9h-.9zM381.8,504.7h.9v.9h-.9zM386.0,528.8h.9v.9h-.9zM376.3,536.6h.9v.9h-.9zM378.9,541.7h.9v.9h-.9zM377.9,533.0h.9v.9h-.9zM378.4,540.6h.9v.9h-.9zM382.1,530.3h.9v.9h-.9zM379.3,541.4h.9v.9h-.9zM374.6,526.6h.9v.9h-.9zM376.4,525.2h.9v.9h-.9zM380.9,544.1h.9v.9h-.9zM379.3,528.9h.9v.9h-.9zM376.9,532.4h.9v.9h-.9zM376.1,528.3h.9v.9h-.9zM376.8,527.3h.9v.9h-.9zM376.2,547.2h.9v.9h-.9zM380.5,552.1h.9v.9h-.9zM380.9,552.5h.9v.9h-.9zM378.1,562.1h.9v.9h-.9zM378.1,552.1h.9v.9h-.9zM382.0,554.9h.9v.9h-.9zM379.2,555.9h.9v.9h-.9zM380.3,560.5h.9v.9h-.9zM378.4,549.2h.9v.9h-.9zM378.9,554.1h.9v.9h-.9zM379.7,552.9h.9v.9h-.9zM392.3,477.0h.9v.9h-.9zM390.8,475.5h.9v.9h-.9zM392.4,489.1h.9v.9h-.9zM391.1,491.6h.9v.9h-.9zM392.1,494.8h.9v.9h-.9zM389.6,474.3h.9v.9h-.9zM390.1,491.8h.9v.9h-.9zM388.6,495.0h.9v.9h-.9zM389.5,485.8h.9v.9h-.9zM390.3,493.1h.9v.9h-.9zM391.0,489.0h.9v.9h-.9zM388.5,480.3h.9v.9h-.9zM392.2,492.1h.9v.9h-.9zM388.7,491.2h.9v.9h-.9zM390.5,489.4h.9v.9h-.9zM385.8,496.0h.9v.9h-.9zM390.3,504.2h.9v.9h-.9zM392.9,501.8h.9v.9h-.9zM388.3,500.9h.9v.9h-.9zM386.5,505.7h.9v.9h-.9zM391.7,501.8h.9v.9h-.9zM388.3,505.2h.9v.9h-.9zM393.3,505.2h.9v.9h-.9zM392.5,506.5h.9v.9h-.9zM386.2,503.0h.9v.9h-.9zM392.2,516.9h.9v.9h-.9zM391.0,511.1h.9v.9h-.9zM389.8,541.7h.9v.9h-.9zM390.5,543.3h.9v.9h-.9zM388.7,537.6h.9v.9h-.9zM392.0,538.2h.9v.9h-.9zM390.2,527.5h.9v.9h-.9zM386.4,527.0h.9v.9h-.9zM388.7,530.3h.9v.9h-.9zM392.4,527.5h.9v.9h-.9zM387.7,526.4h.9v.9h-.9zM387.4,531.9h.9v.9h-.9zM392.3,526.7h.9v.9h-.9zM389.6,543.5h.9v.9h-.9zM393.2,529.6h.9v.9h-.9zM384.9,538.2h.9v.9h-.9zM391.1,542.8h.9v.9h-.9zM391.2,530.4h.9v.9h-.9zM388.7,559.1h.9v.9h-.9zM390.4,561.3h.9v.9h-.9zM392.0,547.4h.9v.9h-.9zM390.9,549.1h.9v.9h-.9zM389.9,557.8h.9v.9h-.9zM393.2,548.0h.9v.9h-.9zM388.6,553.7h.9v.9h-.9zM387.0,551.3h.9v.9h-.9zM390.7,561.2h.9v.9h-.9zM389.4,555.1h.9v.9h-.9zM393.0,547.7h.9v.9h-.9zM405.4,487.2h.9v.9h-.9zM399.0,477.4h.9v.9h-.9zM396.3,495.2h.9v.9h-.9zM397.6,483.9h.9v.9h-.9zM399.1,479.4h.9v.9h-.9zM400.1,491.6h.9v.9h-.9zM399.0,492.3h.9v.9h-.9zM400.5,494.4h.9v.9h-.9zM403.1,476.4h.9v.9h-.9zM400.8,494.0h.9v.9h-.9zM398.2,496.5h.9v.9h-.9zM398.4,480.9h.9v.9h-.9zM398.8,489.6h.9v.9h-.9zM401.6,496.1h.9v.9h-.9zM397.3,475.2h.9v.9h-.9zM398.8,475.1h.9v.9h-.9zM401.0,507.6h.9v.9h-.9zM397.0,507.4h.9v.9h-.9zM401.2,503.4h.9v.9h-.9zM398.5,507.9h.9v.9h-.9zM403.1,505.2h.9v.9h-.9zM403.0,502.4h.9v.9h-.9zM403.8,507.7h.9v.9h-.9zM401.3,499.9h.9v.9h-.9zM399.3,511.9h.9v.9h-.9zM397.0,520.5h.9v.9h-.9zM401.0,516.3h.9v.9h-.9zM400.3,519.8h.9v.9h-.9zM396.9,514.9h.9v.9h-.9zM395.7,536.8h.9v.9h-.9zM400.0,542.5h.9v.9h-.9zM396.5,537.5h.9v.9h-.9zM398.3,538.4h.9v.9h-.9zM405.6,533.3h.9v.9h-.9zM399.2,541.4h.9v.9h-.9zM397.6,529.0h.9v.9h-.9zM400.6,536.5h.9v.9h-.9zM404.2,553.3h.9v.9h-.9zM398.3,550.1h.9v.9h-.9zM402.4,550.3h.9v.9h-.9zM401.1,553.0h.9v.9h-.9zM400.3,548.9h.9v.9h-.9zM395.8,551.2h.9v.9h-.9zM401.3,553.6h.9v.9h-.9zM409.7,513.6h.9v.9h-.9zM409.3,474.7h.9v.9h-.9zM410.0,493.2h.9v.9h-.9zM412.9,512.0h.9v.9h-.9zM413.4,484.8h.9v.9h-.9zM406.9,511.3h.9v.9h-.9zM411.7,492.0h.9v.9h-.9zM408.8,504.0h.9v.9h-.9zM409.8,473.8h.9v.9h-.9zM408.5,485.6h.9v.9h-.9zM406.5,506.6h.9v.9h-.9zM407.2,489.7h.9v.9h-.9zM406.4,495.7h.9v.9h-.9zM408.9,488.6h.9v.9h-.9zM411.0,505.6h.9v.9h-.9zM407.9,512.1h.9v.9h-.9zM408.0,508.5h.9v.9h-.9zM411.9,497.9h.9v.9h-.9zM410.2,488.7h.9v.9h-.9zM414.1,501.9h.9v.9h-.9zM409.6,493.3h.9v.9h-.9zM410.9,492.3h.9v.9h-.9zM407.9,502.4h.9v.9h-.9zM409.7,482.5h.9v.9h-.9zM410.1,482.1h.9v.9h-.9zM408.4,491.4h.9v.9h-.9zM409.0,500.0h.9v.9h-.9zM412.6,506.1h.9v.9h-.9zM408.5,486.6h.9v.9h-.9zM412.5,506.7h.9v.9h-.9zM410.4,514.4h.9v.9h-.9zM411.9,482.9h.9v.9h-.9zM409.1,550.8h.9v.9h-.9zM410.8,555.8h.9v.9h-.9zM411.3,551.6h.9v.9h-.9zM412.6,555.5h.9v.9h-.9zM410.1,555.6h.9v.9h-.9zM409.6,551.1h.9v.9h-.9zM410.7,550.1h.9v.9h-.9zM409.6,552.5h.9v.9h-.9z" fill="#000" opacity="0.2"/>
<path d="M276.3,504.3h.9v.9h-.9zM281.0,503.5h.9v.9h-.9zM279.7,484.6h.9v.9h-.9zM276.9,472.3h.9v.9h-.9zM276.2,491.1h.9v.9h-.9zM282.1,478.2h.9v.9h-.9zM272.6,490.7h.9v.9h-.9zM275.6,487.9h.9v.9h-.9zM277.7,499.6h.9v.9h-.9zM275.5,488.8h.9v.9h-.9zM281.0,489.5h.9v.9h-.9zM279.1,494.1h.9v.9h-.9zM281.3,479.9h.9v.9h-.9zM278.0,478.8h.9v.9h-.9zM278.8,472.0h.9v.9h-.9zM277.8,487.1h.9v.9h-.9zM277.1,506.4h.9v.9h-.9zM280.7,492.7h.9v.9h-.9zM277.5,493.4h.9v.9h-.9zM278.1,475.8h.9v.9h-.9zM280.9,476.7h.9v.9h-.9zM279.8,543.3h.9v.9h-.9zM276.6,547.0h.9v.9h-.9zM278.6,547.6h.9v.9h-.9zM278.4,545.8h.9v.9h-.9zM280.7,546.8h.9v.9h-.9zM283.4,496.1h.9v.9h-.9zM282.8,498.8h.9v.9h-.9zM286.8,475.7h.9v.9h-.9zM286.3,492.4h.9v.9h-.9zM287.8,487.4h.9v.9h-.9zM285.7,492.8h.9v.9h-.9zM290.9,480.1h.9v.9h-.9zM285.1,474.1h.9v.9h-.9zM285.0,497.0h.9v.9h-.9zM284.8,478.6h.9v.9h-.9zM286.8,487.9h.9v.9h-.9zM286.3,473.8h.9v.9h-.9zM290.3,474.1h.9v.9h-.9zM285.9,475.7h.9v.9h-.9zM285.0,497.8h.9v.9h-.9zM284.9,481.1h.9v.9h-.9zM285.3,474.6h.9v.9h-.9zM287.4,485.7h.9v.9h-.9zM285.8,492.8h.9v.9h-.9zM284.9,496.8h.9v.9h-.9zM285.8,485.5h.9v.9h-.9zM284.7,514.1h.9v.9h-.9zM284.4,503.2h.9v.9h-.9zM286.4,559.4h.9v.9h-.9zM283.8,561.8h.9v.9h-.9zM284.4,562.0h.9v.9h-.9zM285.9,557.3h.9v.9h-.9zM283.5,564.0h.9v.9h-.9zM285.4,564.9h.9v.9h-.9zM285.8,563.0h.9v.9h-.9zM289.8,562.4h.9v.9h-.9zM285.3,561.7h.9v.9h-.9zM286.2,557.0h.9v.9h-.9zM286.1,560.9h.9v.9h-.9zM299.1,484.0h.9v.9h-.9zM295.0,494.7h.9v.9h-.9zM294.4,486.8h.9v.9h-.9zM295.4,500.6h.9v.9h-.9zM302.1,494.3h.9v.9h-.9zM298.0,482.7h.9v.9h-.9zM298.5,488.7h.9v.9h-.9zM297.9,486.0h.9v.9h-.9zM300.1,501.7h.9v.9h-.9zM295.9,496.2h.9v.9h-.9zM294.7,486.7h.9v.9h-.9zM297.8,474.3h.9v.9h-.9zM294.9,480.6h.9v.9h-.9zM299.9,474.6h.9v.9h-.9zM297.6,480.0h.9v.9h-.9zM297.0,488.2h.9v.9h-.9zM296.1,493.8h.9v.9h-.9zM298.4,503.4h.9v.9h-.9zM299.5,476.2h.9v.9h-.9zM295.6,476.9h.9v.9h-.9zM297.8,493.9h.9v.9h-.9zM297.0,487.7h.9v.9h-.9zM295.3,482.4h.9v.9h-.9zM295.9,493.5h.9v.9h-.9zM294.6,481.5h.9v.9h-.9zM297.8,475.8h.9v.9h-.9zM296.6,496.3h.9v.9h-.9zM296.4,483.0h.9v.9h-.9zM294.3,502.7h.9v.9h-.9zM299.2,472.6h.9v.9h-.9zM294.7,488.4h.9v.9h-.9zM298.0,496.1h.9v.9h-.9zM297.7,487.7h.9v.9h-.9zM295.0,512.8h.9v.9h-.9zM299.9,512.4h.9v.9h-.9zM295.2,512.4h.9v.9h-.9zM296.9,506.3h.9v.9h-.9zM296.9,513.8h.9v.9h-.9zM297.2,509.5h.9v.9h-.9zM299.3,514.4h.9v.9h-.9zM295.6,512.1h.9v.9h-.9zM296.8,511.7h.9v.9h-.9zM298.1,517.6h.9v.9h-.9zM298.1,518.3h.9v.9h-.9zM295.1,514.1h.9v.9h-.9zM293.5,510.2h.9v.9h-.9zM297.7,512.3h.9v.9h-.9zM294.5,512.5h.9v.9h-.9zM296.8,514.3h.9v.9h-.9zM295.6,512.4h.9v.9h-.9zM298.1,518.6h.9v.9h-.9zM300.0,527.0h.9v.9h-.9zM300.5,538.5h.9v.9h-.9zM299.3,529.3h.9v.9h-.9zM299.1,532.5h.9v.9h-.9zM294.2,531.4h.9v.9h-.9zM296.4,531.0h.9v.9h-.9zM299.5,527.0h.9v.9h-.9zM296.1,535.7h.9v.9h-.9zM296.7,528.2h.9v.9h-.9zM299.0,529.4h.9v.9h-.9zM297.2,532.6h.9v.9h-.9zM300.1,525.5h.9v.9h-.9zM296.1,533.1h.9v.9h-.9zM299.5,537.2h.9v.9h-.9zM294.3,528.7h.9v.9h-.9zM300.0,535.8h.9v.9h-.9zM299.4,530.5h.9v.9h-.9zM299.7,525.1h.9v.9h-.9zM296.8,524.9h.9v.9h-.9zM296.5,528.8h.9v.9h-.9zM299.9,536.4h.9v.9h-.9zM295.3,536.4h.9v.9h-.9zM296.5,531.9h.9v.9h-.9zM301.1,530.9h.9v.9h-.9zM296.6,532.4h.9v.9h-.9zM298.0,525.1h.9v.9h-.9zM299.1,527.7h.9v.9h-.9zM301.7,529.1h.9v.9h-.9zM298.3,531.6h.9v.9h-.9zM300.5,543.3h.9v.9h-.9zM297.7,548.4h.9v.9h-.9zM308.7,516.1h.9v.9h-.9zM308.2,502.2h.9v.9h-.9zM308.8,482.3h.9v.9h-.9zM311.3,503.0h.9v.9h-.9zM309.7,495.8h.9v.9h-.9zM308.6,496.3h.9v.9h-.9zM309.8,512.5h.9v.9h-.9zM309.2,480.8h.9v.9h-.9zM310.7,541.0h.9v.9h-.9zM312.3,533.3h.9v.9h-.9zM311.1,535.6h.9v.9h-.9zM309.0,535.7h.9v.9h-.9zM310.4,528.9h.9v.9h-.9zM309.5,532.4h.9v.9h-.9zM308.3,529.5h.9v.9h-.9zM310.9,535.1h.9v.9h-.9zM307.3,535.9h.9v.9h-.9zM309.9,528.0h.9v.9h-.9zM309.3,534.3h.9v.9h-.9zM310.8,528.7h.9v.9h-.9zM309.6,539.5h.9v.9h-.9zM307.0,526.3h.9v.9h-.9zM309.1,534.1h.9v.9h-.9zM306.7,548.0h.9v.9h-.9zM309.0,543.9h.9v.9h-.9zM316.8,519.7h.9v.9h-.9zM317.2,518.8h.9v.9h-.9zM320.4,550.0h.9v.9h-.9zM318.0,551.0h.9v.9h-.9zM314.0,550.5h.9v.9h-.9zM315.9,549.0h.9v.9h-.9zM317.2,548.2h.9v.9h-.9zM317.1,548.7h.9v.9h-.9zM329.2,478.9h.9v.9h-.9zM328.1,516.7h.9v.9h-.9zM330.0,517.1h.9v.9h-.9zM328.5,515.7h.9v.9h-.9zM326.6,516.1h.9v.9h-.9zM328.3,520.2h.9v.9h-.9zM326.4,519.1h.9v.9h-.9zM325.6,520.1h.9v.9h-.9zM326.8,532.3h.9v.9h-.9zM326.1,528.9h.9v.9h-.9zM332.0,526.8h.9v.9h-.9zM329.7,529.4h.9v.9h-.9zM329.2,537.1h.9v.9h-.9zM327.7,538.6h.9v.9h-.9zM329.9,527.7h.9v.9h-.9zM325.9,529.0h.9v.9h-.9zM330.9,535.8h.9v.9h-.9zM325.8,530.8h.9v.9h-.9zM329.3,537.0h.9v.9h-.9zM330.0,537.5h.9v.9h-.9zM335.8,480.2h.9v.9h-.9zM337.4,486.3h.9v.9h-.9zM339.1,486.8h.9v.9h-.9zM337.6,496.0h.9v.9h-.9zM335.9,486.5h.9v.9h-.9zM339.2,481.6h.9v.9h-.9zM335.9,485.9h.9v.9h-.9zM337.7,478.6h.9v.9h-.9zM340.5,487.2h.9v.9h-.9zM342.7,474.3h.9v.9h-.9zM336.9,479.9h.9v.9h-.9zM338.1,492.3h.9v.9h-.9zM338.9,484.7h.9v.9h-.9zM340.1,482.0h.9v.9h-.9zM338.8,472.4h.9v.9h-.9zM336.9,526.5h.9v.9h-.9zM349.3,513.8h.9v.9h-.9zM347.9,504.4h.9v.9h-.9zM347.9,502.9h.9v.9h-.9zM349.0,537.7h.9v.9h-.9zM346.7,523.5h.9v.9h-.9zM355.7,516.0h.9v.9h-.9zM349.1,537.5h.9v.9h-.9zM351.3,535.0h.9v.9h-.9zM354.9,529.2h.9v.9h-.9zM347.9,529.0h.9v.9h-.9zM350.7,535.0h.9v.9h-.9zM351.1,522.6h.9v.9h-.9zM349.7,531.5h.9v.9h-.9zM348.5,518.1h.9v.9h-.9zM350.5,527.1h.9v.9h-.9zM352.2,540.6h.9v.9h-.9zM347.4,536.9h.9v.9h-.9zM351.5,527.4h.9v.9h-.9zM350.3,537.0h.9v.9h-.9zM352.0,524.9h.9v.9h-.9zM348.1,535.2h.9v.9h-.9zM352.4,539.6h.9v.9h-.9zM348.9,526.2h.9v.9h-.9zM345.1,527.7h.9v.9h-.9zM349.6,531.8h.9v.9h-.9zM348.2,522.9h.9v.9h-.9zM350.4,540.0h.9v.9h-.9zM345.0,522.2h.9v.9h-.9zM347.3,533.9h.9v.9h-.9zM351.5,530.4h.9v.9h-.9zM350.4,519.5h.9v.9h-.9zM350.1,523.5h.9v.9h-.9zM349.9,518.3h.9v.9h-.9zM351.1,531.1h.9v.9h-.9zM352.6,540.5h.9v.9h-.9zM351.5,530.1h.9v.9h-.9zM344.6,526.4h.9v.9h-.9zM351.7,521.9h.9v.9h-.9zM350.6,525.6h.9v.9h-.9zM345.3,529.3h.9v.9h-.9zM349.1,520.6h.9v.9h-.9zM352.6,516.3h.9v.9h-.9zM346.7,524.6h.9v.9h-.9zM350.9,520.1h.9v.9h-.9zM349.0,518.6h.9v.9h-.9zM352.2,527.8h.9v.9h-.9zM355.3,535.0h.9v.9h-.9zM353.2,550.1h.9v.9h-.9zM348.0,545.4h.9v.9h-.9zM349.5,548.6h.9v.9h-.9zM348.5,544.4h.9v.9h-.9zM358.1,482.6h.9v.9h-.9zM359.7,477.6h.9v.9h-.9zM357.6,483.4h.9v.9h-.9zM359.7,489.3h.9v.9h-.9zM358.9,477.7h.9v.9h-.9zM357.5,484.7h.9v.9h-.9zM362.1,484.7h.9v.9h-.9zM359.8,481.4h.9v.9h-.9zM354.8,482.7h.9v.9h-.9zM360.8,491.6h.9v.9h-.9zM357.3,481.8h.9v.9h-.9zM356.0,487.5h.9v.9h-.9zM359.7,487.2h.9v.9h-.9zM356.5,482.6h.9v.9h-.9zM360.9,473.5h.9v.9h-.9zM357.9,476.7h.9v.9h-.9zM356.5,493.9h.9v.9h-.9zM359.1,476.0h.9v.9h-.9zM358.2,484.9h.9v.9h-.9zM356.4,531.8h.9v.9h-.9zM356.3,530.1h.9v.9h-.9zM360.2,530.6h.9v.9h-.9zM359.7,527.8h.9v.9h-.9zM358.2,522.4h.9v.9h-.9zM357.3,532.1h.9v.9h-.9zM362.4,532.6h.9v.9h-.9zM360.7,534.8h.9v.9h-.9zM364.1,527.2h.9v.9h-.9zM364.2,533.2h.9v.9h-.9zM357.0,526.0h.9v.9h-.9zM357.5,546.3h.9v.9h-.9zM358.1,545.4h.9v.9h-.9zM365.8,478.8h.9v.9h-.9zM364.2,480.7h.9v.9h-.9zM372.0,478.3h.9v.9h-.9zM368.0,505.0h.9v.9h-.9zM369.5,480.9h.9v.9h-.9zM367.2,508.8h.9v.9h-.9zM369.8,501.1h.9v.9h-.9zM367.9,472.7h.9v.9h-.9zM371.4,482.5h.9v.9h-.9zM367.8,485.6h.9v.9h-.9zM369.9,475.7h.9v.9h-.9zM368.2,504.9h.9v.9h-.9zM366.7,477.8h.9v.9h-.9zM370.2,502.5h.9v.9h-.9zM365.1,550.4h.9v.9h-.9zM377.9,529.6h.9v.9h-.9zM378.0,540.4h.9v.9h-.9zM379.5,529.6h.9v.9h-.9zM380.3,537.9h.9v.9h-.9zM380.4,541.1h.9v.9h-.9zM379.0,535.6h.9v.9h-.9zM380.6,529.5h.9v.9h-.9zM379.4,528.5h.9v.9h-.9zM381.1,525.9h.9v.9h-.9zM380.2,533.6h.9v.9h-.9zM378.8,527.6h.9v.9h-.9zM379.8,536.5h.9v.9h-.9zM376.3,544.3h.9v.9h-.9zM377.5,526.5h.9v.9h-.9zM381.7,532.9h.9v.9h-.9zM379.9,525.5h.9v.9h-.9zM380.6,535.4h.9v.9h-.9zM378.1,530.5h.9v.9h-.9zM378.8,544.8h.9v.9h-.9zM376.7,528.4h.9v.9h-.9zM375.8,531.0h.9v.9h-.9zM381.6,544.1h.9v.9h-.9zM392.1,477.1h.9v.9h-.9zM393.8,504.7h.9v.9h-.9zM392.1,507.1h.9v.9h-.9zM387.9,507.7h.9v.9h-.9zM388.5,534.3h.9v.9h-.9zM394.1,543.2h.9v.9h-.9zM388.6,532.0h.9v.9h-.9zM388.4,535.6h.9v.9h-.9zM391.6,530.6h.9v.9h-.9zM389.6,534.7h.9v.9h-.9zM392.4,540.3h.9v.9h-.9zM390.2,534.2h.9v.9h-.9zM395.5,540.9h.9v.9h-.9zM390.4,537.2h.9v.9h-.9zM391.2,541.6h.9v.9h-.9zM391.1,531.6h.9v.9h-.9zM387.2,543.9h.9v.9h-.9zM387.9,532.4h.9v.9h-.9zM394.9,530.2h.9v.9h-.9zM392.8,544.7h.9v.9h-.9zM391.7,538.5h.9v.9h-.9zM387.6,532.5h.9v.9h-.9zM391.5,534.9h.9v.9h-.9zM394.5,534.7h.9v.9h-.9zM391.3,559.9h.9v.9h-.9zM402.6,481.9h.9v.9h-.9zM398.4,493.9h.9v.9h-.9zM400.3,472.3h.9v.9h-.9zM398.5,511.2h.9v.9h-.9zM400.1,555.7h.9v.9h-.9zM402.4,553.3h.9v.9h-.9zM401.2,547.8h.9v.9h-.9zM399.8,549.3h.9v.9h-.9zM400.5,549.7h.9v.9h-.9zM400.9,547.4h.9v.9h-.9zM408.0,473.2h.9v.9h-.9zM410.9,484.3h.9v.9h-.9zM409.7,488.1h.9v.9h-.9zM412.5,512.5h.9v.9h-.9zM412.9,494.8h.9v.9h-.9zM410.1,504.0h.9v.9h-.9zM411.9,477.3h.9v.9h-.9zM409.2,499.6h.9v.9h-.9zM411.6,489.1h.9v.9h-.9zM406.4,499.3h.9v.9h-.9zM408.2,493.8h.9v.9h-.9zM411.2,505.9h.9v.9h-.9zM408.8,472.5h.9v.9h-.9zM411.2,525.4h.9v.9h-.9zM409.3,532.8h.9v.9h-.9zM414.5,524.7h.9v.9h-.9zM413.0,541.7h.9v.9h-.9zM407.6,543.4h.9v.9h-.9zM408.8,526.2h.9v.9h-.9zM411.7,534.2h.9v.9h-.9zM409.7,538.9h.9v.9h-.9zM410.6,540.0h.9v.9h-.9zM407.8,533.2h.9v.9h-.9zM413.0,528.1h.9v.9h-.9zM410.3,535.3h.9v.9h-.9zM408.6,536.7h.9v.9h-.9zM410.7,523.7h.9v.9h-.9zM409.6,540.5h.9v.9h-.9zM410.2,522.6h.9v.9h-.9zM409.1,526.3h.9v.9h-.9zM408.6,546.1h.9v.9h-.9zM409.0,536.7h.9v.9h-.9zM407.5,544.3h.9v.9h-.9zM405.5,531.0h.9v.9h-.9zM410.8,524.2h.9v.9h-.9zM413.9,524.5h.9v.9h-.9zM410.3,545.7h.9v.9h-.9zM411.8,521.4h.9v.9h-.9zM411.1,537.9h.9v.9h-.9zM411.2,534.9h.9v.9h-.9zM410.2,532.8h.9v.9h-.9zM413.6,521.8h.9v.9h-.9zM410.9,528.6h.9v.9h-.9zM406.6,546.0h.9v.9h-.9zM407.7,546.7h.9v.9h-.9zM409.7,528.4h.9v.9h-.9zM408.8,527.1h.9v.9h-.9zM410.1,528.0h.9v.9h-.9zM406.9,528.1h.9v.9h-.9zM411.2,521.6h.9v.9h-.9zM410.3,521.1h.9v.9h-.9zM410.0,541.1h.9v.9h-.9zM410.3,529.7h.9v.9h-.9zM412.8,530.7h.9v.9h-.9zM411.7,532.7h.9v.9h-.9zM412.2,540.4h.9v.9h-.9zM412.9,525.3h.9v.9h-.9zM407.9,541.9h.9v.9h-.9zM409.9,545.8h.9v.9h-.9zM407.5,543.2h.9v.9h-.9zM407.0,525.8h.9v.9h-.9z" fill="#fff" opacity="0.1"/>
<path d="M278.6,477.6h.9v.9h-.9zM277.8,472.1h.9v.9h-.9zM277.3,490.9h.9v.9h-.9zM279.6,473.3h.9v.9h-.9zM281.4,501.8h.9v.9h-.9zM278.1,498.9h.9v.9h-.9zM280.9,480.8h.9v.9h-.9zM276.9,497.8h.9v.9h-.9zM283.1,490.1h.9v.9h-.9zM277.8,501.3h.9v.9h-.9zM275.7,492.3h.9v.9h-.9zM276.2,494.3h.9v.9h-.9zM279.3,500.5h.9v.9h-.9zM277.7,494.0h.9v.9h-.9zM277.0,499.4h.9v.9h-.9zM277.1,482.3h.9v.9h-.9zM276.5,482.5h.9v.9h-.9zM274.5,503.1h.9v.9h-.9zM277.8,488.9h.9v.9h-.9zM275.9,485.7h.9v.9h-.9zM278.3,482.2h.9v.9h-.9zM277.8,489.1h.9v.9h-.9zM278.4,497.0h.9v.9h-.9zM277.0,547.1h.9v.9h-.9zM280.2,548.8h.9v.9h-.9zM285.8,482.3h.9v.9h-.9zM286.6,494.4h.9v.9h-.9zM288.1,486.3h.9v.9h-.9zM287.7,479.4h.9v.9h-.9zM286.3,479.1h.9v.9h-.9zM286.9,473.2h.9v.9h-.9zM288.4,473.9h.9v.9h-.9zM286.5,492.5h.9v.9h-.9zM285.7,484.1h.9v.9h-.9zM287.3,485.3h.9v.9h-.9zM287.5,487.0h.9v.9h-.9zM287.7,473.3h.9v.9h-.9zM286.2,497.5h.9v.9h-.9zM286.9,485.8h.9v.9h-.9zM286.7,474.3h.9v.9h-.9zM285.3,486.9h.9v.9h-.9zM287.0,477.6h.9v.9h-.9zM288.1,484.0h.9v.9h-.9zM285.1,562.5h.9v.9h-.9zM287.1,559.8h.9v.9h-.9zM285.2,560.4h.9v.9h-.9zM285.8,561.3h.9v.9h-.9zM284.6,558.0h.9v.9h-.9zM287.0,558.5h.9v.9h-.9zM283.5,558.5h.9v.9h-.9zM285.9,561.7h.9v.9h-.9zM285.3,561.6h.9v.9h-.9zM286.8,557.9h.9v.9h-.9zM296.5,472.3h.9v.9h-.9zM297.1,487.2h.9v.9h-.9zM295.2,483.6h.9v.9h-.9zM298.0,480.2h.9v.9h-.9zM293.7,487.1h.9v.9h-.9zM299.2,487.0h.9v.9h-.9zM296.2,491.3h.9v.9h-.9zM294.9,481.8h.9v.9h-.9zM296.5,502.2h.9v.9h-.9zM298.7,500.1h.9v.9h-.9zM294.1,486.0h.9v.9h-.9zM296.0,485.4h.9v.9h-.9zM299.0,474.1h.9v.9h-.9zM299.3,484.3h.9v.9h-.9zM295.8,477.6h.9v.9h-.9zM298.0,498.8h.9v.9h-.9zM299.2,479.6h.9v.9h-.9zM296.7,485.0h.9v.9h-.9zM299.3,483.9h.9v.9h-.9zM297.7,476.6h.9v.9h-.9zM300.4,484.7h.9v.9h-.9zM299.7,474.0h.9v.9h-.9zM296.0,497.0h.9v.9h-.9zM294.1,502.5h.9v.9h-.9zM298.0,479.4h.9v.9h-.9zM297.6,493.5h.9v.9h-.9zM296.0,486.9h.9v.9h-.9zM296.0,492.2h.9v.9h-.9zM297.8,477.8h.9v.9h-.9zM295.5,479.2h.9v.9h-.9zM294.8,482.5h.9v.9h-.9zM292.5,481.1h.9v.9h-.9zM296.8,493.9h.9v.9h-.9zM299.6,476.0h.9v.9h-.9zM296.1,500.2h.9v.9h-.9zM299.1,481.6h.9v.9h-.9zM296.0,485.6h.9v.9h-.9zM298.1,473.3h.9v.9h-.9zM298.3,497.1h.9v.9h-.9zM297.6,495.9h.9v.9h-.9zM298.3,484.3h.9v.9h-.9zM291.8,476.1h.9v.9h-.9zM296.2,501.6h.9v.9h-.9zM298.2,517.1h.9v.9h-.9zM298.2,518.9h.9v.9h-.9zM299.8,515.4h.9v.9h-.9zM298.6,516.6h.9v.9h-.9zM295.6,516.2h.9v.9h-.9zM297.2,507.0h.9v.9h-.9zM294.7,517.3h.9v.9h-.9zM300.1,509.6h.9v.9h-.9zM296.7,517.7h.9v.9h-.9zM297.0,509.8h.9v.9h-.9zM296.8,506.3h.9v.9h-.9zM295.3,506.7h.9v.9h-.9zM298.3,509.9h.9v.9h-.9zM299.0,509.2h.9v.9h-.9zM300.1,512.6h.9v.9h-.9zM296.9,508.5h.9v.9h-.9zM299.1,518.5h.9v.9h-.9zM298.1,509.6h.9v.9h-.9zM294.2,516.5h.9v.9h-.9zM294.3,524.6h.9v.9h-.9zM295.3,532.9h.9v.9h-.9zM293.1,524.4h.9v.9h-.9zM297.2,535.7h.9v.9h-.9zM292.9,535.6h.9v.9h-.9zM295.4,531.6h.9v.9h-.9zM297.5,536.4h.9v.9h-.9zM298.1,533.9h.9v.9h-.9zM300.6,537.5h.9v.9h-.9zM296.6,532.1h.9v.9h-.9zM298.2,528.0h.9v.9h-.9zM300.2,531.7h.9v.9h-.9zM296.1,533.4h.9v.9h-.9zM298.0,524.4h.9v.9h-.9zM298.4,526.1h.9v.9h-.9zM298.2,526.7h.9v.9h-.9zM295.5,533.4h.9v.9h-.9zM298.3,525.3h.9v.9h-.9zM297.8,526.1h.9v.9h-.9zM299.3,526.3h.9v.9h-.9zM293.7,529.4h.9v.9h-.9zM296.7,530.4h.9v.9h-.9zM298.8,538.4h.9v.9h-.9zM296.5,534.9h.9v.9h-.9zM297.3,537.3h.9v.9h-.9zM296.5,526.6h.9v.9h-.9zM300.2,526.8h.9v.9h-.9zM298.4,534.0h.9v.9h-.9zM300.8,526.6h.9v.9h-.9zM299.1,543.7h.9v.9h-.9zM308.0,484.1h.9v.9h-.9zM310.6,474.2h.9v.9h-.9zM308.8,497.6h.9v.9h-.9zM310.3,511.2h.9v.9h-.9zM310.4,479.2h.9v.9h-.9zM309.4,493.9h.9v.9h-.9zM305.2,531.0h.9v.9h-.9zM308.6,537.1h.9v.9h-.9zM305.3,535.8h.9v.9h-.9zM311.7,534.6h.9v.9h-.9zM310.9,531.6h.9v.9h-.9zM310.4,539.7h.9v.9h-.9zM310.4,536.1h.9v.9h-.9zM312.2,529.9h.9v.9h-.9zM306.9,534.8h.9v.9h-.9zM311.4,529.8h.9v.9h-.9zM313.4,528.6h.9v.9h-.9zM307.3,550.7h.9v.9h-.9zM310.3,544.8h.9v.9h-.9zM320.5,509.1h.9v.9h-.9zM318.4,509.2h.9v.9h-.9zM317.0,548.3h.9v.9h-.9zM319.6,546.5h.9v.9h-.9zM325.3,514.4h.9v.9h-.9zM325.7,516.4h.9v.9h-.9zM328.6,517.8h.9v.9h-.9zM328.0,517.2h.9v.9h-.9zM327.9,515.8h.9v.9h-.9zM328.8,515.8h.9v.9h-.9zM330.6,511.5h.9v.9h-.9zM330.2,511.1h.9v.9h-.9zM328.4,536.4h.9v.9h-.9zM326.7,534.1h.9v.9h-.9zM325.6,533.7h.9v.9h-.9zM329.7,527.0h.9v.9h-.9zM330.4,533.8h.9v.9h-.9zM328.1,530.2h.9v.9h-.9zM328.2,533.6h.9v.9h-.9zM326.4,538.7h.9v.9h-.9zM331.0,529.1h.9v.9h-.9zM336.2,490.2h.9v.9h-.9zM335.6,489.8h.9v.9h-.9zM338.2,477.4h.9v.9h-.9zM337.9,487.8h.9v.9h-.9zM337.3,474.5h.9v.9h-.9zM341.8,495.5h.9v.9h-.9zM336.5,491.1h.9v.9h-.9zM336.4,492.1h.9v.9h-.9zM335.7,488.7h.9v.9h-.9zM338.0,481.1h.9v.9h-.9zM337.0,503.9h.9v.9h-.9zM338.1,532.7h.9v.9h-.9zM353.1,521.1h.9v.9h-.9zM349.0,538.8h.9v.9h-.9zM350.0,531.6h.9v.9h-.9zM348.6,520.3h.9v.9h-.9zM348.5,531.9h.9v.9h-.9zM347.6,521.8h.9v.9h-.9zM351.3,531.6h.9v.9h-.9zM350.5,521.7h.9v.9h-.9zM346.7,526.8h.9v.9h-.9zM350.7,537.5h.9v.9h-.9zM347.9,531.7h.9v.9h-.9zM354.1,517.1h.9v.9h-.9zM345.9,526.2h.9v.9h-.9zM348.9,523.8h.9v.9h-.9zM351.5,540.0h.9v.9h-.9zM348.3,536.5h.9v.9h-.9zM346.3,535.7h.9v.9h-.9zM351.4,535.8h.9v.9h-.9zM350.2,534.1h.9v.9h-.9zM349.1,527.1h.9v.9h-.9zM347.7,539.3h.9v.9h-.9zM349.4,539.0h.9v.9h-.9zM350.3,533.8h.9v.9h-.9zM349.5,528.4h.9v.9h-.9zM349.8,521.6h.9v.9h-.9zM351.4,517.9h.9v.9h-.9zM347.1,539.6h.9v.9h-.9zM348.8,527.3h.9v.9h-.9zM352.9,526.4h.9v.9h-.9zM348.5,527.3h.9v.9h-.9zM350.5,536.4h.9v.9h-.9zM350.2,524.5h.9v.9h-.9zM348.3,527.1h.9v.9h-.9zM350.6,533.3h.9v.9h-.9zM350.9,536.9h.9v.9h-.9zM349.9,518.5h.9v.9h-.9zM348.1,538.1h.9v.9h-.9zM347.5,538.1h.9v.9h-.9zM346.5,517.2h.9v.9h-.9zM347.7,520.2h.9v.9h-.9zM359.5,494.7h.9v.9h-.9zM359.5,478.2h.9v.9h-.9zM360.8,490.0h.9v.9h-.9zM360.5,491.6h.9v.9h-.9zM361.7,484.9h.9v.9h-.9zM358.0,472.6h.9v.9h-.9zM361.2,495.3h.9v.9h-.9zM364.7,476.3h.9v.9h-.9zM359.6,476.4h.9v.9h-.9zM357.8,485.2h.9v.9h-.9zM359.8,478.2h.9v.9h-.9zM360.0,496.5h.9v.9h-.9zM358.4,487.4h.9v.9h-.9zM361.7,473.9h.9v.9h-.9zM360.3,495.3h.9v.9h-.9zM363.9,495.0h.9v.9h-.9zM359.6,527.6h.9v.9h-.9zM359.7,529.2h.9v.9h-.9zM359.3,534.4h.9v.9h-.9zM355.2,531.7h.9v.9h-.9zM358.3,529.5h.9v.9h-.9zM363.2,535.0h.9v.9h-.9zM370.9,475.7h.9v.9h-.9zM365.2,510.9h.9v.9h-.9zM370.2,516.1h.9v.9h-.9zM367.0,487.4h.9v.9h-.9zM371.0,510.2h.9v.9h-.9zM370.7,476.0h.9v.9h-.9zM369.5,509.5h.9v.9h-.9zM371.8,482.0h.9v.9h-.9zM367.2,473.3h.9v.9h-.9zM367.9,512.3h.9v.9h-.9zM369.4,518.2h.9v.9h-.9zM370.6,481.4h.9v.9h-.9zM370.3,483.8h.9v.9h-.9zM368.0,540.7h.9v.9h-.9zM368.4,548.4h.9v.9h-.9zM366.4,546.2h.9v.9h-.9zM368.3,548.8h.9v.9h-.9zM368.2,548.6h.9v.9h-.9zM383.7,544.4h.9v.9h-.9zM380.1,535.1h.9v.9h-.9zM380.7,543.8h.9v.9h-.9zM379.6,536.4h.9v.9h-.9zM383.0,536.1h.9v.9h-.9zM378.9,535.3h.9v.9h-.9zM378.5,536.4h.9v.9h-.9zM378.6,531.6h.9v.9h-.9zM382.5,537.8h.9v.9h-.9zM381.3,534.7h.9v.9h-.9zM381.0,533.1h.9v.9h-.9zM377.9,539.2h.9v.9h-.9zM375.2,535.9h.9v.9h-.9zM381.2,535.2h.9v.9h-.9zM382.7,537.7h.9v.9h-.9zM377.6,535.9h.9v.9h-.9zM380.4,526.6h.9v.9h-.9zM379.6,529.0h.9v.9h-.9zM378.5,527.3h.9v.9h-.9zM379.1,540.0h.9v.9h-.9zM381.1,544.5h.9v.9h-.9zM379.4,537.2h.9v.9h-.9zM381.0,531.2h.9v.9h-.9zM377.1,556.7h.9v.9h-.9zM387.2,501.8h.9v.9h-.9zM390.7,504.8h.9v.9h-.9zM388.4,506.3h.9v.9h-.9zM388.2,502.1h.9v.9h-.9zM389.6,535.0h.9v.9h-.9zM389.6,527.0h.9v.9h-.9zM392.7,528.1h.9v.9h-.9zM396.1,534.5h.9v.9h-.9zM389.4,541.6h.9v.9h-.9zM392.1,536.9h.9v.9h-.9zM391.0,535.2h.9v.9h-.9zM389.3,541.9h.9v.9h-.9zM391.0,539.6h.9v.9h-.9zM388.7,535.1h.9v.9h-.9zM392.0,539.7h.9v.9h-.9zM391.3,535.8h.9v.9h-.9zM388.2,538.5h.9v.9h-.9zM393.0,540.8h.9v.9h-.9zM388.8,537.1h.9v.9h-.9zM389.3,539.3h.9v.9h-.9zM392.3,533.0h.9v.9h-.9zM392.9,534.3h.9v.9h-.9zM391.7,540.6h.9v.9h-.9zM390.1,531.3h.9v.9h-.9zM392.8,544.8h.9v.9h-.9zM392.4,536.7h.9v.9h-.9zM392.7,544.9h.9v.9h-.9zM387.5,544.3h.9v.9h-.9zM390.4,544.2h.9v.9h-.9zM387.1,536.1h.9v.9h-.9zM389.7,540.4h.9v.9h-.9zM390.1,550.7h.9v.9h-.9zM399.6,483.8h.9v.9h-.9zM394.6,481.6h.9v.9h-.9zM397.6,486.1h.9v.9h-.9zM400.0,479.1h.9v.9h-.9zM400.5,484.7h.9v.9h-.9zM397.8,517.0h.9v.9h-.9zM402.0,519.3h.9v.9h-.9zM400.2,512.6h.9v.9h-.9zM399.3,510.0h.9v.9h-.9zM400.6,551.3h.9v.9h-.9zM411.2,482.1h.9v.9h-.9zM409.4,507.5h.9v.9h-.9zM409.7,494.2h.9v.9h-.9zM411.0,473.9h.9v.9h-.9zM413.7,491.0h.9v.9h-.9zM412.7,502.0h.9v.9h-.9zM408.0,493.0h.9v.9h-.9zM409.8,489.7h.9v.9h-.9zM409.7,493.5h.9v.9h-.9zM412.4,507.1h.9v.9h-.9zM410.6,492.7h.9v.9h-.9zM411.5,492.0h.9v.9h-.9zM409.1,501.6h.9v.9h-.9zM410.0,500.8h.9v.9h-.9zM408.9,498.6h.9v.9h-.9zM408.4,502.1h.9v.9h-.9zM408.6,495.8h.9v.9h-.9zM408.6,509.6h.9v.9h-.9zM406.2,526.6h.9v.9h-.9zM408.4,521.3h.9v.9h-.9zM411.6,527.2h.9v.9h-.9zM410.2,534.4h.9v.9h-.9zM409.4,541.3h.9v.9h-.9zM405.6,546.6h.9v.9h-.9zM412.7,530.1h.9v.9h-.9zM409.3,525.5h.9v.9h-.9zM411.0,542.6h.9v.9h-.9zM407.6,542.3h.9v.9h-.9zM410.3,528.0h.9v.9h-.9zM411.2,522.0h.9v.9h-.9zM408.0,539.1h.9v.9h-.9zM408.3,525.4h.9v.9h-.9zM407.8,537.1h.9v.9h-.9zM411.6,534.6h.9v.9h-.9zM408.8,545.7h.9v.9h-.9zM406.8,545.5h.9v.9h-.9zM408.1,528.3h.9v.9h-.9zM411.1,542.6h.9v.9h-.9zM408.3,540.5h.9v.9h-.9zM410.8,525.7h.9v.9h-.9zM405.9,526.8h.9v.9h-.9zM411.4,535.2h.9v.9h-.9zM403.4,545.2h.9v.9h-.9zM408.3,524.7h.9v.9h-.9zM414.9,545.8h.9v.9h-.9zM415.3,524.7h.9v.9h-.9zM410.1,545.8h.9v.9h-.9zM412.3,538.4h.9v.9h-.9zM411.3,539.8h.9v.9h-.9zM411.0,532.2h.9v.9h-.9zM415.2,525.1h.9v.9h-.9zM408.1,522.9h.9v.9h-.9zM403.0,528.7h.9v.9h-.9zM409.2,541.0h.9v.9h-.9zM405.5,541.7h.9v.9h-.9zM408.0,523.5h.9v.9h-.9zM410.4,535.8h.9v.9h-.9zM409.1,542.9h.9v.9h-.9zM411.3,537.5h.9v.9h-.9zM412.2,542.9h.9v.9h-.9zM408.8,535.3h.9v.9h-.9zM406.9,538.5h.9v.9h-.9zM413.0,552.6h.9v.9h-.9z" fill="#000" opacity="0.1"/>
<path d="M277.5,474.3h.9v.9h-.9zM281.3,483.8h.9v.9h-.9zM278.6,488.8h.9v.9h-.9zM278.3,506.1h.9v.9h-.9zM277.9,501.6h.9v.9h-.9zM280.3,505.4h.9v.9h-.9zM282.5,484.1h.9v.9h-.9zM276.6,499.1h.9v.9h-.9zM276.1,477.7h.9v.9h-.9zM276.5,504.1h.9v.9h-.9zM280.6,482.3h.9v.9h-.9zM278.7,477.1h.9v.9h-.9zM281.0,498.6h.9v.9h-.9zM277.4,497.6h.9v.9h-.9zM276.2,477.6h.9v.9h-.9zM282.5,486.4h.9v.9h-.9zM278.1,493.5h.9v.9h-.9zM283.2,493.3h.9v.9h-.9zM277.2,472.0h.9v.9h-.9zM279.3,488.7h.9v.9h-.9zM279.0,490.6h.9v.9h-.9zM278.8,481.4h.9v.9h-.9zM276.9,498.0h.9v.9h-.9zM277.8,488.3h.9v.9h-.9zM279.7,499.2h.9v.9h-.9zM281.9,487.1h.9v.9h-.9zM277.9,483.6h.9v.9h-.9zM277.8,495.2h.9v.9h-.9zM285.1,496.5h.9v.9h-.9zM279.2,487.1h.9v.9h-.9zM277.2,530.4h.9v.9h-.9zM277.3,537.1h.9v.9h-.9zM279.0,529.0h.9v.9h-.9zM276.3,532.7h.9v.9h-.9zM277.0,510.1h.9v.9h-.9zM278.5,514.2h.9v.9h-.9zM277.7,532.3h.9v.9h-.9zM281.4,509.8h.9v.9h-.9zM278.9,510.7h.9v.9h-.9zM277.9,517.2h.9v.9h-.9zM280.9,536.4h.9v.9h-.9zM279.7,519.0h.9v.9h-.9zM275.4,513.2h.9v.9h-.9zM281.5,526.8h.9v.9h-.9zM279.7,528.8h.9v.9h-.9zM279.7,510.2h.9v.9h-.9zM276.8,534.6h.9v.9h-.9zM275.8,514.9h.9v.9h-.9zM277.7,525.7h.9v.9h-.9zM277.5,515.0h.9v.9h-.9zM278.9,535.9h.9v.9h-.9zM281.6,515.2h.9v.9h-.9zM276.2,512.3h.9v.9h-.9zM278.7,544.8h.9v.9h-.9zM279.5,546.5h.9v.9h-.9zM279.7,548.6h.9v.9h-.9zM278.3,544.5h.9v.9h-.9zM281.2,546.0h.9v.9h-.9zM277.7,547.7h.9v.9h-.9zM297.3,508.8h.9v.9h-.9zM297.2,514.0h.9v.9h-.9zM298.3,550.6h.9v.9h-.9zM301.1,547.2h.9v.9h-.9zM295.5,548.5h.9v.9h-.9zM295.9,548.9h.9v.9h-.9zM309.2,495.7h.9v.9h-.9zM310.2,494.0h.9v.9h-.9zM309.1,511.2h.9v.9h-.9zM309.8,486.1h.9v.9h-.9zM308.6,509.1h.9v.9h-.9zM308.6,515.0h.9v.9h-.9zM309.5,500.5h.9v.9h-.9zM306.8,480.9h.9v.9h-.9zM309.8,510.2h.9v.9h-.9zM308.8,477.0h.9v.9h-.9zM309.9,477.7h.9v.9h-.9zM311.8,536.0h.9v.9h-.9zM308.2,531.7h.9v.9h-.9zM306.9,526.3h.9v.9h-.9zM308.9,540.8h.9v.9h-.9zM309.3,533.8h.9v.9h-.9zM309.8,540.5h.9v.9h-.9zM312.5,526.5h.9v.9h-.9zM310.5,531.1h.9v.9h-.9zM307.8,537.9h.9v.9h-.9zM308.9,528.8h.9v.9h-.9zM309.5,550.5h.9v.9h-.9zM305.5,544.0h.9v.9h-.9zM309.3,545.8h.9v.9h-.9zM318.7,494.8h.9v.9h-.9zM316.5,486.5h.9v.9h-.9zM318.4,480.5h.9v.9h-.9zM322.7,488.4h.9v.9h-.9zM318.6,487.9h.9v.9h-.9zM317.6,500.6h.9v.9h-.9zM318.2,488.5h.9v.9h-.9zM318.1,481.7h.9v.9h-.9zM316.0,502.7h.9v.9h-.9zM318.9,472.2h.9v.9h-.9zM316.6,515.0h.9v.9h-.9zM321.0,511.0h.9v.9h-.9zM322.2,507.4h.9v.9h-.9zM320.3,512.7h.9v.9h-.9zM317.5,512.2h.9v.9h-.9zM315.2,516.9h.9v.9h-.9zM318.9,514.6h.9v.9h-.9zM317.9,511.3h.9v.9h-.9zM318.4,513.8h.9v.9h-.9zM317.7,540.1h.9v.9h-.9zM322.5,529.5h.9v.9h-.9zM318.3,537.4h.9v.9h-.9zM318.0,528.4h.9v.9h-.9zM317.5,536.5h.9v.9h-.9zM318.6,534.5h.9v.9h-.9zM318.8,537.8h.9v.9h-.9zM320.6,542.2h.9v.9h-.9zM316.9,540.1h.9v.9h-.9zM319.9,547.6h.9v.9h-.9zM318.9,546.6h.9v.9h-.9zM316.1,546.9h.9v.9h-.9zM318.3,549.1h.9v.9h-.9zM320.8,546.8h.9v.9h-.9zM319.7,550.8h.9v.9h-.9zM327.3,487.4h.9v.9h-.9zM330.3,500.0h.9v.9h-.9zM327.4,495.6h.9v.9h-.9zM330.3,494.9h.9v.9h-.9zM327.0,500.3h.9v.9h-.9zM327.2,479.9h.9v.9h-.9zM328.0,482.0h.9v.9h-.9zM329.0,495.3h.9v.9h-.9zM328.8,476.0h.9v.9h-.9zM329.8,483.5h.9v.9h-.9zM333.5,485.4h.9v.9h-.9zM329.7,497.2h.9v.9h-.9zM329.3,495.0h.9v.9h-.9zM329.6,489.7h.9v.9h-.9zM326.6,498.4h.9v.9h-.9zM327.9,515.4h.9v.9h-.9zM325.0,518.6h.9v.9h-.9zM324.2,518.5h.9v.9h-.9zM328.3,519.4h.9v.9h-.9zM330.7,515.4h.9v.9h-.9zM329.6,519.0h.9v.9h-.9zM329.6,514.5h.9v.9h-.9zM328.3,519.2h.9v.9h-.9zM327.9,511.5h.9v.9h-.9zM326.3,528.4h.9v.9h-.9zM327.0,527.2h.9v.9h-.9zM330.5,527.1h.9v.9h-.9zM326.2,526.5h.9v.9h-.9zM328.3,534.4h.9v.9h-.9zM330.4,536.1h.9v.9h-.9zM328.5,535.8h.9v.9h-.9zM338.7,475.6h.9v.9h-.9zM336.3,487.3h.9v.9h-.9zM337.9,475.9h.9v.9h-.9zM340.7,490.7h.9v.9h-.9zM333.4,481.5h.9v.9h-.9zM338.1,485.1h.9v.9h-.9zM340.6,494.5h.9v.9h-.9zM339.9,487.6h.9v.9h-.9zM341.2,484.7h.9v.9h-.9zM338.9,474.9h.9v.9h-.9zM339.6,484.8h.9v.9h-.9zM340.5,488.5h.9v.9h-.9zM337.8,474.1h.9v.9h-.9zM340.1,484.1h.9v.9h-.9zM340.5,472.5h.9v.9h-.9zM336.3,490.7h.9v.9h-.9zM339.9,477.0h.9v.9h-.9zM339.5,478.1h.9v.9h-.9zM336.9,493.1h.9v.9h-.9zM338.2,517.4h.9v.9h-.9zM336.4,512.5h.9v.9h-.9zM337.4,516.2h.9v.9h-.9zM337.3,515.1h.9v.9h-.9zM336.1,533.6h.9v.9h-.9zM339.9,522.5h.9v.9h-.9zM339.3,535.3h.9v.9h-.9zM337.7,523.7h.9v.9h-.9zM337.5,534.1h.9v.9h-.9zM339.2,536.2h.9v.9h-.9zM338.6,521.4h.9v.9h-.9zM351.1,502.2h.9v.9h-.9zM348.6,508.9h.9v.9h-.9zM349.4,512.7h.9v.9h-.9zM349.3,507.6h.9v.9h-.9zM350.5,512.5h.9v.9h-.9zM350.2,547.4h.9v.9h-.9zM352.7,544.2h.9v.9h-.9zM350.5,546.1h.9v.9h-.9zM351.3,544.0h.9v.9h-.9zM348.9,548.0h.9v.9h-.9zM348.5,553.3h.9v.9h-.9zM356.6,479.4h.9v.9h-.9zM361.2,495.8h.9v.9h-.9zM359.4,480.0h.9v.9h-.9zM359.7,482.5h.9v.9h-.9zM362.9,474.3h.9v.9h-.9zM363.1,494.3h.9v.9h-.9zM356.9,473.6h.9v.9h-.9zM360.1,477.5h.9v.9h-.9zM361.9,486.3h.9v.9h-.9zM362.7,491.2h.9v.9h-.9zM358.9,486.9h.9v.9h-.9zM361.2,490.5h.9v.9h-.9zM358.4,486.6h.9v.9h-.9zM356.7,495.4h.9v.9h-.9zM359.9,496.7h.9v.9h-.9zM356.5,486.1h.9v.9h-.9zM359.8,479.2h.9v.9h-.9zM359.0,491.4h.9v.9h-.9zM355.4,480.1h.9v.9h-.9zM361.4,496.8h.9v.9h-.9zM362.0,480.3h.9v.9h-.9zM360.8,474.1h.9v.9h-.9zM355.5,503.3h.9v.9h-.9zM361.1,514.5h.9v.9h-.9zM357.1,502.7h.9v.9h-.9zM360.1,514.3h.9v.9h-.9zM359.8,500.7h.9v.9h-.9zM360.0,501.8h.9v.9h-.9zM357.0,507.0h.9v.9h-.9zM358.6,521.1h.9v.9h-.9zM357.0,522.4h.9v.9h-.9zM360.5,529.1h.9v.9h-.9zM359.6,525.5h.9v.9h-.9zM358.9,533.4h.9v.9h-.9zM358.7,532.8h.9v.9h-.9zM360.7,531.4h.9v.9h-.9zM363.6,534.6h.9v.9h-.9zM361.4,527.4h.9v.9h-.9zM358.1,529.1h.9v.9h-.9zM356.2,523.7h.9v.9h-.9zM360.2,531.8h.9v.9h-.9zM360.3,531.9h.9v.9h-.9zM355.2,531.5h.9v.9h-.9zM358.3,523.8h.9v.9h-.9zM359.6,528.1h.9v.9h-.9zM358.4,522.1h.9v.9h-.9zM358.8,527.9h.9v.9h-.9zM357.2,521.8h.9v.9h-.9zM359.2,548.1h.9v.9h-.9zM359.8,548.3h.9v.9h-.9zM362.2,537.9h.9v.9h-.9zM358.0,542.6h.9v.9h-.9zM362.9,549.1h.9v.9h-.9zM361.5,547.0h.9v.9h-.9zM357.0,542.6h.9v.9h-.9zM368.5,500.7h.9v.9h-.9zM368.1,512.5h.9v.9h-.9zM368.5,508.4h.9v.9h-.9zM366.3,492.3h.9v.9h-.9zM368.3,510.9h.9v.9h-.9zM370.0,506.4h.9v.9h-.9zM367.9,474.2h.9v.9h-.9zM369.3,479.4h.9v.9h-.9zM368.4,489.4h.9v.9h-.9zM364.5,505.4h.9v.9h-.9zM366.7,507.3h.9v.9h-.9zM365.6,507.7h.9v.9h-.9zM363.9,483.0h.9v.9h-.9zM368.0,514.6h.9v.9h-.9zM368.4,516.2h.9v.9h-.9zM371.9,484.6h.9v.9h-.9zM368.9,507.1h.9v.9h-.9zM367.7,489.0h.9v.9h-.9zM370.9,507.7h.9v.9h-.9zM370.1,478.7h.9v.9h-.9zM371.0,517.3h.9v.9h-.9zM365.3,481.4h.9v.9h-.9zM369.6,517.1h.9v.9h-.9zM368.6,490.9h.9v.9h-.9zM366.9,504.4h.9v.9h-.9zM367.7,491.0h.9v.9h-.9zM369.0,497.8h.9v.9h-.9zM369.2,492.6h.9v.9h-.9zM370.5,518.2h.9v.9h-.9zM368.6,505.2h.9v.9h-.9zM367.3,497.1h.9v.9h-.9zM369.8,506.5h.9v.9h-.9zM368.5,508.3h.9v.9h-.9zM369.4,529.6h.9v.9h-.9zM366.6,530.1h.9v.9h-.9zM369.4,538.2h.9v.9h-.9zM370.3,531.5h.9v.9h-.9zM368.0,530.4h.9v.9h-.9zM368.7,539.5h.9v.9h-.9zM367.6,540.9h.9v.9h-.9zM371.6,529.2h.9v.9h-.9zM366.1,534.3h.9v.9h-.9zM368.4,537.4h.9v.9h-.9zM365.7,528.8h.9v.9h-.9zM368.4,535.5h.9v.9h-.9zM371.3,540.3h.9v.9h-.9zM369.4,546.2h.9v.9h-.9zM368.2,543.9h.9v.9h-.9zM368.4,547.0h.9v.9h-.9zM368.2,543.7h.9v.9h-.9zM365.1,545.3h.9v.9h-.9zM371.0,546.1h.9v.9h-.9zM369.1,550.1h.9v.9h-.9zM369.0,549.4h.9v.9h-.9zM381.2,488.1h.9v.9h-.9zM380.1,478.5h.9v.9h-.9zM378.9,503.4h.9v.9h-.9zM381.8,473.7h.9v.9h-.9zM380.5,514.8h.9v.9h-.9zM376.2,506.9h.9v.9h-.9zM379.1,506.4h.9v.9h-.9zM377.6,486.9h.9v.9h-.9zM379.2,474.1h.9v.9h-.9zM376.3,479.0h.9v.9h-.9zM381.2,477.5h.9v.9h-.9zM375.1,488.3h.9v.9h-.9zM377.3,512.1h.9v.9h-.9zM379.7,489.8h.9v.9h-.9zM374.5,498.6h.9v.9h-.9zM379.6,503.7h.9v.9h-.9zM381.1,473.6h.9v.9h-.9zM380.9,507.2h.9v.9h-.9zM379.4,497.1h.9v.9h-.9zM380.7,479.4h.9v.9h-.9zM379.9,493.3h.9v.9h-.9zM382.8,508.5h.9v.9h-.9zM383.5,500.7h.9v.9h-.9zM377.7,503.3h.9v.9h-.9zM376.8,541.6h.9v.9h-.9zM378.1,531.2h.9v.9h-.9zM380.0,532.1h.9v.9h-.9zM379.9,532.0h.9v.9h-.9zM381.1,529.2h.9v.9h-.9zM381.3,538.7h.9v.9h-.9zM380.4,531.6h.9v.9h-.9zM383.0,527.7h.9v.9h-.9zM378.4,543.3h.9v.9h-.9zM378.5,543.3h.9v.9h-.9zM379.8,542.7h.9v.9h-.9zM378.9,525.4h.9v.9h-.9zM375.5,536.3h.9v.9h-.9zM379.1,526.3h.9v.9h-.9zM381.7,529.3h.9v.9h-.9zM378.5,548.3h.9v.9h-.9zM380.7,564.1h.9v.9h-.9zM376.8,552.7h.9v.9h-.9zM383.1,562.0h.9v.9h-.9zM379.0,560.8h.9v.9h-.9zM381.0,561.3h.9v.9h-.9zM378.4,557.2h.9v.9h-.9zM376.3,547.8h.9v.9h-.9zM380.4,564.0h.9v.9h-.9zM378.6,547.7h.9v.9h-.9zM388.3,491.8h.9v.9h-.9zM387.4,486.5h.9v.9h-.9zM391.1,484.3h.9v.9h-.9zM387.8,483.3h.9v.9h-.9zM389.0,483.2h.9v.9h-.9zM393.4,492.8h.9v.9h-.9zM390.0,482.0h.9v.9h-.9zM390.7,488.0h.9v.9h-.9zM390.1,482.6h.9v.9h-.9zM391.3,477.7h.9v.9h-.9zM389.4,473.7h.9v.9h-.9zM388.6,497.0h.9v.9h-.9zM388.1,490.2h.9v.9h-.9zM388.4,500.9h.9v.9h-.9zM391.1,502.5h.9v.9h-.9zM389.9,503.1h.9v.9h-.9zM389.3,502.8h.9v.9h-.9zM389.2,507.3h.9v.9h-.9zM389.6,505.5h.9v.9h-.9zM391.3,504.0h.9v.9h-.9zM388.4,503.9h.9v.9h-.9zM394.3,501.4h.9v.9h-.9zM388.3,500.7h.9v.9h-.9zM388.6,513.2h.9v.9h-.9zM388.2,517.4h.9v.9h-.9zM391.7,520.6h.9v.9h-.9zM391.2,518.2h.9v.9h-.9zM392.7,520.5h.9v.9h-.9zM389.0,512.8h.9v.9h-.9zM390.6,513.5h.9v.9h-.9zM390.3,515.6h.9v.9h-.9zM388.2,514.7h.9v.9h-.9zM391.5,542.7h.9v.9h-.9zM393.3,534.8h.9v.9h-.9zM387.2,541.1h.9v.9h-.9zM389.7,538.8h.9v.9h-.9zM389.9,538.4h.9v.9h-.9zM389.4,528.5h.9v.9h-.9zM391.4,537.9h.9v.9h-.9zM388.7,525.1h.9v.9h-.9zM388.7,526.7h.9v.9h-.9zM390.7,537.2h.9v.9h-.9zM389.4,541.1h.9v.9h-.9zM390.0,565.0h.9v.9h-.9zM387.7,550.8h.9v.9h-.9zM392.7,556.5h.9v.9h-.9zM392.4,557.0h.9v.9h-.9zM391.5,555.4h.9v.9h-.9zM388.4,559.6h.9v.9h-.9zM387.8,563.3h.9v.9h-.9zM391.8,548.6h.9v.9h-.9zM389.1,564.7h.9v.9h-.9zM392.7,556.9h.9v.9h-.9zM386.4,557.7h.9v.9h-.9zM390.4,560.7h.9v.9h-.9zM390.8,560.8h.9v.9h-.9zM399.9,484.9h.9v.9h-.9zM402.4,473.2h.9v.9h-.9zM398.0,491.5h.9v.9h-.9zM400.3,492.1h.9v.9h-.9zM398.9,474.3h.9v.9h-.9zM402.5,474.5h.9v.9h-.9zM397.5,489.7h.9v.9h-.9zM398.0,487.7h.9v.9h-.9zM400.2,472.8h.9v.9h-.9zM399.6,473.0h.9v.9h-.9zM400.8,482.3h.9v.9h-.9zM400.2,474.8h.9v.9h-.9zM400.1,488.4h.9v.9h-.9zM400.8,499.6h.9v.9h-.9zM399.4,506.0h.9v.9h-.9zM398.8,500.1h.9v.9h-.9zM398.4,504.9h.9v.9h-.9zM400.7,504.8h.9v.9h-.9zM397.9,518.4h.9v.9h-.9zM399.3,511.0h.9v.9h-.9zM403.0,513.6h.9v.9h-.9zM401.3,512.8h.9v.9h-.9zM400.6,519.6h.9v.9h-.9zM399.1,516.8h.9v.9h-.9zM402.4,520.9h.9v.9h-.9zM399.6,513.0h.9v.9h-.9zM396.9,511.5h.9v.9h-.9zM400.5,519.6h.9v.9h-.9zM399.5,510.9h.9v.9h-.9zM400.8,527.5h.9v.9h-.9zM400.0,535.7h.9v.9h-.9zM399.2,544.6h.9v.9h-.9zM396.0,525.9h.9v.9h-.9zM401.7,538.8h.9v.9h-.9zM400.6,531.7h.9v.9h-.9zM399.2,526.1h.9v.9h-.9zM400.3,537.2h.9v.9h-.9zM400.5,541.9h.9v.9h-.9zM400.0,526.8h.9v.9h-.9zM399.8,543.7h.9v.9h-.9zM402.2,530.8h.9v.9h-.9zM400.1,555.2h.9v.9h-.9zM399.8,557.0h.9v.9h-.9zM401.2,556.9h.9v.9h-.9zM400.6,548.8h.9v.9h-.9zM400.7,553.6h.9v.9h-.9zM399.7,551.4h.9v.9h-.9zM400.2,548.5h.9v.9h-.9zM401.2,553.5h.9v.9h-.9zM403.8,555.0h.9v.9h-.9zM398.3,555.7h.9v.9h-.9zM400.5,554.8h.9v.9h-.9zM400.2,547.9h.9v.9h-.9zM403.2,555.9h.9v.9h-.9zM397.8,552.7h.9v.9h-.9zM409.9,492.7h.9v.9h-.9zM410.7,507.7h.9v.9h-.9zM409.7,492.4h.9v.9h-.9zM414.6,477.3h.9v.9h-.9zM407.8,492.6h.9v.9h-.9zM409.3,483.4h.9v.9h-.9zM408.9,513.9h.9v.9h-.9zM410.9,501.4h.9v.9h-.9zM411.6,472.0h.9v.9h-.9zM411.8,480.0h.9v.9h-.9zM411.5,480.1h.9v.9h-.9zM411.0,479.1h.9v.9h-.9zM407.4,472.8h.9v.9h-.9zM410.0,493.9h.9v.9h-.9zM409.4,499.7h.9v.9h-.9zM413.2,494.6h.9v.9h-.9zM410.1,491.2h.9v.9h-.9zM406.2,511.1h.9v.9h-.9zM415.4,489.3h.9v.9h-.9zM406.9,507.5h.9v.9h-.9zM411.7,501.0h.9v.9h-.9zM406.7,504.7h.9v.9h-.9zM413.6,478.9h.9v.9h-.9zM415.8,474.3h.9v.9h-.9zM412.7,491.1h.9v.9h-.9zM410.6,473.3h.9v.9h-.9zM410.9,492.0h.9v.9h-.9zM409.2,514.8h.9v.9h-.9zM408.0,515.7h.9v.9h-.9zM410.2,481.0h.9v.9h-.9zM404.9,554.4h.9v.9h-.9zM411.7,554.2h.9v.9h-.9zM411.6,564.5h.9v.9h-.9zM407.5,557.2h.9v.9h-.9zM408.8,562.5h.9v.9h-.9zM411.5,551.1h.9v.9h-.9zM410.2,560.0h.9v.9h-.9zM409.2,563.2h.9v.9h-.9zM410.7,557.1h.9v.9h-.9z" fill="#fff" opacity="0.2"/>
<path d="M277.7,534.5h.9v.9h-.9zM280.1,524.4h.9v.9h-.9zM279.1,537.8h.9v.9h-.9zM278.9,510.6h.9v.9h-.9zM278.3,518.1h.9v.9h-.9zM276.6,527.5h.9v.9h-.9zM295.6,550.0h.9v.9h-.9zM296.6,545.7h.9v.9h-.9zM296.3,546.7h.9v.9h-.9zM320.3,487.1h.9v.9h-.9zM317.2,475.8h.9v.9h-.9zM317.2,479.1h.9v.9h-.9zM321.1,474.7h.9v.9h-.9zM319.1,496.6h.9v.9h-.9zM319.0,477.0h.9v.9h-.9zM319.0,482.1h.9v.9h-.9zM319.2,497.2h.9v.9h-.9zM318.9,484.9h.9v.9h-.9zM319.1,485.4h.9v.9h-.9zM317.5,491.6h.9v.9h-.9zM318.6,494.9h.9v.9h-.9zM320.7,479.1h.9v.9h-.9zM321.3,482.7h.9v.9h-.9zM317.5,493.7h.9v.9h-.9zM318.6,495.2h.9v.9h-.9zM317.3,540.2h.9v.9h-.9zM318.8,526.9h.9v.9h-.9zM317.6,536.6h.9v.9h-.9zM318.1,536.8h.9v.9h-.9zM319.7,528.8h.9v.9h-.9zM316.0,535.4h.9v.9h-.9zM318.6,542.1h.9v.9h-.9zM315.4,529.7h.9v.9h-.9zM330.3,508.7h.9v.9h-.9zM326.3,498.4h.9v.9h-.9zM330.1,487.2h.9v.9h-.9zM330.6,497.3h.9v.9h-.9zM328.4,483.6h.9v.9h-.9zM328.8,492.9h.9v.9h-.9zM330.0,484.4h.9v.9h-.9zM329.6,478.3h.9v.9h-.9zM327.3,499.6h.9v.9h-.9zM328.9,490.3h.9v.9h-.9zM326.7,490.0h.9v.9h-.9zM329.1,473.9h.9v.9h-.9zM327.5,473.2h.9v.9h-.9zM332.1,505.1h.9v.9h-.9zM326.7,500.6h.9v.9h-.9zM338.3,516.8h.9v.9h-.9zM336.0,515.7h.9v.9h-.9zM337.6,517.7h.9v.9h-.9zM339.5,516.6h.9v.9h-.9zM337.4,513.9h.9v.9h-.9zM339.0,515.7h.9v.9h-.9zM340.2,511.3h.9v.9h-.9zM339.9,535.2h.9v.9h-.9zM338.8,530.2h.9v.9h-.9zM339.3,524.8h.9v.9h-.9zM337.5,536.8h.9v.9h-.9zM337.7,535.4h.9v.9h-.9zM351.5,511.3h.9v.9h-.9zM350.7,508.5h.9v.9h-.9zM351.5,510.0h.9v.9h-.9zM349.9,552.2h.9v.9h-.9zM348.9,547.5h.9v.9h-.9zM349.0,552.3h.9v.9h-.9zM357.0,504.5h.9v.9h-.9zM361.3,505.7h.9v.9h-.9zM359.8,513.4h.9v.9h-.9zM358.4,510.6h.9v.9h-.9zM358.8,511.8h.9v.9h-.9zM358.4,500.5h.9v.9h-.9zM360.1,503.0h.9v.9h-.9zM358.6,514.9h.9v.9h-.9zM357.7,514.8h.9v.9h-.9zM358.2,544.6h.9v.9h-.9zM359.7,549.7h.9v.9h-.9zM361.9,537.5h.9v.9h-.9zM358.6,542.8h.9v.9h-.9zM358.9,548.2h.9v.9h-.9zM365.6,527.1h.9v.9h-.9zM369.2,533.6h.9v.9h-.9zM368.8,539.1h.9v.9h-.9zM367.7,529.2h.9v.9h-.9zM365.4,533.0h.9v.9h-.9zM370.0,531.7h.9v.9h-.9zM374.1,482.7h.9v.9h-.9zM376.3,492.8h.9v.9h-.9zM374.3,480.5h.9v.9h-.9zM377.4,482.0h.9v.9h-.9zM378.8,478.3h.9v.9h-.9zM380.8,500.9h.9v.9h-.9zM378.6,513.6h.9v.9h-.9zM379.5,492.3h.9v.9h-.9zM378.4,480.3h.9v.9h-.9zM381.8,487.0h.9v.9h-.9zM379.1,517.2h.9v.9h-.9zM376.8,515.8h.9v.9h-.9zM378.4,503.1h.9v.9h-.9zM382.1,482.1h.9v.9h-.9zM380.3,487.7h.9v.9h-.9zM377.8,509.4h.9v.9h-.9zM378.4,519.4h.9v.9h-.9zM377.8,511.3h.9v.9h-.9zM378.3,482.8h.9v.9h-.9zM376.0,503.6h.9v.9h-.9zM381.5,502.9h.9v.9h-.9zM382.2,508.3h.9v.9h-.9zM378.9,500.8h.9v.9h-.9zM382.5,478.7h.9v.9h-.9zM376.5,493.4h.9v.9h-.9zM380.7,559.3h.9v.9h-.9zM380.6,555.9h.9v.9h-.9zM375.7,548.3h.9v.9h-.9zM377.9,559.7h.9v.9h-.9zM381.0,563.2h.9v.9h-.9zM378.7,552.6h.9v.9h-.9zM390.2,477.1h.9v.9h-.9zM387.8,476.9h.9v.9h-.9zM389.2,486.6h.9v.9h-.9zM390.0,492.1h.9v.9h-.9zM388.4,490.6h.9v.9h-.9zM390.2,478.9h.9v.9h-.9zM388.8,480.0h.9v.9h-.9zM388.8,474.4h.9v.9h-.9zM389.5,483.6h.9v.9h-.9zM388.2,479.1h.9v.9h-.9zM391.9,516.6h.9v.9h-.9zM393.2,518.1h.9v.9h-.9zM387.2,516.4h.9v.9h-.9zM390.2,517.2h.9v.9h-.9zM387.2,511.2h.9v.9h-.9zM391.3,557.2h.9v.9h-.9zM390.3,556.8h.9v.9h-.9zM390.7,550.6h.9v.9h-.9zM390.2,556.8h.9v.9h-.9zM389.1,561.1h.9v.9h-.9zM389.1,550.4h.9v.9h-.9zM387.7,553.6h.9v.9h-.9zM399.1,480.6h.9v.9h-.9zM398.7,489.4h.9v.9h-.9zM400.5,488.1h.9v.9h-.9zM400.6,490.5h.9v.9h-.9zM398.2,478.7h.9v.9h-.9zM399.5,493.4h.9v.9h-.9zM404.0,500.0h.9v.9h-.9zM401.9,504.5h.9v.9h-.9zM398.8,506.2h.9v.9h-.9zM395.8,507.2h.9v.9h-.9zM399.5,510.9h.9v.9h-.9zM400.6,542.0h.9v.9h-.9zM403.1,541.5h.9v.9h-.9zM400.2,540.3h.9v.9h-.9zM399.6,532.2h.9v.9h-.9zM402.5,526.8h.9v.9h-.9zM401.5,537.1h.9v.9h-.9zM402.9,542.0h.9v.9h-.9zM397.2,543.4h.9v.9h-.9zM402.0,527.8h.9v.9h-.9zM401.7,541.7h.9v.9h-.9zM403.4,537.7h.9v.9h-.9zM412.4,559.0h.9v.9h-.9zM409.8,553.0h.9v.9h-.9zM409.1,557.0h.9v.9h-.9zM407.3,563.8h.9v.9h-.9zM411.2,551.9h.9v.9h-.9zM410.2,550.8h.9v.9h-.9zM411.4,562.2h.9v.9h-.9zM409.4,554.0h.9v.9h-.9z" fill="#fff" opacity="0.4"/>
<path d="M278.9,512.7h.9v.9h-.9zM277.5,519.7h.9v.9h-.9zM279.2,522.9h.9v.9h-.9zM277.0,537.5h.9v.9h-.9zM275.2,531.0h.9v.9h-.9zM279.3,530.5h.9v.9h-.9zM279.8,540.7h.9v.9h-.9zM280.1,519.0h.9v.9h-.9zM280.9,533.3h.9v.9h-.9zM278.1,517.6h.9v.9h-.9zM279.8,536.5h.9v.9h-.9zM276.4,519.1h.9v.9h-.9zM276.5,533.6h.9v.9h-.9zM279.0,530.9h.9v.9h-.9zM279.0,538.6h.9v.9h-.9zM275.7,516.7h.9v.9h-.9zM278.6,537.8h.9v.9h-.9zM275.5,545.1h.9v.9h-.9zM295.6,542.5h.9v.9h-.9zM295.3,548.7h.9v.9h-.9zM298.6,542.8h.9v.9h-.9zM296.5,546.0h.9v.9h-.9zM297.9,548.6h.9v.9h-.9zM300.7,546.6h.9v.9h-.9zM310.2,488.4h.9v.9h-.9zM309.0,495.8h.9v.9h-.9zM309.7,485.1h.9v.9h-.9zM307.9,473.5h.9v.9h-.9zM311.2,517.8h.9v.9h-.9zM309.8,494.2h.9v.9h-.9zM308.7,475.2h.9v.9h-.9zM309.1,475.5h.9v.9h-.9zM308.2,516.1h.9v.9h-.9zM308.3,506.2h.9v.9h-.9zM308.9,486.0h.9v.9h-.9zM308.2,481.9h.9v.9h-.9zM309.0,480.6h.9v.9h-.9zM310.0,504.0h.9v.9h-.9zM309.9,501.0h.9v.9h-.9zM309.6,533.7h.9v.9h-.9zM307.3,543.5h.9v.9h-.9zM307.1,543.8h.9v.9h-.9zM309.7,546.8h.9v.9h-.9zM310.4,550.0h.9v.9h-.9zM311.1,543.9h.9v.9h-.9zM312.4,549.0h.9v.9h-.9zM307.8,548.1h.9v.9h-.9zM308.3,548.6h.9v.9h-.9zM318.8,499.7h.9v.9h-.9zM318.7,479.3h.9v.9h-.9zM322.7,502.0h.9v.9h-.9zM317.6,500.7h.9v.9h-.9zM317.8,474.5h.9v.9h-.9zM317.0,477.6h.9v.9h-.9zM318.3,493.8h.9v.9h-.9zM317.3,480.3h.9v.9h-.9zM315.8,488.6h.9v.9h-.9zM319.0,479.5h.9v.9h-.9zM321.9,502.0h.9v.9h-.9zM317.0,503.8h.9v.9h-.9zM321.9,480.1h.9v.9h-.9zM315.7,488.4h.9v.9h-.9zM317.0,497.9h.9v.9h-.9zM319.7,520.2h.9v.9h-.9zM317.5,520.4h.9v.9h-.9zM320.8,508.2h.9v.9h-.9zM317.2,517.0h.9v.9h-.9zM318.7,508.9h.9v.9h-.9zM316.0,517.3h.9v.9h-.9zM318.9,516.5h.9v.9h-.9zM317.9,519.4h.9v.9h-.9zM318.3,520.5h.9v.9h-.9zM318.9,517.6h.9v.9h-.9zM318.6,513.7h.9v.9h-.9zM318.1,531.4h.9v.9h-.9zM320.6,535.3h.9v.9h-.9zM316.8,529.1h.9v.9h-.9zM318.6,538.0h.9v.9h-.9zM319.8,528.9h.9v.9h-.9zM317.3,541.1h.9v.9h-.9zM320.1,542.0h.9v.9h-.9zM318.0,532.3h.9v.9h-.9zM329.5,477.4h.9v.9h-.9zM326.4,501.5h.9v.9h-.9zM329.3,494.1h.9v.9h-.9zM330.8,499.4h.9v.9h-.9zM325.7,473.2h.9v.9h-.9zM330.5,496.3h.9v.9h-.9zM326.1,498.4h.9v.9h-.9zM326.4,507.9h.9v.9h-.9zM330.5,506.6h.9v.9h-.9zM327.9,507.9h.9v.9h-.9zM325.9,494.1h.9v.9h-.9zM331.3,474.5h.9v.9h-.9zM328.2,476.3h.9v.9h-.9zM326.3,503.5h.9v.9h-.9zM337.2,479.1h.9v.9h-.9zM339.7,491.9h.9v.9h-.9zM339.2,485.4h.9v.9h-.9zM338.8,478.6h.9v.9h-.9zM340.2,493.5h.9v.9h-.9zM340.3,478.0h.9v.9h-.9zM339.5,488.8h.9v.9h-.9zM342.2,475.3h.9v.9h-.9zM338.6,474.3h.9v.9h-.9zM339.2,494.9h.9v.9h-.9zM336.1,478.4h.9v.9h-.9zM338.9,488.0h.9v.9h-.9zM339.5,491.4h.9v.9h-.9zM336.9,485.5h.9v.9h-.9zM335.5,513.5h.9v.9h-.9zM335.8,511.0h.9v.9h-.9zM340.9,511.2h.9v.9h-.9zM339.6,513.8h.9v.9h-.9zM338.3,512.0h.9v.9h-.9zM340.2,511.2h.9v.9h-.9zM338.0,514.8h.9v.9h-.9zM339.4,514.5h.9v.9h-.9zM339.8,533.3h.9v.9h-.9zM339.6,530.1h.9v.9h-.9zM338.6,532.5h.9v.9h-.9zM337.9,530.8h.9v.9h-.9zM339.2,521.9h.9v.9h-.9zM339.8,527.3h.9v.9h-.9zM342.0,532.2h.9v.9h-.9zM337.2,532.9h.9v.9h-.9zM340.1,538.3h.9v.9h-.9zM335.8,524.4h.9v.9h-.9zM338.7,528.2h.9v.9h-.9zM339.7,524.7h.9v.9h-.9zM350.8,510.8h.9v.9h-.9zM352.5,502.3h.9v.9h-.9zM350.2,507.1h.9v.9h-.9zM349.9,503.5h.9v.9h-.9zM346.9,505.0h.9v.9h-.9zM349.7,511.5h.9v.9h-.9zM350.3,500.5h.9v.9h-.9zM349.1,505.7h.9v.9h-.9zM352.8,507.7h.9v.9h-.9zM347.4,543.2h.9v.9h-.9zM351.1,547.0h.9v.9h-.9zM351.1,543.9h.9v.9h-.9zM352.7,551.0h.9v.9h-.9zM347.5,553.7h.9v.9h-.9zM350.7,546.3h.9v.9h-.9zM351.5,552.9h.9v.9h-.9zM352.6,549.1h.9v.9h-.9zM348.1,544.5h.9v.9h-.9zM346.6,543.6h.9v.9h-.9zM347.5,551.3h.9v.9h-.9zM360.1,502.2h.9v.9h-.9zM357.9,513.6h.9v.9h-.9zM360.3,508.5h.9v.9h-.9zM360.3,499.3h.9v.9h-.9zM360.8,506.8h.9v.9h-.9zM360.3,500.1h.9v.9h-.9zM359.9,514.2h.9v.9h-.9zM358.9,530.6h.9v.9h-.9zM357.5,530.7h.9v.9h-.9zM356.7,531.5h.9v.9h-.9zM358.7,533.0h.9v.9h-.9zM356.9,545.8h.9v.9h-.9zM359.4,539.5h.9v.9h-.9zM360.0,547.9h.9v.9h-.9zM356.9,541.2h.9v.9h-.9zM363.3,539.4h.9v.9h-.9zM357.6,546.6h.9v.9h-.9zM358.9,548.4h.9v.9h-.9zM359.3,549.8h.9v.9h-.9zM359.8,546.9h.9v.9h-.9zM358.2,549.2h.9v.9h-.9zM358.4,541.7h.9v.9h-.9zM362.8,548.2h.9v.9h-.9zM360.5,541.7h.9v.9h-.9zM367.7,513.4h.9v.9h-.9zM369.3,511.6h.9v.9h-.9zM365.5,483.3h.9v.9h-.9zM369.3,474.4h.9v.9h-.9zM364.1,505.2h.9v.9h-.9zM368.9,498.8h.9v.9h-.9zM372.0,489.4h.9v.9h-.9zM365.0,502.8h.9v.9h-.9zM371.0,504.6h.9v.9h-.9zM368.2,507.6h.9v.9h-.9zM370.1,478.6h.9v.9h-.9zM369.3,491.5h.9v.9h-.9zM371.0,484.4h.9v.9h-.9zM369.3,509.2h.9v.9h-.9zM367.3,478.9h.9v.9h-.9zM365.5,478.7h.9v.9h-.9zM368.9,516.0h.9v.9h-.9zM367.4,488.2h.9v.9h-.9zM367.4,504.3h.9v.9h-.9zM369.4,472.5h.9v.9h-.9zM369.2,482.6h.9v.9h-.9zM367.8,538.3h.9v.9h-.9zM367.9,539.8h.9v.9h-.9zM370.7,527.3h.9v.9h-.9zM368.4,532.7h.9v.9h-.9zM364.9,527.1h.9v.9h-.9zM368.2,544.5h.9v.9h-.9zM370.5,543.4h.9v.9h-.9zM368.3,547.7h.9v.9h-.9zM365.7,550.8h.9v.9h-.9zM368.6,545.7h.9v.9h-.9zM382.3,473.3h.9v.9h-.9zM381.1,487.5h.9v.9h-.9zM382.2,497.5h.9v.9h-.9zM379.5,501.9h.9v.9h-.9zM380.6,480.5h.9v.9h-.9zM382.0,517.8h.9v.9h-.9zM377.1,494.6h.9v.9h-.9zM381.7,482.3h.9v.9h-.9zM378.3,512.8h.9v.9h-.9zM380.0,478.0h.9v.9h-.9zM378.9,497.7h.9v.9h-.9zM376.5,517.7h.9v.9h-.9zM381.1,500.8h.9v.9h-.9zM382.4,502.7h.9v.9h-.9zM380.6,520.0h.9v.9h-.9zM377.5,501.3h.9v.9h-.9zM377.7,481.0h.9v.9h-.9zM377.5,481.3h.9v.9h-.9zM377.5,501.1h.9v.9h-.9zM382.2,503.2h.9v.9h-.9zM376.6,509.3h.9v.9h-.9zM380.3,476.1h.9v.9h-.9zM382.0,474.1h.9v.9h-.9zM380.8,473.2h.9v.9h-.9zM379.7,515.6h.9v.9h-.9zM377.6,474.9h.9v.9h-.9zM382.0,555.9h.9v.9h-.9zM379.3,549.6h.9v.9h-.9zM378.6,550.4h.9v.9h-.9zM378.9,552.2h.9v.9h-.9zM383.2,561.9h.9v.9h-.9zM378.6,554.9h.9v.9h-.9zM380.8,548.8h.9v.9h-.9zM378.5,553.4h.9v.9h-.9zM391.8,492.3h.9v.9h-.9zM388.1,488.5h.9v.9h-.9zM389.6,472.7h.9v.9h-.9zM392.8,496.5h.9v.9h-.9zM390.6,484.2h.9v.9h-.9zM391.2,489.2h.9v.9h-.9zM388.4,486.4h.9v.9h-.9zM390.9,482.8h.9v.9h-.9zM390.2,495.7h.9v.9h-.9zM391.1,489.2h.9v.9h-.9zM390.0,473.5h.9v.9h-.9zM389.5,475.3h.9v.9h-.9zM387.0,502.0h.9v.9h-.9zM388.1,505.5h.9v.9h-.9zM391.2,519.8h.9v.9h-.9zM386.7,520.8h.9v.9h-.9zM391.3,517.8h.9v.9h-.9zM388.8,519.2h.9v.9h-.9zM388.5,514.9h.9v.9h-.9zM390.0,516.5h.9v.9h-.9zM394.3,513.5h.9v.9h-.9zM389.7,519.3h.9v.9h-.9zM389.6,514.9h.9v.9h-.9zM392.6,511.8h.9v.9h-.9zM388.3,553.0h.9v.9h-.9zM389.5,563.6h.9v.9h-.9zM386.8,562.8h.9v.9h-.9zM388.2,550.2h.9v.9h-.9zM388.7,547.9h.9v.9h-.9zM388.8,561.8h.9v.9h-.9zM389.1,549.5h.9v.9h-.9zM390.8,563.9h.9v.9h-.9zM392.7,548.0h.9v.9h-.9zM398.7,489.6h.9v.9h-.9zM400.1,484.5h.9v.9h-.9zM400.2,488.3h.9v.9h-.9zM403.0,473.6h.9v.9h-.9zM401.3,482.0h.9v.9h-.9zM398.7,473.0h.9v.9h-.9zM399.9,481.2h.9v.9h-.9zM401.3,475.0h.9v.9h-.9zM400.2,486.1h.9v.9h-.9zM404.5,478.7h.9v.9h-.9zM397.7,493.2h.9v.9h-.9zM404.3,477.1h.9v.9h-.9zM396.5,505.2h.9v.9h-.9zM395.8,506.6h.9v.9h-.9zM398.5,500.1h.9v.9h-.9zM397.6,500.6h.9v.9h-.9zM400.0,512.3h.9v.9h-.9zM405.1,519.5h.9v.9h-.9zM399.6,512.1h.9v.9h-.9zM397.0,518.8h.9v.9h-.9zM403.8,525.1h.9v.9h-.9zM401.0,530.6h.9v.9h-.9zM395.3,544.1h.9v.9h-.9zM399.0,543.2h.9v.9h-.9zM397.9,540.3h.9v.9h-.9zM400.2,544.0h.9v.9h-.9zM398.6,535.5h.9v.9h-.9zM398.2,526.9h.9v.9h-.9zM398.9,542.7h.9v.9h-.9zM400.3,540.4h.9v.9h-.9zM399.3,539.9h.9v.9h-.9zM401.2,538.6h.9v.9h-.9zM400.7,537.5h.9v.9h-.9zM398.8,549.4h.9v.9h-.9zM399.0,547.5h.9v.9h-.9zM410.0,511.9h.9v.9h-.9zM410.0,484.9h.9v.9h-.9zM407.9,516.7h.9v.9h-.9zM410.2,484.4h.9v.9h-.9zM407.3,478.8h.9v.9h-.9zM412.1,507.1h.9v.9h-.9zM407.7,479.2h.9v.9h-.9zM411.3,502.5h.9v.9h-.9zM412.0,511.2h.9v.9h-.9zM408.3,474.1h.9v.9h-.9zM410.9,509.1h.9v.9h-.9zM408.8,482.3h.9v.9h-.9zM409.6,512.9h.9v.9h-.9zM407.3,484.2h.9v.9h-.9zM412.1,499.3h.9v.9h-.9zM411.5,516.2h.9v.9h-.9zM410.6,499.4h.9v.9h-.9zM409.0,473.6h.9v.9h-.9zM411.3,492.0h.9v.9h-.9zM410.8,505.3h.9v.9h-.9zM410.1,563.5h.9v.9h-.9zM411.0,551.6h.9v.9h-.9zM412.0,560.5h.9v.9h-.9zM410.3,558.2h.9v.9h-.9zM410.8,551.7h.9v.9h-.9zM409.1,561.7h.9v.9h-.9zM409.2,553.9h.9v.9h-.9zM410.1,560.6h.9v.9h-.9zM413.8,560.6h.9v.9h-.9z" fill="#000" opacity="0.3"/>
<path d="M277.7,535.6h.9v.9h-.9zM281.7,518.1h.9v.9h-.9zM279.8,511.8h.9v.9h-.9zM276.7,535.1h.9v.9h-.9zM278.3,527.7h.9v.9h-.9zM277.6,540.4h.9v.9h-.9zM275.4,521.8h.9v.9h-.9zM275.0,520.6h.9v.9h-.9zM280.1,527.6h.9v.9h-.9zM278.3,533.1h.9v.9h-.9zM277.7,537.7h.9v.9h-.9zM278.3,515.7h.9v.9h-.9zM277.8,531.0h.9v.9h-.9zM280.9,535.6h.9v.9h-.9zM279.9,518.0h.9v.9h-.9zM277.4,529.7h.9v.9h-.9zM279.4,536.2h.9v.9h-.9zM280.1,512.4h.9v.9h-.9zM280.8,535.1h.9v.9h-.9zM319.8,485.7h.9v.9h-.9zM319.3,499.9h.9v.9h-.9zM315.9,473.0h.9v.9h-.9zM320.4,482.3h.9v.9h-.9zM317.8,476.2h.9v.9h-.9zM319.8,499.6h.9v.9h-.9zM320.7,476.6h.9v.9h-.9zM316.5,501.5h.9v.9h-.9zM315.6,495.5h.9v.9h-.9zM316.5,483.3h.9v.9h-.9zM321.4,484.1h.9v.9h-.9zM320.6,502.9h.9v.9h-.9zM319.5,489.0h.9v.9h-.9zM318.1,480.5h.9v.9h-.9zM317.1,482.7h.9v.9h-.9zM316.9,472.7h.9v.9h-.9zM317.2,483.2h.9v.9h-.9zM319.3,496.8h.9v.9h-.9zM316.1,501.8h.9v.9h-.9zM316.6,492.6h.9v.9h-.9zM317.8,482.3h.9v.9h-.9zM318.5,485.8h.9v.9h-.9zM320.5,481.5h.9v.9h-.9zM321.7,493.5h.9v.9h-.9zM314.6,529.9h.9v.9h-.9zM318.8,526.4h.9v.9h-.9zM319.0,536.3h.9v.9h-.9zM318.6,528.8h.9v.9h-.9zM319.2,541.0h.9v.9h-.9zM319.5,531.4h.9v.9h-.9zM318.9,533.1h.9v.9h-.9zM320.0,538.6h.9v.9h-.9zM318.3,526.8h.9v.9h-.9zM313.3,534.6h.9v.9h-.9zM317.8,529.0h.9v.9h-.9zM315.8,543.7h.9v.9h-.9zM318.1,541.9h.9v.9h-.9zM320.5,536.2h.9v.9h-.9zM320.1,539.4h.9v.9h-.9zM317.1,534.3h.9v.9h-.9zM327.6,480.2h.9v.9h-.9zM329.4,495.8h.9v.9h-.9zM328.0,498.2h.9v.9h-.9zM327.2,481.6h.9v.9h-.9zM328.2,507.8h.9v.9h-.9zM328.4,494.0h.9v.9h-.9zM327.4,497.4h.9v.9h-.9zM326.9,473.8h.9v.9h-.9zM323.7,481.2h.9v.9h-.9zM328.2,508.9h.9v.9h-.9zM326.0,482.4h.9v.9h-.9zM327.6,496.1h.9v.9h-.9zM327.7,479.5h.9v.9h-.9zM328.9,483.1h.9v.9h-.9zM328.6,484.5h.9v.9h-.9zM327.6,485.8h.9v.9h-.9zM330.2,484.3h.9v.9h-.9zM327.7,504.3h.9v.9h-.9zM325.1,494.3h.9v.9h-.9zM325.2,480.8h.9v.9h-.9zM326.3,482.5h.9v.9h-.9zM335.6,512.6h.9v.9h-.9zM335.7,509.0h.9v.9h-.9zM335.9,514.1h.9v.9h-.9zM336.3,517.1h.9v.9h-.9zM333.9,512.5h.9v.9h-.9zM339.9,512.5h.9v.9h-.9zM340.8,510.9h.9v.9h-.9zM335.2,536.5h.9v.9h-.9zM339.7,534.8h.9v.9h-.9zM336.3,527.9h.9v.9h-.9zM350.6,509.2h.9v.9h-.9zM350.1,511.9h.9v.9h-.9zM350.1,508.1h.9v.9h-.9zM350.2,503.3h.9v.9h-.9zM352.3,506.3h.9v.9h-.9zM348.1,509.1h.9v.9h-.9zM351.2,503.2h.9v.9h-.9zM351.1,501.7h.9v.9h-.9zM349.8,500.3h.9v.9h-.9zM350.2,512.8h.9v.9h-.9zM354.1,510.1h.9v.9h-.9zM359.6,506.8h.9v.9h-.9zM357.3,503.1h.9v.9h-.9zM359.4,514.5h.9v.9h-.9zM362.5,512.4h.9v.9h-.9zM358.7,504.2h.9v.9h-.9zM359.6,504.8h.9v.9h-.9zM355.1,501.8h.9v.9h-.9zM361.6,507.7h.9v.9h-.9zM357.9,501.5h.9v.9h-.9zM355.9,538.0h.9v.9h-.9zM359.3,550.0h.9v.9h-.9zM368.7,527.1h.9v.9h-.9zM370.3,528.8h.9v.9h-.9zM365.6,527.0h.9v.9h-.9zM370.7,529.3h.9v.9h-.9zM365.6,529.8h.9v.9h-.9zM367.5,540.7h.9v.9h-.9zM366.8,528.2h.9v.9h-.9zM367.3,530.1h.9v.9h-.9zM381.5,498.8h.9v.9h-.9zM381.5,492.0h.9v.9h-.9zM377.3,493.1h.9v.9h-.9zM377.5,517.0h.9v.9h-.9zM376.5,485.7h.9v.9h-.9zM378.6,485.7h.9v.9h-.9zM378.4,517.6h.9v.9h-.9zM380.2,481.1h.9v.9h-.9zM377.7,503.8h.9v.9h-.9zM378.7,489.7h.9v.9h-.9zM380.5,495.7h.9v.9h-.9zM379.9,514.1h.9v.9h-.9zM375.7,507.2h.9v.9h-.9zM379.5,481.2h.9v.9h-.9zM374.9,481.9h.9v.9h-.9zM376.3,492.5h.9v.9h-.9zM379.1,502.7h.9v.9h-.9zM377.4,489.4h.9v.9h-.9zM375.6,516.7h.9v.9h-.9zM380.2,520.5h.9v.9h-.9zM377.7,490.9h.9v.9h-.9zM377.5,492.1h.9v.9h-.9zM380.3,494.7h.9v.9h-.9zM378.8,517.6h.9v.9h-.9zM378.4,494.4h.9v.9h-.9zM378.1,486.8h.9v.9h-.9zM380.7,562.3h.9v.9h-.9zM381.8,562.4h.9v.9h-.9zM381.4,552.4h.9v.9h-.9zM376.6,558.9h.9v.9h-.9zM380.7,553.7h.9v.9h-.9zM378.1,564.6h.9v.9h-.9zM381.0,557.2h.9v.9h-.9zM388.2,496.5h.9v.9h-.9zM387.2,491.6h.9v.9h-.9zM393.5,482.9h.9v.9h-.9zM391.7,491.0h.9v.9h-.9zM387.6,489.3h.9v.9h-.9zM389.4,497.7h.9v.9h-.9zM389.0,478.1h.9v.9h-.9zM389.5,495.2h.9v.9h-.9zM389.1,485.6h.9v.9h-.9zM392.0,497.8h.9v.9h-.9zM390.7,483.0h.9v.9h-.9zM389.8,487.5h.9v.9h-.9zM391.9,490.1h.9v.9h-.9zM387.1,514.8h.9v.9h-.9zM391.1,512.4h.9v.9h-.9zM388.6,515.0h.9v.9h-.9zM391.0,513.9h.9v.9h-.9zM388.4,520.7h.9v.9h-.9zM390.9,520.6h.9v.9h-.9zM388.8,555.1h.9v.9h-.9zM393.6,564.5h.9v.9h-.9zM390.5,564.8h.9v.9h-.9zM389.2,557.1h.9v.9h-.9zM391.1,550.4h.9v.9h-.9zM390.2,547.9h.9v.9h-.9zM399.8,484.6h.9v.9h-.9zM400.0,473.4h.9v.9h-.9zM401.5,477.2h.9v.9h-.9zM399.3,481.3h.9v.9h-.9zM399.0,482.5h.9v.9h-.9zM400.8,507.0h.9v.9h-.9zM398.4,501.5h.9v.9h-.9zM397.9,499.1h.9v.9h-.9zM400.5,502.5h.9v.9h-.9zM401.2,519.0h.9v.9h-.9zM400.9,534.5h.9v.9h-.9zM399.2,528.2h.9v.9h-.9zM401.3,532.2h.9v.9h-.9zM398.2,544.1h.9v.9h-.9zM398.9,540.0h.9v.9h-.9zM398.5,527.9h.9v.9h-.9zM400.1,535.8h.9v.9h-.9zM404.3,531.7h.9v.9h-.9zM399.4,532.2h.9v.9h-.9zM399.8,543.2h.9v.9h-.9zM398.6,533.0h.9v.9h-.9zM411.5,558.2h.9v.9h-.9zM408.0,562.9h.9v.9h-.9zM409.4,558.9h.9v.9h-.9zM409.6,554.4h.9v.9h-.9z" fill="#000" opacity="0.4"/>
<path d="M280.3,533.3h.9v.9h-.9zM277.6,513.9h.9v.9h-.9zM282.0,539.3h.9v.9h-.9zM274.0,520.7h.9v.9h-.9zM281.8,522.1h.9v.9h-.9zM280.7,519.0h.9v.9h-.9zM277.2,526.3h.9v.9h-.9zM279.0,521.0h.9v.9h-.9zM279.9,516.4h.9v.9h-.9zM277.4,517.9h.9v.9h-.9zM278.3,509.9h.9v.9h-.9zM278.4,521.5h.9v.9h-.9zM279.5,522.3h.9v.9h-.9zM275.9,514.9h.9v.9h-.9zM276.9,547.6h.9v.9h-.9zM298.6,549.9h.9v.9h-.9zM300.2,546.6h.9v.9h-.9zM298.2,548.4h.9v.9h-.9zM298.0,544.2h.9v.9h-.9zM300.1,548.7h.9v.9h-.9zM297.9,542.8h.9v.9h-.9zM309.6,478.5h.9v.9h-.9zM309.3,504.3h.9v.9h-.9zM312.1,517.3h.9v.9h-.9zM309.5,499.2h.9v.9h-.9zM308.8,498.8h.9v.9h-.9zM308.2,507.1h.9v.9h-.9zM310.4,495.9h.9v.9h-.9zM310.8,480.9h.9v.9h-.9zM308.2,484.5h.9v.9h-.9zM310.8,509.3h.9v.9h-.9zM309.4,496.0h.9v.9h-.9zM308.9,498.7h.9v.9h-.9zM310.0,531.6h.9v.9h-.9zM312.9,544.0h.9v.9h-.9zM306.7,546.7h.9v.9h-.9zM317.7,503.5h.9v.9h-.9zM316.5,489.9h.9v.9h-.9zM318.2,503.5h.9v.9h-.9zM318.5,480.5h.9v.9h-.9zM318.8,479.0h.9v.9h-.9zM317.5,504.3h.9v.9h-.9zM318.0,492.9h.9v.9h-.9zM323.1,496.6h.9v.9h-.9zM318.4,486.8h.9v.9h-.9zM316.9,496.4h.9v.9h-.9zM319.5,490.3h.9v.9h-.9zM317.2,512.3h.9v.9h-.9zM320.3,519.3h.9v.9h-.9zM317.1,512.3h.9v.9h-.9zM316.8,511.4h.9v.9h-.9zM318.0,513.5h.9v.9h-.9zM318.5,512.3h.9v.9h-.9zM323.1,519.1h.9v.9h-.9zM319.2,539.4h.9v.9h-.9zM319.0,528.8h.9v.9h-.9zM318.0,527.5h.9v.9h-.9zM318.0,543.0h.9v.9h-.9zM320.7,531.1h.9v.9h-.9zM320.3,528.7h.9v.9h-.9zM320.1,538.6h.9v.9h-.9zM318.4,526.4h.9v.9h-.9zM320.5,532.3h.9v.9h-.9zM327.3,502.5h.9v.9h-.9zM328.1,496.1h.9v.9h-.9zM329.1,485.2h.9v.9h-.9zM328.5,507.7h.9v.9h-.9zM329.3,490.6h.9v.9h-.9zM326.6,493.1h.9v.9h-.9zM326.9,480.4h.9v.9h-.9zM327.1,486.4h.9v.9h-.9zM328.8,508.6h.9v.9h-.9zM328.6,486.0h.9v.9h-.9zM330.7,490.3h.9v.9h-.9zM329.6,494.5h.9v.9h-.9zM329.9,485.4h.9v.9h-.9zM327.1,499.7h.9v.9h-.9zM330.0,476.7h.9v.9h-.9zM329.3,479.8h.9v.9h-.9zM328.0,504.6h.9v.9h-.9zM328.7,491.7h.9v.9h-.9zM329.2,476.8h.9v.9h-.9zM329.6,487.0h.9v.9h-.9zM338.7,493.4h.9v.9h-.9zM338.6,484.7h.9v.9h-.9zM341.2,484.1h.9v.9h-.9zM337.5,478.0h.9v.9h-.9zM338.6,486.5h.9v.9h-.9zM339.6,516.3h.9v.9h-.9zM341.4,512.2h.9v.9h-.9zM337.6,518.8h.9v.9h-.9zM335.5,516.0h.9v.9h-.9zM339.5,518.9h.9v.9h-.9zM341.3,524.0h.9v.9h-.9zM338.0,533.4h.9v.9h-.9zM337.6,522.4h.9v.9h-.9zM339.3,528.0h.9v.9h-.9zM338.5,523.0h.9v.9h-.9zM335.2,523.5h.9v.9h-.9zM340.5,525.8h.9v.9h-.9zM335.8,533.6h.9v.9h-.9zM337.9,524.5h.9v.9h-.9zM337.8,529.5h.9v.9h-.9zM340.0,522.6h.9v.9h-.9zM333.9,533.4h.9v.9h-.9zM337.9,529.7h.9v.9h-.9zM347.8,508.8h.9v.9h-.9zM348.1,501.6h.9v.9h-.9zM349.4,509.3h.9v.9h-.9zM349.8,502.3h.9v.9h-.9zM348.9,549.5h.9v.9h-.9zM349.9,546.0h.9v.9h-.9zM350.6,549.4h.9v.9h-.9zM352.9,548.2h.9v.9h-.9zM360.0,506.1h.9v.9h-.9zM360.9,505.9h.9v.9h-.9zM359.2,508.3h.9v.9h-.9zM360.8,512.3h.9v.9h-.9zM359.1,509.8h.9v.9h-.9zM356.7,499.4h.9v.9h-.9zM358.6,507.5h.9v.9h-.9zM357.5,500.4h.9v.9h-.9zM359.4,510.6h.9v.9h-.9zM359.1,544.5h.9v.9h-.9zM361.5,547.2h.9v.9h-.9zM360.0,540.6h.9v.9h-.9zM357.2,537.0h.9v.9h-.9zM357.7,548.4h.9v.9h-.9zM358.5,542.5h.9v.9h-.9zM359.5,541.1h.9v.9h-.9zM360.4,550.1h.9v.9h-.9zM370.9,493.7h.9v.9h-.9zM365.5,509.4h.9v.9h-.9zM369.5,491.2h.9v.9h-.9zM366.6,482.4h.9v.9h-.9zM368.9,502.8h.9v.9h-.9zM370.1,481.3h.9v.9h-.9zM370.6,479.3h.9v.9h-.9zM366.0,516.8h.9v.9h-.9zM373.0,513.6h.9v.9h-.9zM367.7,490.5h.9v.9h-.9zM368.6,510.8h.9v.9h-.9zM368.9,472.4h.9v.9h-.9zM367.6,494.4h.9v.9h-.9zM367.3,492.0h.9v.9h-.9zM365.9,485.0h.9v.9h-.9zM368.0,505.7h.9v.9h-.9zM372.0,515.0h.9v.9h-.9zM369.8,510.6h.9v.9h-.9zM367.5,515.3h.9v.9h-.9zM366.0,491.1h.9v.9h-.9zM370.6,503.4h.9v.9h-.9zM368.9,492.0h.9v.9h-.9zM370.5,515.2h.9v.9h-.9zM368.3,491.4h.9v.9h-.9zM370.1,482.1h.9v.9h-.9zM368.9,531.6h.9v.9h-.9zM365.2,531.7h.9v.9h-.9zM369.5,526.7h.9v.9h-.9zM371.9,531.7h.9v.9h-.9zM369.4,530.5h.9v.9h-.9zM368.3,535.5h.9v.9h-.9zM368.0,539.0h.9v.9h-.9zM366.6,535.5h.9v.9h-.9zM369.8,547.4h.9v.9h-.9zM366.9,548.1h.9v.9h-.9zM367.0,547.8h.9v.9h-.9zM367.3,547.7h.9v.9h-.9zM380.4,486.2h.9v.9h-.9zM382.5,483.0h.9v.9h-.9zM380.0,496.9h.9v.9h-.9zM386.5,505.7h.9v.9h-.9zM377.2,507.0h.9v.9h-.9zM378.5,504.8h.9v.9h-.9zM383.4,494.7h.9v.9h-.9zM378.5,494.7h.9v.9h-.9zM380.8,489.6h.9v.9h-.9zM377.3,491.4h.9v.9h-.9zM377.8,486.4h.9v.9h-.9zM379.1,486.5h.9v.9h-.9zM378.7,483.3h.9v.9h-.9zM378.6,503.8h.9v.9h-.9zM382.2,486.3h.9v.9h-.9zM376.4,508.4h.9v.9h-.9zM377.5,510.5h.9v.9h-.9zM379.4,520.5h.9v.9h-.9zM379.0,506.1h.9v.9h-.9zM379.5,507.4h.9v.9h-.9zM382.4,497.9h.9v.9h-.9zM381.2,503.0h.9v.9h-.9zM378.5,497.4h.9v.9h-.9zM379.6,555.3h.9v.9h-.9zM376.3,563.4h.9v.9h-.9zM379.2,557.1h.9v.9h-.9zM379.7,559.6h.9v.9h-.9zM378.5,556.5h.9v.9h-.9zM380.6,559.1h.9v.9h-.9zM381.2,549.5h.9v.9h-.9zM379.4,562.1h.9v.9h-.9zM379.5,558.5h.9v.9h-.9zM379.6,551.9h.9v.9h-.9zM382.9,555.6h.9v.9h-.9zM389.9,485.8h.9v.9h-.9zM389.4,491.8h.9v.9h-.9zM393.5,493.0h.9v.9h-.9zM388.7,496.7h.9v.9h-.9zM389.1,474.1h.9v.9h-.9zM387.2,481.5h.9v.9h-.9zM390.7,485.8h.9v.9h-.9zM388.4,493.1h.9v.9h-.9zM392.0,494.2h.9v.9h-.9zM389.2,480.2h.9v.9h-.9zM390.6,496.8h.9v.9h-.9zM389.9,482.0h.9v.9h-.9zM388.1,481.8h.9v.9h-.9zM388.2,489.0h.9v.9h-.9zM391.3,497.5h.9v.9h-.9zM387.5,473.1h.9v.9h-.9zM391.9,506.9h.9v.9h-.9zM387.3,507.7h.9v.9h-.9zM392.5,501.3h.9v.9h-.9zM390.6,516.1h.9v.9h-.9zM389.3,513.1h.9v.9h-.9zM389.3,511.7h.9v.9h-.9zM388.9,520.4h.9v.9h-.9zM391.2,517.8h.9v.9h-.9zM391.9,518.8h.9v.9h-.9zM388.0,560.7h.9v.9h-.9zM388.8,562.6h.9v.9h-.9zM388.5,553.4h.9v.9h-.9zM389.5,552.3h.9v.9h-.9zM391.4,564.0h.9v.9h-.9zM390.4,555.8h.9v.9h-.9zM402.6,484.2h.9v.9h-.9zM401.2,478.5h.9v.9h-.9zM399.4,487.5h.9v.9h-.9zM402.5,493.9h.9v.9h-.9zM398.2,477.2h.9v.9h-.9zM400.2,480.7h.9v.9h-.9zM401.1,474.9h.9v.9h-.9zM399.1,473.1h.9v.9h-.9zM400.0,493.7h.9v.9h-.9zM401.6,484.7h.9v.9h-.9zM398.7,487.1h.9v.9h-.9zM402.4,491.4h.9v.9h-.9zM401.4,500.6h.9v.9h-.9zM402.9,504.4h.9v.9h-.9zM397.1,505.4h.9v.9h-.9zM397.2,500.7h.9v.9h-.9zM398.2,501.4h.9v.9h-.9zM399.9,500.0h.9v.9h-.9zM399.4,507.8h.9v.9h-.9zM398.9,520.9h.9v.9h-.9zM397.3,517.4h.9v.9h-.9zM399.1,510.2h.9v.9h-.9zM398.3,519.7h.9v.9h-.9zM400.4,519.1h.9v.9h-.9zM398.7,519.3h.9v.9h-.9zM399.9,512.3h.9v.9h-.9zM400.2,518.8h.9v.9h-.9zM401.7,531.6h.9v.9h-.9zM401.1,526.0h.9v.9h-.9zM399.9,535.0h.9v.9h-.9zM401.1,539.4h.9v.9h-.9zM402.5,542.2h.9v.9h-.9zM400.1,526.6h.9v.9h-.9zM400.7,528.2h.9v.9h-.9zM401.8,529.3h.9v.9h-.9zM402.7,544.3h.9v.9h-.9zM398.0,541.4h.9v.9h-.9zM400.9,525.1h.9v.9h-.9zM401.9,541.6h.9v.9h-.9zM401.7,534.9h.9v.9h-.9zM400.5,535.5h.9v.9h-.9zM401.4,547.1h.9v.9h-.9zM401.0,549.4h.9v.9h-.9zM408.8,504.0h.9v.9h-.9zM412.1,502.4h.9v.9h-.9zM413.9,508.7h.9v.9h-.9zM409.0,487.2h.9v.9h-.9zM410.7,515.1h.9v.9h-.9zM407.4,500.2h.9v.9h-.9zM411.6,496.5h.9v.9h-.9zM409.1,476.8h.9v.9h-.9zM412.5,478.0h.9v.9h-.9zM406.4,516.3h.9v.9h-.9zM408.9,474.7h.9v.9h-.9zM411.5,487.6h.9v.9h-.9zM410.7,475.9h.9v.9h-.9zM408.6,549.5h.9v.9h-.9zM409.7,560.2h.9v.9h-.9zM409.7,549.9h.9v.9h-.9zM408.8,554.1h.9v.9h-.9zM411.3,562.7h.9v.9h-.9zM409.1,564.0h.9v.9h-.9zM411.9,564.6h.9v.9h-.9zM412.8,552.6h.9v.9h-.9zM408.3,564.6h.9v.9h-.9z" fill="#fff" opacity="0.3"/>
<circle cx="350" cy="485" r="1.3" fill="#111"/>
<rect x="262" y="496.4" width="164.6" height="12" rx="0" fill="none" stroke="#666" stroke-width="0.6" stroke-dasharray="3,2"/>
<rect x="263.7" y="511" width="165.2" height="44.5" rx="0" fill="none" stroke="#666" stroke-width="0.6" stroke-dasharray="3,2"/>
<text x="440.9" y="507.42" font-size="7" text-anchor="middle" fill="#222" >A</text>
<text x="441.2" y="533.32" font-size="7" text-anchor="middle" fill="#222" >E</text>
<line x1="299.4" y1="566.5" x2="299.4" y2="626.2" stroke="#222" stroke-width="0.8" />
<line x1="299.4" y1="626.2" x2="401.5" y2="626.2" stroke="#222" stroke-width="0.8" />
<text x="298" y="628.32" font-size="5.9" text-anchor="end" fill="#222" >0.0</text>
<line x1="298" y1="626.2" x2="299.4" y2="626.2" stroke="#222" stroke-width="0.6" />
<text x="298" y="616.70" font-size="5.9" text-anchor="end" fill="#222" >0.5</text>
<line x1="298" y1="614.58" x2="299.4" y2="614.58" stroke="#222" stroke-width="0.6" />
<text x="298" y="605.08" font-size="5.9" text-anchor="end" fill="#222" >1.0</text>
<line x1="298" y1="602.96" x2="299.4" y2="602.96" stroke="#222" stroke-width="0.6" />
<text x="298" y="593.46" font-size="5.9" text-anchor="end" fill="#222" >1.5</text>
<line x1="298" y1="591.34" x2="299.4" y2="591.34" stroke="#222" stroke-width="0.6" />
<text x="298" y="581.84" font-size="5.9" text-anchor="end" fill="#222" >2.0</text>
<line x1="298" y1="579.72" x2="299.4" y2="579.72" stroke="#222" stroke-width="0.6" />
<text x="298" y="570.22" font-size="5.9" text-anchor="end" fill="#222" >2.5</text>
<line x1="298" y1="568.1" x2="299.4" y2="568.1" stroke="#222" stroke-width="0.6" />
<text x="299.5" y="633.92" font-size="5.9" text-anchor="middle" fill="#222" >0</text>
<line x1="299.5" y1="626.2" x2="299.5" y2="627.5" stroke="#222" stroke-width="0.6" />
<text x="312.0" y="633.92" font-size="5.9" text-anchor="middle" fill="#222" >5</text>
<line x1="312.0" y1="626.2" x2="312.0" y2="627.5" stroke="#222" stroke-width="0.6" />
<text x="324.5" y="633.92" font-size="5.9" text-anchor="middle" fill="#222" >10</text>
<line x1="324.5" y1="626.2" x2="324.5" y2="627.5" stroke="#222" stroke-width="0.6" />
<text x="337.0" y="633.92" font-size="5.9" text-anchor="middle" fill="#222" >15</text>
<line x1="337.0" y1="626.2" x2="337.0" y2="627.5" stroke="#222" stroke-width="0.6" />
<text x="349.5" y="633.92" font-size="5.9" text-anchor="middle" fill="#222" >20</text>
<line x1="349.5" y1="626.2" x2="349.5" y2="627.5" stroke="#222" stroke-width="0.6" />
<text x="399.5" y="633.92" font-size="5.9" text-anchor="middle" fill="#222" >40</text>
<line x1="399.5" y1="626.2" x2="399.5" y2="627.5" stroke="#222" stroke-width="0.6" />
<text x="361" y="640.51" font-size="5.3" text-anchor="middle" fill="#222" textLength="24.7" lengthAdjust="spacingAndGlyphs" >Time (min)</text>
<text transform="translate(283.2,596.2) rotate(-90)" x="0" y="1.94" font-size="5.4" text-anchor="middle" fill="#222" textLength="45" lengthAdjust="spacingAndGlyphs" >A/E Complex Ratio</text>
<path d="M299.50,626.20 L312.00,623.70 L324.50,622.20 L337.00,618.50 L349.50,616.30 L399.50,617.20" fill="none" stroke="#f0a0a8" stroke-width="0.7" stroke-linejoin="round" stroke-linecap="round" />
<path d="M299.50,626.20 L312.00,623.20 L324.50,621.80 L337.00,606.80 L349.50,590.80 L399.50,577.00" fill="none" stroke="#a0a8e0" stroke-width="0.7" stroke-linejoin="round" stroke-linecap="round" />
<circle cx="299.5" cy="626.2" r="1.5" fill="#111"/>
<circle cx="312.0" cy="623.2" r="1.5" fill="#111"/>
<circle cx="324.5" cy="621.8" r="1.5" fill="#111"/>
<circle cx="337.0" cy="606.8" r="1.5" fill="#111"/>
<circle cx="349.5" cy="590.8" r="1.5" fill="#111"/>
<circle cx="399.5" cy="577.0" r="1.5" fill="#111"/>
<circle cx="299.5" cy="626.2" r="1.5" fill="#111"/>
<circle cx="312.0" cy="623.7" r="1.5" fill="#111"/>
<circle cx="324.5" cy="622.2" r="1.5" fill="#111"/>
<circle cx="337.0" cy="618.5" r="1.5" fill="#111"/>
<circle cx="349.5" cy="616.3" r="1.5" fill="#111"/>
<circle cx="399.5" cy="617.2" r="1.5" fill="#111"/>
<line x1="308" y1="571.7" x2="315.5" y2="571.7" stroke="#222" stroke-width="0.6" />
<circle cx="311.5" cy="571.7" r="1.4" fill="#111"/>
<text x="317.5" y="573.62" font-size="5.6" text-anchor="start" fill="#222">SF3B1<tspan font-size="3.2" dy="-2.13">WT</tspan></text>
<line x1="308" y1="580" x2="315.5" y2="580" stroke="#e8a0a8" stroke-width="0.6" />
<circle cx="311.5" cy="580" r="1.4" fill="#111"/>
<text x="317.5" y="582.02" font-size="5.6" text-anchor="start" fill="#222">SF3B1<tspan font-size="3.2" dy="-2.13">K700E</tspan></text>
<rect x="37.3" y="687.4" width="169.0" height="114.20000000000005" rx="0" fill="none" stroke="#c8c8c8" stroke-width="0.8" />
<text x="32.8" y="708.25" font-size="5.7" text-anchor="end" fill="#333" >0.4</text>
<text x="32.8" y="738.35" font-size="5.7" text-anchor="end" fill="#333" >0.2</text>
<text x="32.8" y="770.55" font-size="5.7" text-anchor="end" fill="#333" >0.0</text>
<text x="32.8" y="799.25" font-size="5.7" text-anchor="end" fill="#333" >-0.2</text>
<text transform="translate(17.3,743.3) rotate(-90)" x="0" y="2.23" font-size="6.2" text-anchor="middle" fill="#333" textLength="75.4" lengthAdjust="spacingAndGlyphs" >Log2FoldChange (IP/Input)</text>
<text x="48" y="808.74" font-size="5.4" text-anchor="middle" fill="#333" >-1kb</text>
<text x="65.3" y="808.74" font-size="5.4" text-anchor="middle" fill="#333" >TSS</text>
<text x="161" y="808.74" font-size="5.4" text-anchor="middle" fill="#333" >TES</text>
<text x="196.7" y="808.74" font-size="5.4" text-anchor="middle" fill="#333" >+2kb</text>
<path d="M44.90,779.81 C45.18,779.19 46.03,777.46 46.60,776.11 C47.17,774.76 47.73,773.14 48.30,771.72 C48.87,770.30 49.44,769.32 50.00,767.61 C50.56,765.89 51.11,763.55 51.67,761.43 C52.22,759.30 52.78,756.98 53.33,754.86 C53.89,752.74 54.39,751.51 55.00,748.71 C55.61,745.91 56.33,741.56 57.00,738.06 C57.67,734.57 58.25,731.48 59.00,727.75 C59.75,724.02 60.80,718.39 61.50,715.69 C62.20,712.99 62.53,711.11 63.20,711.55 C63.87,711.99 64.78,714.70 65.50,718.32 C66.22,721.95 66.75,729.01 67.50,733.31 C68.25,737.60 69.33,741.94 70.00,744.09 C70.67,746.24 71.00,745.46 71.50,746.20 C72.00,746.94 72.47,748.00 73.00,748.52 C73.53,749.04 74.11,749.05 74.67,749.31 C75.22,749.57 75.78,749.74 76.33,750.08 C76.89,750.41 77.43,751.07 78.00,751.32 C78.57,751.56 79.17,751.47 79.75,751.55 C80.33,751.64 80.92,751.76 81.50,751.84 C82.08,751.91 82.67,751.99 83.25,752.01 C83.83,752.02 84.43,752.00 85.00,751.93 C85.57,751.87 86.11,751.74 86.67,751.60 C87.22,751.47 87.78,751.31 88.33,751.14 C88.89,750.96 89.44,750.82 90.00,750.55 C90.56,750.27 91.11,749.73 91.67,749.50 C92.22,749.27 92.78,749.38 93.33,749.18 C93.89,748.97 94.44,748.54 95.00,748.27 C95.56,748.00 96.11,747.65 96.67,747.55 C97.22,747.45 97.78,747.73 98.33,747.66 C98.89,747.58 99.44,747.27 100.00,747.09 C100.56,746.90 101.11,746.70 101.67,746.56 C102.22,746.41 102.78,746.43 103.33,746.20 C103.89,745.97 104.44,745.53 105.00,745.18 C105.56,744.84 106.11,744.34 106.67,744.11 C107.22,743.88 107.78,744.06 108.33,743.81 C108.89,743.57 109.44,742.94 110.00,742.65 C110.56,742.35 111.11,742.29 111.67,742.04 C112.22,741.79 112.78,741.33 113.33,741.12 C113.89,740.90 114.44,740.90 115.00,740.75 C115.56,740.59 116.11,740.42 116.67,740.20 C117.22,739.98 117.78,739.55 118.33,739.43 C118.89,739.30 119.44,739.62 120.00,739.43 C120.56,739.23 121.11,738.52 121.67,738.27 C122.22,738.03 122.78,738.16 123.33,737.97 C123.89,737.77 124.44,737.35 125.00,737.11 C125.56,736.88 126.11,736.77 126.67,736.55 C127.22,736.33 127.78,736.02 128.33,735.77 C128.89,735.52 129.44,735.27 130.00,735.05 C130.56,734.82 131.11,734.60 131.67,734.42 C132.22,734.24 132.78,734.07 133.33,733.97 C133.89,733.87 134.44,733.94 135.00,733.80 C135.56,733.66 136.11,733.50 136.67,733.13 C137.22,732.76 137.78,732.06 138.33,731.60 C138.89,731.13 139.44,730.74 140.00,730.34 C140.56,729.95 141.11,729.59 141.67,729.23 C142.22,728.87 142.78,728.57 143.33,728.18 C143.89,727.80 144.46,727.36 145.00,726.92 C145.54,726.48 146.07,725.96 146.60,725.55 C147.13,725.14 147.67,724.86 148.20,724.45 C148.73,724.05 149.27,723.52 149.80,723.12 C150.33,722.72 150.87,722.40 151.40,722.05 C151.93,721.71 152.45,721.36 153.00,721.05 C153.55,720.75 154.12,720.51 154.68,720.22 C155.23,719.93 155.79,719.68 156.35,719.32 C156.91,718.96 157.47,718.48 158.02,718.06 C158.58,717.65 159.15,717.80 159.70,716.82 C160.25,715.84 160.80,713.75 161.35,712.20 C161.90,710.64 162.39,709.01 163.00,707.51 C163.61,706.00 164.33,704.59 165.00,703.16 C165.67,701.74 166.31,700.16 167.00,698.97 C167.69,697.78 168.43,696.98 169.15,696.04 C169.87,695.10 170.68,693.69 171.30,693.32 C171.92,692.96 172.34,693.76 172.87,693.87 C173.39,693.99 173.91,693.99 174.43,694.01 C174.96,694.04 175.49,693.88 176.00,694.03 C176.51,694.18 177.00,694.55 177.50,694.91 C178.00,695.26 178.50,695.70 179.00,696.17 C179.50,696.63 180.00,697.25 180.50,697.71 C181.00,698.16 181.50,698.42 182.00,698.91 C182.50,699.41 183.00,700.23 183.50,700.69 C184.00,701.15 184.50,701.30 185.00,701.67 C185.50,702.03 186.00,702.41 186.50,702.89 C187.00,703.37 187.47,704.03 188.00,704.56 C188.53,705.09 189.11,705.55 189.67,706.07 C190.22,706.59 190.78,707.23 191.33,707.70 C191.89,708.16 192.41,708.47 193.00,708.84 C193.59,709.21 194.23,709.52 194.85,709.92 C195.47,710.31 196.39,710.97 196.70,711.19" fill="none" stroke="#f2866e" stroke-width="0.75" stroke-linejoin="round" stroke-linecap="round" />
<path d="M44.90,773.22 C45.18,772.73 46.03,771.23 46.60,770.29 C47.17,769.36 47.73,768.77 48.30,767.60 C48.87,766.44 49.44,764.67 50.00,763.30 C50.56,761.94 51.11,760.69 51.67,759.43 C52.22,758.17 52.78,756.93 53.33,755.74 C53.89,754.55 54.39,753.97 55.00,752.31 C55.61,750.65 56.33,747.92 57.00,745.78 C57.67,743.64 58.42,741.11 59.00,739.46 C59.58,737.82 60.00,737.26 60.50,735.91 C61.00,734.57 61.33,733.21 62.00,731.39 C62.67,729.57 63.75,724.97 64.50,724.98 C65.25,724.98 65.83,728.93 66.50,731.43 C67.17,733.93 67.88,737.92 68.50,739.99 C69.12,742.07 69.67,742.95 70.25,743.86 C70.83,744.77 71.39,745.52 72.00,745.45 C72.61,745.37 73.27,743.60 73.90,743.42 C74.53,743.23 75.17,743.87 75.80,744.35 C76.43,744.84 77.08,746.13 77.70,746.32 C78.32,746.51 78.92,745.54 79.53,745.51 C80.13,745.48 80.74,745.98 81.35,746.13 C81.96,746.28 82.57,746.19 83.17,746.41 C83.78,746.64 84.42,747.30 85.00,747.49 C85.58,747.67 86.11,747.68 86.67,747.50 C87.22,747.32 87.78,746.76 88.33,746.43 C88.89,746.10 89.44,745.69 90.00,745.52 C90.56,745.35 91.11,745.05 91.67,745.40 C92.22,745.75 92.78,747.33 93.33,747.64 C93.89,747.95 94.44,747.28 95.00,747.25 C95.56,747.21 96.11,747.42 96.67,747.44 C97.22,747.46 97.78,747.67 98.33,747.37 C98.89,747.07 99.44,746.00 100.00,745.66 C100.56,745.32 101.11,745.85 101.67,745.34 C102.22,744.84 102.78,743.21 103.33,742.65 C103.89,742.09 104.44,741.99 105.00,741.98 C105.56,741.97 106.11,742.50 106.67,742.60 C107.22,742.69 107.78,742.79 108.33,742.55 C108.89,742.31 109.44,741.30 110.00,741.15 C110.56,741.00 111.11,741.80 111.67,741.66 C112.22,741.53 112.78,740.74 113.33,740.34 C113.89,739.95 114.44,739.55 115.00,739.30 C115.56,739.06 116.11,739.06 116.67,738.87 C117.22,738.67 117.78,738.21 118.33,738.12 C118.89,738.03 119.44,738.33 120.00,738.32 C120.56,738.31 121.11,738.16 121.67,738.06 C122.22,737.97 122.78,737.90 123.33,737.77 C123.89,737.65 124.44,737.68 125.00,737.33 C125.56,736.97 126.11,735.77 126.67,735.66 C127.22,735.55 127.78,736.66 128.33,736.68 C128.89,736.69 129.44,735.77 130.00,735.74 C130.56,735.71 131.11,736.57 131.67,736.50 C132.22,736.42 132.78,735.70 133.33,735.28 C133.89,734.86 134.44,734.15 135.00,733.99 C135.56,733.82 136.11,734.87 136.67,734.29 C137.22,733.70 137.78,731.08 138.33,730.47 C138.89,729.86 139.44,730.83 140.00,730.63 C140.56,730.43 141.11,729.60 141.67,729.26 C142.22,728.93 142.78,728.91 143.33,728.60 C143.89,728.28 144.44,727.47 145.00,727.37 C145.56,727.28 146.11,728.08 146.67,728.03 C147.22,727.97 147.78,727.60 148.33,727.04 C148.89,726.49 149.44,725.05 150.00,724.70 C150.56,724.35 151.11,725.03 151.67,724.94 C152.22,724.85 152.78,724.23 153.33,724.14 C153.89,724.06 154.46,724.73 155.00,724.42 C155.54,724.11 156.04,722.38 156.57,722.29 C157.09,722.21 157.61,724.03 158.13,723.91 C158.66,723.78 159.16,722.32 159.70,721.54 C160.24,720.77 160.80,720.29 161.35,719.24 C161.90,718.18 162.39,716.77 163.00,715.24 C163.61,713.70 164.33,711.40 165.00,710.03 C165.67,708.66 166.33,707.83 167.00,707.01 C167.67,706.19 168.33,705.55 169.00,705.13 C169.67,704.71 170.33,704.66 171.00,704.48 C171.67,704.30 172.33,704.15 173.00,704.06 C173.67,703.97 174.35,704.48 175.00,703.95 C175.65,703.43 176.27,701.54 176.90,700.90 C177.53,700.25 178.13,700.16 178.80,700.07 C179.47,699.98 180.20,699.91 180.90,700.34 C181.60,700.78 182.37,701.91 183.00,702.68 C183.63,703.45 184.11,704.34 184.67,704.95 C185.22,705.56 185.78,705.98 186.33,706.34 C186.89,706.71 187.39,706.87 188.00,707.14 C188.61,707.41 189.33,707.58 190.00,707.96 C190.67,708.35 191.41,709.00 192.00,709.46 C192.59,709.92 193.04,710.68 193.57,710.74 C194.09,710.80 194.61,709.70 195.13,709.83 C195.66,709.95 196.44,711.21 196.70,711.49" fill="none" stroke="#3f7f3a" stroke-width="0.75" stroke-linejoin="round" stroke-linecap="round" />
<path d="M44.90,770.72 C45.18,770.27 46.03,769.11 46.60,768.06 C47.17,767.02 47.73,765.69 48.30,764.46 C48.87,763.24 49.44,761.79 50.00,760.72 C50.56,759.65 51.11,759.13 51.67,758.05 C52.22,756.96 52.78,755.76 53.33,754.21 C53.89,752.67 54.39,750.70 55.00,748.80 C55.61,746.91 56.33,744.61 57.00,742.84 C57.67,741.07 58.42,739.93 59.00,738.19 C59.58,736.44 60.00,734.14 60.50,732.36 C61.00,730.58 61.33,728.82 62.00,727.50 C62.67,726.17 63.75,724.11 64.50,724.41 C65.25,724.72 65.83,726.76 66.50,729.34 C67.17,731.91 67.88,737.15 68.50,739.88 C69.12,742.61 69.67,744.13 70.25,745.70 C70.83,747.28 71.39,748.54 72.00,749.35 C72.61,750.16 73.27,750.36 73.90,750.56 C74.53,750.75 75.17,750.65 75.80,750.53 C76.43,750.41 77.08,750.00 77.70,749.84 C78.32,749.68 78.92,749.59 79.53,749.55 C80.13,749.52 80.74,749.62 81.35,749.62 C81.96,749.62 82.57,749.60 83.17,749.56 C83.78,749.52 84.42,749.35 85.00,749.40 C85.58,749.44 86.11,749.72 86.67,749.83 C87.22,749.93 87.78,750.05 88.33,750.02 C88.89,749.99 89.44,749.63 90.00,749.63 C90.56,749.62 91.11,749.87 91.67,750.01 C92.22,750.15 92.78,750.40 93.33,750.45 C93.89,750.50 94.44,750.40 95.00,750.32 C95.56,750.24 96.11,750.20 96.67,749.96 C97.22,749.71 97.78,749.23 98.33,748.86 C98.89,748.50 99.44,748.00 100.00,747.76 C100.56,747.52 101.11,747.54 101.67,747.42 C102.22,747.30 102.78,747.10 103.33,747.04 C103.89,746.98 104.46,747.00 105.00,747.04 C105.54,747.08 106.07,747.50 106.60,747.26 C107.13,747.02 107.67,746.00 108.20,745.61 C108.73,745.21 109.27,745.10 109.80,744.90 C110.33,744.70 110.87,744.66 111.40,744.42 C111.93,744.19 112.48,743.64 113.00,743.50 C113.52,743.37 114.01,744.00 114.52,743.61 C115.03,743.21 115.53,742.03 116.04,741.15 C116.55,740.26 117.05,738.81 117.56,738.31 C118.07,737.81 118.57,738.18 119.08,738.14 C119.59,738.10 120.09,738.29 120.60,738.08 C121.11,737.87 121.64,737.02 122.17,736.88 C122.69,736.73 123.21,736.93 123.73,737.19 C124.26,737.46 124.78,738.57 125.30,738.48 C125.82,738.38 126.34,737.11 126.87,736.64 C127.39,736.17 127.91,736.00 128.43,735.67 C128.96,735.33 129.46,734.77 130.00,734.63 C130.54,734.48 131.11,734.78 131.67,734.80 C132.23,734.82 132.79,735.11 133.34,734.75 C133.90,734.39 134.46,732.99 135.01,732.65 C135.57,732.31 136.13,732.85 136.69,732.73 C137.24,732.61 137.80,732.45 138.36,731.92 C138.91,731.38 139.47,729.65 140.03,729.55 C140.59,729.44 141.14,731.21 141.70,731.31 C142.26,731.41 142.81,730.54 143.36,730.13 C143.91,729.72 144.47,729.57 145.02,728.86 C145.57,728.15 146.13,726.46 146.68,725.85 C147.23,725.25 147.79,725.56 148.34,725.21 C148.89,724.86 149.45,724.09 150.00,723.76 C150.55,723.43 151.08,723.38 151.62,723.22 C152.16,723.07 152.69,723.00 153.23,722.82 C153.77,722.65 154.31,722.45 154.85,722.17 C155.39,721.88 155.93,721.47 156.47,721.12 C157.01,720.76 157.54,720.39 158.08,720.05 C158.62,719.70 159.16,719.73 159.70,719.03 C160.24,718.34 160.80,717.24 161.35,715.87 C161.90,714.50 162.39,712.52 163.00,710.83 C163.61,709.13 164.33,707.31 165.00,705.68 C165.67,704.06 166.33,701.99 167.00,701.08 C167.67,700.17 168.33,700.66 169.00,700.22 C169.67,699.79 170.33,698.79 171.00,698.45 C171.67,698.11 172.33,698.35 173.00,698.16 C173.67,697.97 174.39,697.51 175.00,697.29 C175.61,697.07 176.11,696.81 176.67,696.86 C177.22,696.90 177.78,697.38 178.33,697.58 C178.89,697.77 179.43,697.51 180.00,698.05 C180.57,698.60 181.17,700.30 181.75,700.83 C182.33,701.35 182.92,701.09 183.50,701.22 C184.08,701.34 184.67,701.35 185.25,701.56 C185.83,701.78 186.43,701.94 187.00,702.49 C187.57,703.04 188.11,703.91 188.67,704.86 C189.22,705.81 189.78,707.58 190.33,708.21 C190.89,708.85 191.46,708.30 192.00,708.67 C192.54,709.04 193.04,709.90 193.57,710.42 C194.09,710.93 194.61,711.47 195.13,711.75 C195.66,712.03 196.44,712.06 196.70,712.12" fill="none" stroke="#c04a2a" stroke-width="0.75" stroke-linejoin="round" stroke-linecap="round" />
<path d="M44.90,795.86 C45.18,795.26 46.03,793.47 46.60,792.26 C47.17,791.05 47.73,789.81 48.30,788.59 C48.87,787.37 49.44,786.61 50.00,784.95 C50.56,783.28 51.11,780.75 51.67,778.60 C52.22,776.44 52.78,774.27 53.33,772.02 C53.89,769.77 54.39,768.34 55.00,765.11 C55.61,761.88 56.33,756.76 57.00,752.66 C57.67,748.55 58.25,745.54 59.00,740.50 C59.75,735.46 60.75,727.19 61.50,722.42 C62.25,717.66 62.83,712.95 63.50,711.92 C64.17,710.90 64.83,712.95 65.50,716.26 C66.17,719.57 66.75,726.73 67.50,731.78 C68.25,736.82 69.33,743.45 70.00,746.51 C70.67,749.58 71.00,748.85 71.50,750.18 C72.00,751.50 72.49,753.47 73.00,754.48 C73.51,755.49 74.04,755.66 74.57,756.24 C75.09,756.82 75.61,757.42 76.13,757.96 C76.66,758.50 77.13,759.15 77.70,759.48 C78.27,759.80 78.92,759.78 79.53,759.90 C80.13,760.02 80.74,760.11 81.35,760.20 C81.96,760.28 82.57,760.35 83.17,760.41 C83.78,760.47 84.42,760.55 85.00,760.55 C85.58,760.55 86.11,760.44 86.67,760.42 C87.22,760.40 87.78,760.48 88.33,760.43 C88.89,760.39 89.44,760.21 90.00,760.13 C90.56,760.06 91.11,760.04 91.67,759.99 C92.22,759.95 92.78,759.84 93.33,759.87 C93.89,759.91 94.44,760.17 95.00,760.19 C95.56,760.21 96.11,760.04 96.67,759.99 C97.22,759.94 97.78,759.95 98.33,759.89 C98.89,759.83 99.44,759.72 100.00,759.62 C100.56,759.52 101.11,759.33 101.67,759.29 C102.22,759.24 102.78,759.37 103.33,759.35 C103.89,759.33 104.46,759.26 105.00,759.16 C105.54,759.06 106.07,758.82 106.60,758.74 C107.13,758.66 107.67,758.71 108.20,758.67 C108.73,758.64 109.27,758.64 109.80,758.52 C110.33,758.40 110.87,758.07 111.40,757.96 C111.93,757.84 112.48,758.00 113.00,757.82 C113.52,757.64 114.01,757.16 114.52,756.87 C115.03,756.59 115.53,756.37 116.04,756.11 C116.55,755.85 117.05,755.63 117.56,755.29 C118.07,754.94 118.57,754.42 119.08,754.05 C119.59,753.67 120.09,753.38 120.60,753.04 C121.11,752.70 121.64,752.42 122.17,752.00 C122.69,751.58 123.21,750.99 123.73,750.53 C124.26,750.07 124.78,749.62 125.30,749.22 C125.82,748.81 126.34,748.43 126.87,748.11 C127.39,747.79 127.91,747.60 128.43,747.29 C128.96,746.97 129.46,746.59 130.00,746.25 C130.54,745.90 131.11,745.54 131.67,745.24 C132.23,744.93 132.79,744.69 133.34,744.40 C133.90,744.11 134.46,743.76 135.01,743.48 C135.57,743.21 136.13,743.05 136.69,742.76 C137.24,742.47 137.80,742.15 138.36,741.73 C138.91,741.30 139.47,740.62 140.03,740.20 C140.59,739.78 141.14,739.65 141.70,739.22 C142.26,738.79 142.81,738.13 143.36,737.63 C143.91,737.13 144.47,736.64 145.02,736.21 C145.57,735.79 146.13,735.45 146.68,735.07 C147.23,734.69 147.79,734.41 148.34,733.92 C148.89,733.43 149.45,732.65 150.00,732.14 C150.55,731.63 151.08,731.34 151.62,730.87 C152.16,730.39 152.69,729.69 153.23,729.30 C153.77,728.91 154.31,728.78 154.85,728.53 C155.39,728.28 155.93,728.13 156.47,727.79 C157.01,727.45 157.54,726.82 158.08,726.49 C158.62,726.16 159.16,726.75 159.70,725.81 C160.24,724.87 160.80,722.46 161.35,720.85 C161.90,719.25 162.39,717.86 163.00,716.18 C163.61,714.51 164.33,712.64 165.00,710.79 C165.67,708.95 166.38,706.59 167.00,705.13 C167.62,703.66 168.17,703.10 168.75,702.03 C169.33,700.96 169.88,699.52 170.50,698.69 C171.12,697.86 171.83,697.65 172.50,697.04 C173.17,696.43 173.86,695.27 174.50,695.03 C175.14,694.79 175.72,695.37 176.33,695.63 C176.94,695.90 177.56,696.38 178.17,696.62 C178.78,696.85 179.40,696.78 180.00,697.03 C180.60,697.27 181.17,697.65 181.75,698.09 C182.33,698.53 182.92,699.21 183.50,699.68 C184.08,700.16 184.67,700.55 185.25,700.93 C185.83,701.31 186.43,701.50 187.00,701.98 C187.57,702.45 188.11,703.21 188.67,703.79 C189.22,704.38 189.78,704.93 190.33,705.49 C190.89,706.05 191.46,706.49 192.00,707.15 C192.54,707.82 193.04,708.69 193.57,709.49 C194.09,710.28 194.61,711.20 195.13,711.94 C195.66,712.69 196.44,713.61 196.70,713.94" fill="none" stroke="#5258a8" stroke-width="0.75" stroke-linejoin="round" stroke-linecap="round" />
<line x1="74.5" y1="694" x2="84" y2="694" stroke="#5258a8" stroke-width="1.0" />
<text x="87.2" y="695.94" font-size="5.4" text-anchor="start" fill="#222" >WT + shScrambled</text>
<line x1="74.5" y1="701.4" x2="84" y2="701.4" stroke="#c04a2a" stroke-width="1.0" />
<text x="87.2" y="703.34" font-size="5.4" text-anchor="start" fill="#222" >WT + shDDX46</text>
<line x1="74.5" y1="709.2" x2="84" y2="709.2" stroke="#3f7f3a" stroke-width="1.0" />
<text x="87.2" y="711.14" font-size="5.4" text-anchor="start" fill="#222" >WT + shHTATSF1</text>
<line x1="74.5" y1="717.7" x2="84" y2="717.7" stroke="#f2866e" stroke-width="1.0" />
<text x="87.2" y="719.54" font-size="5.4" text-anchor="start" fill="#222">SF3B1<tspan font-size="3.0" dy="-2.05">K700E</tspan></text>
<text x="267" y="677.88" font-size="6.9" text-anchor="middle" fill="#222" textLength="33.8" lengthAdjust="spacingAndGlyphs" >E Complex</text>
<text x="374.5" y="677.68" font-size="6.9" text-anchor="middle" fill="#222" textLength="33.4" lengthAdjust="spacingAndGlyphs" >A Complex</text>
<text x="454.2" y="677.48" font-size="6.9" text-anchor="middle" fill="#222" textLength="34.3" lengthAdjust="spacingAndGlyphs" >B Complex</text>
<path d="M210.5,728.6 Q216.75,729.0000000000001 223,728.2" fill="none" stroke="#1c74c4" stroke-width="4.8"/>
<path d="M226.2,696.2 C219,696.6 214.6,697.4 214.6,701.3 C215,707 228,716 231.5,720.5 Q233,723 232.5,725" fill="none" stroke="#3a6cb4" stroke-width="0.75"/>
<path d="M238.3,696.6 Q240,697.2 241.5,700" fill="none" stroke="#3a6cb4" stroke-width="0.75"/>
<circle cx="230.2" cy="724.8" r="8.6" fill="#f8b08a" stroke="#e88e68" stroke-width="0.6" stroke-dasharray="1.2,0.8"/>
<path d="M223.6,723.0799999999999 Q230.2,725.66 233.64,717.1999999999999" fill="none" stroke="#c87a5a" stroke-width="0.35"/>
<rect x="240.0" y="716.9" width="4.4" height="8.600000000000023" rx="0" fill="#1c74c4" stroke="none" stroke-width="1" />
<path d="M238.10000000000002,709.9 Q237.60000000000002,718.4 242.8,718.3 Q248.0,718.4 247.5,709.9 Q242.8,706.9 238.10000000000002,709.9 Z" fill="#a0206a"/>
<ellipse cx="242.8" cy="705" rx="2.7" ry="5.2" fill="#f06a2a"/>
<ellipse cx="242.8" cy="708" rx="2.3" ry="2.2" fill="#c8382a" opacity="0.6"/>
<ellipse cx="249.0" cy="730.2" rx="9.6" ry="4.216" fill="#9edccf" stroke="#2f8f80" stroke-width="0.75"/>
<ellipse cx="248.6" cy="726.8000000000001" rx="9.299999999999999" ry="4.0920000000000005" fill="#9edccf" stroke="#2f8f80" stroke-width="0.75"/>
<ellipse cx="249.1" cy="727.2" rx="4.32" ry="1.364" fill="#eefaf6"/>
<path transform="rotate(0,232.5,695.6)" d="M226.7,695.6 A5.8,4.8 0 0 1 238.3,695.6 Z" fill="#dce63a" stroke="#a0a820" stroke-width="0.4"/>
<text x="230.8" y="703.4" font-size="4" text-anchor="middle" fill="#222">A</text>
<line x1="259" y1="716.9" x2="267.5" y2="716.9" stroke="#111" stroke-width="1.3"/>
<path d="M266.0,714.3 L270.5,716.9 L266.0,719.5 L267.3,716.9 Z" fill="#111"/>
<path d="M266.8,713.5 L268.3,710.8 L269.2,713.9 Z" fill="#111"/>
<path transform="rotate(30,272.4,710.5)" d="M266.89,710.5 A5.51,4.56 0 0 1 277.90999999999997,710.5 Z" fill="#dce63a" stroke="#a0a820" stroke-width="0.4"/>
<path d="M276.4,729.8 Q284.7,729.6999999999999 293,728.4" fill="none" stroke="#1c74c4" stroke-width="4.8"/>
<path d="M288.5,697.3 C284.5,697.5 283.2,699.5 283.6,702.5 C285,708 297,715 300.5,721" fill="none" stroke="#3a6cb4" stroke-width="0.75"/>
<circle cx="300" cy="726.8" r="8.3" fill="#f8b08a" stroke="#e88e68" stroke-width="0.6" stroke-dasharray="1.2,0.8"/>
<path d="M293.7,725.14 Q300,727.63 303.32,719.5" fill="none" stroke="#c87a5a" stroke-width="0.35"/>
<rect x="308.59999999999997" y="717.3" width="4.4" height="7.2000000000000455" rx="0" fill="#1c74c4" stroke="none" stroke-width="1" />
<path d="M306.7,710.3 Q306.2,718.8 311.4,718.6999999999999 Q316.59999999999997,718.8 316.09999999999997,710.3 Q311.4,707.3 306.7,710.3 Z" fill="#a0206a"/>
<ellipse cx="311.4" cy="706" rx="2.7" ry="5.2" fill="#f06a2a"/>
<ellipse cx="311.4" cy="709" rx="2.3" ry="2.2" fill="#c8382a" opacity="0.6"/>
<ellipse cx="318.59999999999997" cy="730.9" rx="9.6" ry="4.216" fill="#9edccf" stroke="#2f8f80" stroke-width="0.75"/>
<ellipse cx="318.2" cy="727.5" rx="9.299999999999999" ry="4.0920000000000005" fill="#9edccf" stroke="#2f8f80" stroke-width="0.75"/>
<ellipse cx="318.7" cy="727.9" rx="4.32" ry="1.364" fill="#eefaf6"/>
<path d="M293.65,700.2 A7.00,7.50 0 0 1 307.65,700.2" fill="none" stroke="#1aa052" stroke-width="5.2"/>
<ellipse cx="290.9" cy="697.5" rx="2.9" ry="4.4" fill="#8e2a86"/>
<circle cx="311.1" cy="696.5" r="2.8" fill="#1c2a82"/>
<text x="300.3" y="704.9" font-size="4" text-anchor="middle" fill="#222">A</text>
<line x1="328.2" y1="719.8" x2="335.7" y2="719.8" stroke="#111" stroke-width="1.3"/>
<path d="M334.2,717.1999999999999 L338.7,719.8 L334.2,722.4 L335.5,719.8 Z" fill="#111"/>
<path d="M334.8,716.2 L336.3,713.6 L337.2,716.6 Z" fill="#111"/>
<path transform="rotate(0,343,706.7)" d="M343,711.07 C339.32,710.38 337.94,706.125 339.32,702.5600000000001 Q341.16,705.32 343,704.86 Q344.84,705.32 346.68,702.5600000000001 C348.06,706.125 346.68,710.38 343,711.07 Z" fill="#1c2a82"/>
<ellipse cx="369.2" cy="693.8" rx="12.3" ry="12.3" fill="#c4def4" fill-opacity="1" stroke="#8fb6dc" stroke-width="0.6" stroke-dasharray="1.2,0.8"/>
<path d="M346,730 Q354.25,729.9 362.5,728.6" fill="none" stroke="#1c74c4" stroke-width="4.8"/>
<path d="M360,697.5 C355,697.5 352.5,699.5 353,702.5 C355,709 365,715 368.5,720.5" fill="none" stroke="#3a6cb4" stroke-width="0.75"/>
<circle cx="369.2" cy="726.9" r="8.4" fill="#f8b08a" stroke="#e88e68" stroke-width="0.6" stroke-dasharray="1.2,0.8"/>
<path d="M362.8,725.22 Q369.2,727.74 372.56,719.5" fill="none" stroke="#c87a5a" stroke-width="0.35"/>
<rect x="377.2" y="715.8" width="4.4" height="9.200000000000045" rx="0" fill="#1c74c4" stroke="none" stroke-width="1" />
<path d="M375.3,708.8 Q374.8,717.3 380,717.1999999999999 Q385.2,717.3 384.7,708.8 Q380,705.8 375.3,708.8 Z" fill="#a0206a"/>
<ellipse cx="380" cy="704.6" rx="2.7" ry="5.2" fill="#f06a2a"/>
<ellipse cx="380" cy="707.6" rx="2.3" ry="2.2" fill="#c8382a" opacity="0.6"/>
<ellipse cx="388.09999999999997" cy="731.1" rx="9.6" ry="4.216" fill="#9edccf" stroke="#2f8f80" stroke-width="0.75"/>
<ellipse cx="387.7" cy="727.7" rx="9.299999999999999" ry="4.0920000000000005" fill="#9edccf" stroke="#2f8f80" stroke-width="0.75"/>
<ellipse cx="388.2" cy="728.1" rx="4.32" ry="1.364" fill="#eefaf6"/>
<path d="M365.30,700.5 A6.70,8.00 0 0 1 378.70,700.5" fill="none" stroke="#1aa052" stroke-width="5.0"/>
<ellipse cx="362.3" cy="698.5" rx="2.7" ry="4.2" fill="#8e2a86"/>
<text x="371.2" y="705.3" font-size="4" text-anchor="middle" fill="#222">A</text>
<line x1="394.6" y1="720.3" x2="405" y2="720.3" stroke="#111" stroke-width="1.3"/>
<path d="M403.5,717.6999999999999 L408,720.3 L403.5,722.9 L404.8,720.3 Z" fill="#111"/>
<path d="M403.4,716.6 L404.9,714 L405.8,717 Z" fill="#111"/>
<path d="M402.92,710.45 A5.06,5.06 0 1 0 404.27,702.82 A4.6,4.6 0 0 1 402.92,710.45 Z" fill="#8e2a86"/>
<ellipse cx="428.2" cy="689.2" rx="8" ry="10.2" fill="#bc9e7c" fill-opacity="0.85" stroke="#9a7e60" stroke-width="0.6" stroke-dasharray="1.2,0.8"/>
<ellipse cx="443.8" cy="691.5" rx="11" ry="11" fill="#c4def4" fill-opacity="0.75" stroke="#8fb6dc" stroke-width="0.6" stroke-dasharray="1.2,0.8"/>
<ellipse cx="424.8" cy="703" rx="9" ry="8.5" fill="#c6cad2" fill-opacity="0.75" stroke="#9aa0aa" stroke-width="0.6" stroke-dasharray="1.2,0.8"/>
<ellipse cx="434.3" cy="711.3" rx="10" ry="10" fill="#d4b4e4" fill-opacity="0.7" stroke="#a884c0" stroke-width="0.6" stroke-dasharray="1.2,0.8"/>
<path d="M417,729.8 Q425.0,729.8000000000001 433,728.6" fill="none" stroke="#1c74c4" stroke-width="4.8"/>
<path d="M430,700 C426,700 423,702 424,706 C426,712 434,718 437,721" fill="none" stroke="#3a6cb4" stroke-width="0.75"/>
<circle cx="437.5" cy="725.3" r="8.4" fill="#f8b08a" stroke="#e88e68" stroke-width="0.6" stroke-dasharray="1.2,0.8"/>
<path d="M431.1,723.62 Q437.5,726.14 440.86,717.9" fill="none" stroke="#c87a5a" stroke-width="0.35"/>
<path d="M437.30,700.5 A6.20,7.10 0 0 1 449.70,700.5" fill="none" stroke="#1aa052" stroke-width="4.8"/>
<path d="M449,713 L449,724 Q449,728.5 453.5,728.8 L462,728.8" fill="none" stroke="#1c74c4" stroke-width="4.6"/>
<path d="M446.9,709.5 Q446.4,717.7 451.6,717.6 Q456.8,717.7 456.3,709.5 Q451.6,706.5 446.9,709.5 Z" fill="#a0206a"/>
<ellipse cx="451.2" cy="705.5" rx="2.9" ry="5.6" fill="#f06a2a"/>
<ellipse cx="476.2" cy="729.7" rx="9.6" ry="4.216" fill="#9edccf" stroke="#2f8f80" stroke-width="0.75"/>
<ellipse cx="475.8" cy="726.3000000000001" rx="9.299999999999999" ry="4.0920000000000005" fill="#9edccf" stroke="#2f8f80" stroke-width="0.75"/>
<ellipse cx="476.3" cy="726.7" rx="4.32" ry="1.364" fill="#eefaf6"/>
<line x1="468.2" y1="736.8" x2="484" y2="736.8" stroke="#1a9a3a" stroke-width="2.2"/>
<path d="M482.5,734.1999999999999 L487,736.8 L482.5,739.4 L483.8,736.8 Z" fill="#1a9a3a"/>
<text x="447" y="741.02" font-size="5.6" text-anchor="middle" fill="#222" textLength="36" lengthAdjust="spacingAndGlyphs" >Pol II released</text>
<text x="377.6" y="752.98" font-size="6.9" text-anchor="middle" fill="#222" textLength="67.7" lengthAdjust="spacingAndGlyphs" >A-complex not formed</text>
<text x="371.5" y="808.98" font-size="6.9" text-anchor="middle" fill="#222" textLength="55.4" lengthAdjust="spacingAndGlyphs" >Pol II not released</text>
<path d="M226.8,763.2 C219,763.5 214,765 214.5,769 C215.5,774 225,780 228.8,784.5" fill="none" stroke="#3a6cb4" stroke-width="0.75"/>
<path d="M238.5,763.5 Q240,764.5 240.8,766.5" fill="none" stroke="#3a6cb4" stroke-width="0.75"/>
<circle cx="230.2" cy="792.2" r="8.5" fill="#f8b08a" stroke="#e88e68" stroke-width="0.6" stroke-dasharray="1.2,0.8"/>
<path d="M223.7,790.5 Q230.2,793.0500000000001 233.6,784.7" fill="none" stroke="#c87a5a" stroke-width="0.35"/>
<rect x="239.6" y="783.4" width="4.4" height="8.0" rx="0" fill="#1c74c4" stroke="none" stroke-width="1" />
<path d="M237.70000000000002,776.4 Q237.20000000000002,784.9 242.4,784.8 Q247.6,784.9 247.1,776.4 Q242.4,773.4 237.70000000000002,776.4 Z" fill="#a0206a"/>
<ellipse cx="242.4" cy="771.9" rx="2.7" ry="5.2" fill="#f06a2a"/>
<ellipse cx="242.4" cy="774.9" rx="2.3" ry="2.2" fill="#c8382a" opacity="0.6"/>
<ellipse cx="249.1" cy="796.6" rx="9.6" ry="4.216" fill="#9edccf" stroke="#2f8f80" stroke-width="0.75"/>
<ellipse cx="248.7" cy="793.2" rx="9.299999999999999" ry="4.0920000000000005" fill="#9edccf" stroke="#2f8f80" stroke-width="0.75"/>
<ellipse cx="249.2" cy="793.6" rx="4.32" ry="1.364" fill="#eefaf6"/>
<path transform="rotate(0,232.3,762.5)" d="M226.5,762.5 A5.8,4.8 0 0 1 238.10000000000002,762.5 Z" fill="#dce63a" stroke="#a0a820" stroke-width="0.4"/>
<text x="230.2" y="770.1" font-size="4" text-anchor="middle" fill="#222">A</text>
<line x1="258.5" y1="783.4" x2="269.6" y2="783.4" stroke="#111" stroke-width="1.3"/>
<path d="M268.1,780.8 L272.6,783.4 L268.1,786.0 L269.40000000000003,783.4 Z" fill="#111"/>
<path d="M267.1,780.2 L268.6,777.6 L269.5,780.6 Z" fill="#111"/>
<path transform="rotate(28,271,776.2)" d="M265.49,776.2 A5.51,4.56 0 0 1 276.51,776.2 Z" fill="#dce63a" stroke="#a0a820" stroke-width="0.4"/>
<path d="M276.3,797 Q284.65,796.8000000000001 293,795.4" fill="none" stroke="#1c74c4" stroke-width="4.8"/>
<path d="M288.5,764.8 C284.5,765 282.8,767 283.2,770 C285,776 295,781 299.4,786" fill="none" stroke="#3a6cb4" stroke-width="0.75"/>
<circle cx="299.6" cy="793.5" r="8.5" fill="#f8b08a" stroke="#e88e68" stroke-width="0.6" stroke-dasharray="1.2,0.8"/>
<path d="M293.1,791.8 Q299.6,794.35 303.0,786.0" fill="none" stroke="#c87a5a" stroke-width="0.35"/>
<rect x="308.4" y="784.2" width="4.4" height="7.199999999999932" rx="0" fill="#1c74c4" stroke="none" stroke-width="1" />
<path d="M306.5,777.2 Q306.0,785.7 311.2,785.6 Q316.4,785.7 315.9,777.2 Q311.2,774.2 306.5,777.2 Z" fill="#a0206a"/>
<ellipse cx="311.2" cy="773" rx="2.7" ry="5.2" fill="#f06a2a"/>
<ellipse cx="311.2" cy="776" rx="2.3" ry="2.2" fill="#c8382a" opacity="0.6"/>
<ellipse cx="318.2" cy="797.6" rx="9.6" ry="4.216" fill="#9edccf" stroke="#2f8f80" stroke-width="0.75"/>
<ellipse cx="317.8" cy="794.2" rx="9.299999999999999" ry="4.0920000000000005" fill="#9edccf" stroke="#2f8f80" stroke-width="0.75"/>
<ellipse cx="318.3" cy="794.6" rx="4.32" ry="1.364" fill="#eefaf6"/>
<path d="M294.50,767 A5.50,7.00 0 0 1 305.50,767" fill="none" stroke="#c0162e" stroke-width="5.8"/>
<ellipse cx="291.8" cy="764.2" rx="2.9" ry="4.6" fill="#a0206a" opacity="0.9"/>
<circle cx="311.1" cy="762.5" r="2.4" fill="#f4c8c8" stroke="#d02030" stroke-width="0.6"/>
<path transform="rotate(-45,316.5,762.8)" d="M316.5,767.17 C312.82,766.4799999999999 311.44,762.2249999999999 312.82,758.66 Q314.66,761.42 316.5,760.9599999999999 Q318.34,761.42 320.18,758.66 C321.56,762.2249999999999 320.18,766.4799999999999 316.5,767.17 Z" fill="#1c2a82"/>
<text x="299.9" y="770.5" font-size="4" text-anchor="middle" fill="#222">A</text>
<line x1="326.8" y1="787.4" x2="335" y2="787.4" stroke="#111" stroke-width="1.3"/>
<path d="M333.5,784.8 L338,787.4 L333.5,790.0 L334.8,787.4 Z" fill="#111"/>
<path d="M345.4,796.5 Q353.95,796.15 362.5,794.6" fill="none" stroke="#1c74c4" stroke-width="4.8"/>
<path d="M359.7,762 C355,762.2 352,764.5 352.5,767.5 C354,773 364,779 368.5,784" fill="none" stroke="#3a6cb4" stroke-width="0.75"/>
<circle cx="369.6" cy="792" r="8.5" fill="#f8b08a" stroke="#e88e68" stroke-width="0.6" stroke-dasharray="1.2,0.8"/>
<path d="M363.1,790.3 Q369.6,792.85 373.0,784.5" fill="none" stroke="#c87a5a" stroke-width="0.35"/>
<rect x="377.5" y="782.6" width="4.4" height="8.199999999999932" rx="0" fill="#1c74c4" stroke="none" stroke-width="1" />
<path d="M375.6,775.6 Q375.1,784.1 380.3,784.0 Q385.5,784.1 385.0,775.6 Q380.3,772.6 375.6,775.6 Z" fill="#a0206a"/>
<ellipse cx="380.3" cy="770.8" rx="2.7" ry="5.2" fill="#f06a2a"/>
<ellipse cx="380.3" cy="773.8" rx="2.3" ry="2.2" fill="#c8382a" opacity="0.6"/>
<ellipse cx="387.7" cy="796.0" rx="9.6" ry="4.216" fill="#9edccf" stroke="#2f8f80" stroke-width="0.75"/>
<ellipse cx="387.3" cy="792.6" rx="9.299999999999999" ry="4.0920000000000005" fill="#9edccf" stroke="#2f8f80" stroke-width="0.75"/>
<ellipse cx="387.8" cy="793.0" rx="4.32" ry="1.364" fill="#eefaf6"/>
<path d="M363.60,766 A5.70,7.00 0 0 1 375.00,766" fill="none" stroke="#c0162e" stroke-width="5.8"/>
<ellipse cx="360" cy="763.5" rx="2.8" ry="4.6" fill="#a0206a" opacity="0.9"/>
<circle cx="380.3" cy="761.5" r="2.3" fill="#f4c8c8" stroke="#d02030" stroke-width="0.6"/>
<path transform="rotate(-45,385.5,762.3)" d="M385.5,766.67 C381.82,765.9799999999999 380.44,761.7249999999999 381.82,758.16 Q383.66,760.92 385.5,760.4599999999999 Q387.34,760.92 389.18,758.16 C390.56,761.7249999999999 389.18,765.9799999999999 385.5,766.67 Z" fill="#1c2a82"/>
<text x="370.5" y="769.0" font-size="4" text-anchor="middle" fill="#222">A</text>
<line x1="399.5" y1="793.8" x2="407.7" y2="793.8" stroke="#e03535" stroke-width="1.3" />
<line x1="399.5" y1="790.3" x2="399.5" y2="797.3" stroke="#e03535" stroke-width="1.5" />
<circle cx="419.6" cy="760.7" r="4.2" fill="#f2925e" stroke="#e0804e" stroke-width="0.5" stroke-dasharray="1,0.7"/>
<ellipse cx="419.6" cy="771" rx="4.4" ry="3.6" fill="#74acdc" fill-opacity="1" stroke="#5a90c8" stroke-width="0.6" stroke-dasharray="1.2,0.8"/>
<ellipse cx="419.6" cy="780.8" rx="4.1" ry="4.1" fill="#cca4dc" fill-opacity="1" stroke="#ad86c0" stroke-width="0.6" stroke-dasharray="1.2,0.8"/>
<ellipse cx="419.3" cy="790.8" rx="4.6" ry="3.2" fill="#bcc0ca" fill-opacity="1" stroke="#9aa0aa" stroke-width="0.6" stroke-dasharray="1.2,0.8"/>
<ellipse cx="419.6" cy="800.9" rx="3.9" ry="5.6" fill="#c4a482" fill-opacity="1" stroke="#a08462" stroke-width="0.6" stroke-dasharray="1.2,0.8"/>
<text x="425.6" y="763.00" font-size="6.4" text-anchor="start" fill="#333" >U1</text>
<text x="425.6" y="773.30" font-size="6.4" text-anchor="start" fill="#333" >U2</text>
<text x="425.6" y="783.10" font-size="6.4" text-anchor="start" fill="#333" >U4</text>
<text x="425.6" y="793.10" font-size="6.4" text-anchor="start" fill="#333" >U5</text>
<text x="425.6" y="803.20" font-size="6.4" text-anchor="start" fill="#333" >U6</text>
<path d="M436.10,764 A2.70,4.20 0 0 1 441.50,764" fill="none" stroke="#1aa052" stroke-width="4.0"/>
<path d="M436.10,777.4 A2.70,4.60 0 0 1 441.50,777.4" fill="none" stroke="#c0162e" stroke-width="4.0"/>
<path d="M434,788.8 A4.8,3.6 0 0 1 443.6,788.8 Z" fill="#dce63a" stroke="#a0a820" stroke-width="0.4"/>
<path transform="rotate(0,438.6,799.8)" d="M438.6,803.79 C435.24,803.16 433.98,799.275 435.24,796.02 Q436.92,798.54 438.6,798.12 Q440.28000000000003,798.54 441.96000000000004,796.02 C443.22,799.275 441.96000000000004,803.16 438.6,803.79 Z" fill="#1c2a82"/>
<text x="445.4" y="763.10" font-size="6.4" text-anchor="start" fill="#333">SF3B1<tspan font-size="3.4" dy="-2.43">WT</tspan></text>
<text x="445.4" y="775.90" font-size="6.4" text-anchor="start" fill="#333">SF3B1<tspan font-size="3.4" dy="-2.43">K700E</tspan></text>
<text x="445.4" y="789.40" font-size="6.4" text-anchor="start" fill="#333" >SF1</text>
<text x="445.4" y="802.00" font-size="6.4" text-anchor="start" fill="#333" >HTATSF1</text>
<ellipse cx="477.6" cy="760.3" rx="2.4" ry="4.2" fill="#f06a2a" stroke="#c0502a" stroke-width="0.4"/>
<path d="M473.6,770 Q473.2,778 477.6,777.8 Q482,778 481.6,770 L479.6,772 L477.6,770.5 L475.6,772 Z" fill="#a0206a"/>
<path d="M474.37,789.77 A4.4,4.4 0 1 0 474.37,783.03 A4.0,4.0 0 0 1 474.37,789.77 Z" fill="#8e2a86"/>
<ellipse cx="477.6" cy="799.6" rx="5.6" ry="3.2" fill="#9edccf" stroke="#2f8f80" stroke-width="0.6"/>
<ellipse cx="477.8" cy="799" rx="2.8" ry="1.1" fill="#eefaf6"/>
<text x="486.7" y="762.70" font-size="6.4" text-anchor="start" fill="#333" >U2AF65</text>
<text x="486.7" y="775.60" font-size="6.4" text-anchor="start" fill="#333" >U2AF35</text>
<text x="486.7" y="788.70" font-size="6.4" text-anchor="start" fill="#333" >DDX46</text>
<text x="486.7" y="801.70" font-size="6.4" text-anchor="start" fill="#333" >Pol II</text>
</svg>
</body></html>
